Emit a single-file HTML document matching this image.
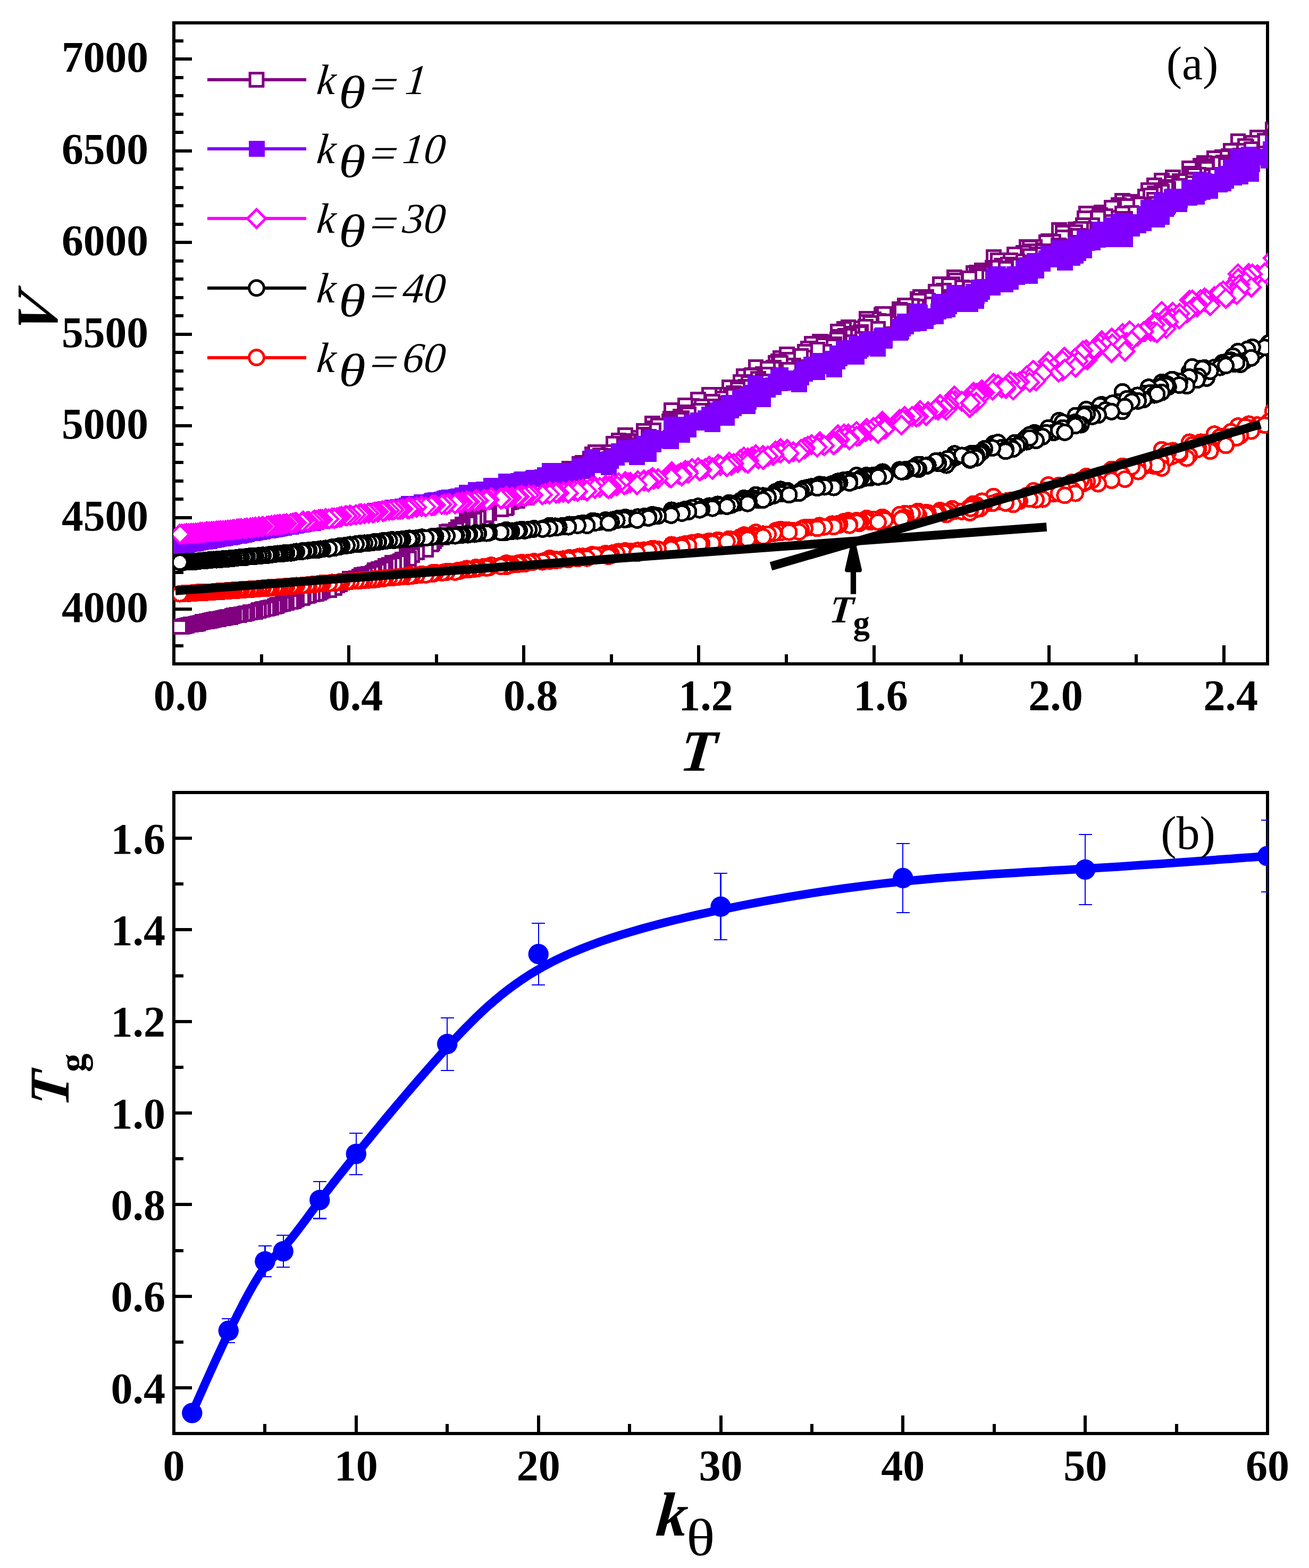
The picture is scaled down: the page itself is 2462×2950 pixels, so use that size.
<!DOCTYPE html>
<html lang="en">
<head>
<meta charset="utf-8">
<title>Volume vs temperature and glass transition temperature</title>
<style>
html,body{margin:0;padding:0;background:#fff;}
body{width:2462px;height:2950px;overflow:hidden;}
svg{display:block;}
text{white-space:pre;}
</style>
</head>
<body>
<svg width="2462" height="2950" viewBox="0 0 2462 2950" shape-rendering="crispEdges" font-family="'Liberation Serif',serif">
<rect width="2462" height="2950" fill="#fff"/>
<defs><clipPath id="ca"><rect x="326" y="42" width="2059" height="1208"/></clipPath><clipPath id="cb"><rect x="326" y="1490" width="2059" height="1208"/></clipPath></defs>
<g fill="#000">
<rect x="330" y="1212.0" width="15" height="6"/>
<rect x="330" y="1177.5" width="15" height="6"/>
<rect x="330" y="1143.0" width="31" height="6"/>
<rect x="330" y="1108.5" width="15" height="6"/>
<rect x="330" y="1074.0" width="15" height="6"/>
<rect x="330" y="1039.5" width="15" height="6"/>
<rect x="330" y="1005.0" width="15" height="6"/>
<rect x="330" y="970.5" width="31" height="6"/>
<rect x="330" y="936.0" width="15" height="6"/>
<rect x="330" y="901.5" width="15" height="6"/>
<rect x="330" y="867.0" width="15" height="6"/>
<rect x="330" y="832.5" width="15" height="6"/>
<rect x="330" y="798.0" width="31" height="6"/>
<rect x="330" y="763.5" width="15" height="6"/>
<rect x="330" y="729.0" width="15" height="6"/>
<rect x="330" y="694.5" width="15" height="6"/>
<rect x="330" y="660.0" width="15" height="6"/>
<rect x="330" y="625.5" width="31" height="6"/>
<rect x="330" y="591.0" width="15" height="6"/>
<rect x="330" y="556.5" width="15" height="6"/>
<rect x="330" y="522.0" width="15" height="6"/>
<rect x="330" y="487.5" width="15" height="6"/>
<rect x="330" y="453.0" width="31" height="6"/>
<rect x="330" y="418.5" width="15" height="6"/>
<rect x="330" y="384.0" width="15" height="6"/>
<rect x="330" y="349.5" width="15" height="6"/>
<rect x="330" y="315.0" width="15" height="6"/>
<rect x="330" y="280.5" width="31" height="6"/>
<rect x="330" y="246.0" width="15" height="6"/>
<rect x="330" y="211.5" width="15" height="6"/>
<rect x="330" y="177.0" width="15" height="6"/>
<rect x="330" y="142.5" width="15" height="6"/>
<rect x="330" y="108.0" width="31" height="6"/>
<rect x="330" y="73.5" width="15" height="6"/>
<rect x="488.6" y="1231" width="6" height="15"/>
<rect x="653.1" y="1214" width="6" height="32"/>
<rect x="817.7" y="1231" width="6" height="15"/>
<rect x="982.2" y="1214" width="6" height="32"/>
<rect x="1146.8" y="1231" width="6" height="15"/>
<rect x="1311.4" y="1214" width="6" height="32"/>
<rect x="1475.9" y="1231" width="6" height="15"/>
<rect x="1640.5" y="1214" width="6" height="32"/>
<rect x="1805.0" y="1231" width="6" height="15"/>
<rect x="1969.6" y="1214" width="6" height="32"/>
<rect x="2134.2" y="1231" width="6" height="15"/>
<rect x="2298.7" y="1214" width="6" height="32"/>
</g>
<rect x="327.0" y="43.0" width="2057.0" height="1206.0" fill="none" stroke="#000" stroke-width="6"/>
<g clip-path="url(#ca)">
<polyline points="2466.9,219.5 2486.5,231.8 2479.7,231.9 2444.2,229.2 2443.7,233.6 2435.3,230.1 2450.7,232.1 2435.2,234.8 2445.3,241.8 2394.3,243.5 2451.5,241.0 2417.2,249.3 2426.9,251.5 2407.9,250.8 2399.3,256.5 2410.1,252.7 2412.3,255.4 2389.5,259.9 2386.1,259.7 2396.9,265.3 2364.6,258.4 2348.7,271.9 2378.8,264.5 2355.3,269.1 2328.5,265.9 2344.1,276.4 2346.1,281.3 2328.7,282.4 2319.0,283.4 2342.2,275.2 2353.4,280.5 2328.8,283.9 2315.3,283.9 2331.3,294.8 2333.0,292.7 2310.4,293.9 2321.3,298.1 2326.0,294.0 2299.2,296.2 2283.9,298.3 2300.5,306.3 2294.4,307.7 2305.5,310.7 2258.3,314.9 2265.2,306.5 2257.7,312.0 2237.3,317.1 2266.5,312.7 2269.4,318.3 2242.3,327.0 2276.2,329.4 2261.8,331.4 2254.0,329.0 2245.6,329.9 2251.3,337.6 2205.8,333.4 2236.5,338.5 2232.0,344.8 2185.1,339.6 2218.8,340.6 2203.8,345.3 2218.0,350.0 2191.8,351.5 2195.1,352.2 2197.3,356.0 2171.0,348.8 2193.3,354.1 2176.3,360.5 2182.7,357.9 2160.2,358.2 2184.8,360.9 2171.9,364.2 2153.5,369.4 2163.8,367.9 2170.8,375.4 2176.0,383.7 2111.2,377.9 2151.1,386.1 2139.3,383.9 2124.9,379.9 2104.2,385.7 2140.6,384.7 2091.0,394.3 2119.6,388.1 2128.5,400.8 2072.0,399.7 2091.0,390.5 2068.6,404.7 2092.3,410.1 2110.8,402.0 2115.7,411.7 2043.0,401.8 2060.3,412.7 2079.0,406.6 2090.5,417.8 2065.4,410.1 2040.0,410.4 2054.5,423.6 2044.6,433.5 2036.9,423.5 2023.1,431.7 2039.0,430.6 2033.2,430.8 2021.7,436.9 2015.1,443.4 1991.7,433.0 2001.7,442.8 2027.9,443.9 1998.4,438.3 1971.7,453.4 2017.3,456.9 1998.5,446.5 2022.6,460.0 1981.5,454.8 1967.8,455.9 1945.7,465.1 1991.3,461.6 2002.8,464.1 1944.1,471.2 1942.9,472.2 1961.0,472.5 1931.0,464.7 1936.8,465.9 1931.1,479.5 1936.5,472.7 1948.5,479.3 1924.9,476.0 1936.7,481.8 1908.3,479.1 1917.5,493.6 1868.8,484.2 1876.9,490.0 1913.0,491.7 1883.8,499.6 1900.5,490.3 1895.5,498.2 1905.3,499.4 1891.8,504.5 1891.2,506.2 1866.6,504.1 1851.7,509.1 1846.8,508.4 1846.9,513.9 1831.0,513.4 1837.2,513.0 1841.1,517.6 1843.0,521.2 1828.1,531.0 1795.3,521.4 1824.3,526.7 1825.3,533.6 1836.5,520.3 1823.1,523.7 1796.8,528.0 1791.1,534.5 1836.0,546.4 1809.1,540.5 1824.1,545.9 1825.2,541.7 1767.9,535.1 1785.2,537.0 1782.2,552.7 1779.8,551.0 1775.1,546.6 1764.7,558.9 1759.9,549.3 1725.4,562.7 1745.2,566.0 1730.4,558.4 1741.8,558.8 1726.9,569.1 1742.1,562.7 1741.4,573.0 1727.9,566.0 1723.8,576.6 1715.5,575.4 1701.4,575.0 1702.2,574.9 1692.0,581.7 1703.6,574.5 1692.5,583.3 1698.4,584.7 1659.8,591.3 1695.4,584.9 1661.4,599.5 1657.6,592.7 1662.9,591.1 1652.0,603.9 1663.1,607.0 1643.2,600.9 1630.0,599.8 1629.8,605.7 1664.3,604.5 1637.2,608.1 1611.1,618.1 1627.9,615.0 1595.5,615.9 1651.4,618.7 1587.4,618.9 1619.2,624.7 1616.1,626.8 1575.9,623.4 1603.1,627.4 1611.3,638.3 1597.5,632.6 1589.5,632.0 1597.6,643.5 1579.1,636.7 1577.9,633.9 1565.3,643.5 1574.7,638.7 1542.0,642.5 1568.9,648.0 1541.3,648.0 1526.4,647.3 1548.4,650.2 1568.0,652.0 1550.5,661.6 1519.6,655.5 1537.1,658.1 1512.1,671.4 1513.7,662.2 1513.3,673.0 1467.8,674.3 1506.5,670.0 1480.2,666.6 1481.9,676.7 1463.6,679.7 1458.6,683.0 1464.6,681.3 1492.1,688.2 1503.0,691.1 1468.2,682.6 1484.0,695.4 1455.3,692.1 1421.4,691.0 1454.2,694.1 1455.2,705.7 1435.2,704.0 1444.0,694.2 1444.6,704.4 1414.4,705.5 1399.1,707.6 1417.4,708.3 1413.3,706.4 1406.4,718.6 1426.3,713.0 1435.2,717.7 1392.4,718.9 1408.2,720.6 1408.2,729.2 1399.8,729.9 1401.5,727.6 1371.4,728.7 1387.4,733.0 1406.2,741.5 1379.9,740.1 1350.1,742.9 1367.8,742.7 1375.2,745.3 1354.9,749.7 1333.9,743.1 1367.2,760.2 1313.1,752.2 1340.0,755.4 1326.5,765.9 1301.3,763.4 1339.8,764.9 1320.0,764.5 1289.0,762.6 1315.9,772.4 1293.4,779.0 1263.3,772.3 1280.3,784.3 1292.7,775.8 1294.9,779.7 1282.4,787.3 1276.0,787.4 1279.0,792.6 1262.9,788.6 1282.5,789.6 1260.5,788.3 1258.7,793.3 1258.6,796.1 1227.1,796.8 1228.7,806.2 1262.3,804.3 1237.8,801.2 1223.1,820.0 1229.3,810.2 1211.2,810.8 1219.6,822.3 1199.7,824.1 1210.9,817.8 1176.2,818.9 1219.6,822.7 1185.1,832.0 1163.5,829.3 1181.3,829.9 1174.6,834.4 1178.7,840.2 1153.7,834.8 1174.0,839.7 1198.2,839.2 1139.0,850.4 1160.1,851.4 1145.6,851.3 1149.2,850.9 1113.9,854.7 1119.9,851.2 1140.3,858.0 1128.4,857.1 1149.4,859.4 1109.8,862.6 1118.7,865.3 1144.5,868.7 1096.2,870.9 1089.9,872.4 1098.4,873.1 1093.9,877.0 1102.4,878.3 1087.8,881.6 1070.9,881.9 1080.4,883.1 1104.0,886.5 1086.5,890.2 1034.0,891.3 1058.2,893.0 1043.9,895.6 1060.0,897.5 1044.9,899.6 1068.9,901.3 1051.1,903.6 1046.1,905.8 1032.5,907.6 1025.3,909.6 1025.9,912.1 1033.8,914.4 1019.7,916.4 1004.2,918.5 1020.2,920.6 1002.4,923.3 994.7,924.8 981.7,927.1 980.2,929.5 975.1,931.1 952.3,933.2 986.2,935.6 976.5,937.8 963.1,939.5 973.3,941.6 962.0,943.6 956.9,945.4 923.8,948.2 941.5,949.9 945.6,951.5 952.9,954.1 950.9,955.8 942.0,958.1 910.4,960.5 895.4,962.4 919.9,965.2 910.0,966.6 915.1,969.3 899.8,971.5 899.0,974.0 877.8,976.1 892.5,978.1 879.6,980.3 882.9,982.5 879.6,985.1 869.9,986.9 869.6,989.6 862.3,991.7 864.8,994.2 858.2,996.5 844.7,999.6 840.1,1001.2 855.7,1004.0 835.7,1006.4 840.5,1009.0 831.2,1011.5 819.1,1014.0 813.4,1016.7 816.0,1018.5 812.8,1021.6 811.2,1023.9 792.7,1026.9 793.5,1029.1 792.9,1031.7 800.8,1034.4 769.4,1037.3 783.7,1039.5 772.7,1041.8 775.0,1044.5 764.5,1046.1 765.9,1048.0 769.3,1050.8 757.1,1052.9 753.3,1055.4 748.6,1057.6 737.5,1058.5 740.9,1061.4 732.2,1063.1 724.4,1064.6 724.6,1066.3 719.2,1068.5 720.3,1069.6 711.7,1071.1 704.8,1072.9 710.7,1074.1 703.9,1076.3 700.9,1077.7 693.3,1079.5 685.6,1081.1 679.8,1082.3 676.2,1084.7 677.4,1085.6 669.4,1087.9 658.3,1088.8 660.1,1091.1 650.2,1092.5 652.3,1094.4 642.7,1095.9 638.3,1097.2 639.2,1099.2 634.2,1101.2 624.3,1103.1 628.4,1104.2 628.8,1105.7 612.5,1107.7 618.8,1109.6 606.6,1111.1 602.9,1112.6 599.6,1114.6 591.7,1116.1 595.1,1117.4 588.5,1118.4 580.9,1120.1 577.9,1121.4 570.6,1122.4 569.2,1124.4 567.8,1125.5 557.6,1126.6 556.1,1128.5 553.1,1129.6 550.6,1131.0 546.8,1132.4 539.0,1133.6 534.3,1134.3 532.1,1135.8 526.4,1137.5 522.2,1138.3 520.0,1139.8 516.5,1141.2 510.2,1142.7 505.2,1143.9 501.9,1145.0 494.6,1145.8 492.6,1147.3 487.1,1148.3 486.3,1149.1 480.4,1150.6 475.5,1151.4 470.9,1152.0 464.9,1153.5 463.0,1154.0 459.4,1155.2 453.4,1155.4 450.0,1156.7 445.7,1157.3 440.1,1158.1 437.2,1158.7 433.0,1160.8 428.2,1160.9 423.8,1161.9 419.8,1163.0 414.6,1163.5 410.9,1164.6 406.9,1165.0 402.0,1166.3 398.2,1167.0 393.6,1168.2 389.0,1169.0 385.1,1169.5 380.7,1170.3 376.5,1171.4 372.1,1172.8 368.0,1173.6 363.5,1174.5 359.3,1174.7 355.0,1175.5 350.7,1176.8 346.4,1177.8 342.1,1178.6 338.3,1179.5" fill="none" stroke="#800080" stroke-width="5" stroke-linejoin="round"/>
<g fill="#fff" stroke="#800080" stroke-width="5">
<rect x="2454.5" y="207.1" width="24.8" height="24.8"/>
<rect x="2474.1" y="219.4" width="24.8" height="24.8"/>
<rect x="2467.3" y="219.5" width="24.8" height="24.8"/>
<rect x="2431.8" y="216.8" width="24.8" height="24.8"/>
<rect x="2431.3" y="221.2" width="24.8" height="24.8"/>
<rect x="2422.9" y="217.7" width="24.8" height="24.8"/>
<rect x="2438.3" y="219.7" width="24.8" height="24.8"/>
<rect x="2422.8" y="222.4" width="24.8" height="24.8"/>
<rect x="2432.9" y="229.4" width="24.8" height="24.8"/>
<rect x="2381.9" y="231.1" width="24.8" height="24.8"/>
<rect x="2439.1" y="228.6" width="24.8" height="24.8"/>
<rect x="2404.8" y="236.9" width="24.8" height="24.8"/>
<rect x="2414.5" y="239.1" width="24.8" height="24.8"/>
<rect x="2395.5" y="238.4" width="24.8" height="24.8"/>
<rect x="2386.9" y="244.1" width="24.8" height="24.8"/>
<rect x="2397.7" y="240.3" width="24.8" height="24.8"/>
<rect x="2399.9" y="243.0" width="24.8" height="24.8"/>
<rect x="2377.1" y="247.5" width="24.8" height="24.8"/>
<rect x="2373.7" y="247.3" width="24.8" height="24.8"/>
<rect x="2384.5" y="252.9" width="24.8" height="24.8"/>
<rect x="2352.2" y="246.0" width="24.8" height="24.8"/>
<rect x="2336.3" y="259.5" width="24.8" height="24.8"/>
<rect x="2366.4" y="252.1" width="24.8" height="24.8"/>
<rect x="2342.9" y="256.7" width="24.8" height="24.8"/>
<rect x="2316.1" y="253.5" width="24.8" height="24.8"/>
<rect x="2331.7" y="264.0" width="24.8" height="24.8"/>
<rect x="2333.7" y="268.9" width="24.8" height="24.8"/>
<rect x="2316.3" y="270.0" width="24.8" height="24.8"/>
<rect x="2306.6" y="271.0" width="24.8" height="24.8"/>
<rect x="2329.8" y="262.8" width="24.8" height="24.8"/>
<rect x="2341.0" y="268.1" width="24.8" height="24.8"/>
<rect x="2316.4" y="271.5" width="24.8" height="24.8"/>
<rect x="2302.9" y="271.5" width="24.8" height="24.8"/>
<rect x="2318.9" y="282.4" width="24.8" height="24.8"/>
<rect x="2320.6" y="280.3" width="24.8" height="24.8"/>
<rect x="2298.0" y="281.5" width="24.8" height="24.8"/>
<rect x="2308.9" y="285.7" width="24.8" height="24.8"/>
<rect x="2313.6" y="281.6" width="24.8" height="24.8"/>
<rect x="2286.8" y="283.8" width="24.8" height="24.8"/>
<rect x="2271.5" y="285.9" width="24.8" height="24.8"/>
<rect x="2288.1" y="293.9" width="24.8" height="24.8"/>
<rect x="2282.0" y="295.3" width="24.8" height="24.8"/>
<rect x="2293.1" y="298.3" width="24.8" height="24.8"/>
<rect x="2245.9" y="302.5" width="24.8" height="24.8"/>
<rect x="2252.8" y="294.1" width="24.8" height="24.8"/>
<rect x="2245.3" y="299.6" width="24.8" height="24.8"/>
<rect x="2224.9" y="304.7" width="24.8" height="24.8"/>
<rect x="2254.1" y="300.3" width="24.8" height="24.8"/>
<rect x="2257.0" y="305.9" width="24.8" height="24.8"/>
<rect x="2229.9" y="314.6" width="24.8" height="24.8"/>
<rect x="2263.8" y="317.0" width="24.8" height="24.8"/>
<rect x="2249.4" y="319.0" width="24.8" height="24.8"/>
<rect x="2241.6" y="316.6" width="24.8" height="24.8"/>
<rect x="2233.2" y="317.5" width="24.8" height="24.8"/>
<rect x="2238.9" y="325.2" width="24.8" height="24.8"/>
<rect x="2193.4" y="321.0" width="24.8" height="24.8"/>
<rect x="2224.1" y="326.1" width="24.8" height="24.8"/>
<rect x="2219.6" y="332.4" width="24.8" height="24.8"/>
<rect x="2172.7" y="327.2" width="24.8" height="24.8"/>
<rect x="2206.4" y="328.2" width="24.8" height="24.8"/>
<rect x="2191.4" y="332.9" width="24.8" height="24.8"/>
<rect x="2205.6" y="337.6" width="24.8" height="24.8"/>
<rect x="2179.4" y="339.1" width="24.8" height="24.8"/>
<rect x="2182.7" y="339.8" width="24.8" height="24.8"/>
<rect x="2184.9" y="343.6" width="24.8" height="24.8"/>
<rect x="2158.6" y="336.4" width="24.8" height="24.8"/>
<rect x="2180.9" y="341.7" width="24.8" height="24.8"/>
<rect x="2163.9" y="348.1" width="24.8" height="24.8"/>
<rect x="2170.3" y="345.5" width="24.8" height="24.8"/>
<rect x="2147.8" y="345.8" width="24.8" height="24.8"/>
<rect x="2172.4" y="348.5" width="24.8" height="24.8"/>
<rect x="2159.5" y="351.8" width="24.8" height="24.8"/>
<rect x="2141.1" y="357.0" width="24.8" height="24.8"/>
<rect x="2151.4" y="355.5" width="24.8" height="24.8"/>
<rect x="2158.4" y="363.0" width="24.8" height="24.8"/>
<rect x="2163.6" y="371.3" width="24.8" height="24.8"/>
<rect x="2098.8" y="365.5" width="24.8" height="24.8"/>
<rect x="2138.7" y="373.7" width="24.8" height="24.8"/>
<rect x="2126.9" y="371.5" width="24.8" height="24.8"/>
<rect x="2112.5" y="367.5" width="24.8" height="24.8"/>
<rect x="2091.8" y="373.3" width="24.8" height="24.8"/>
<rect x="2128.2" y="372.3" width="24.8" height="24.8"/>
<rect x="2078.6" y="381.9" width="24.8" height="24.8"/>
<rect x="2107.2" y="375.7" width="24.8" height="24.8"/>
<rect x="2116.1" y="388.4" width="24.8" height="24.8"/>
<rect x="2059.6" y="387.3" width="24.8" height="24.8"/>
<rect x="2078.6" y="378.1" width="24.8" height="24.8"/>
<rect x="2056.2" y="392.3" width="24.8" height="24.8"/>
<rect x="2079.9" y="397.7" width="24.8" height="24.8"/>
<rect x="2098.4" y="389.6" width="24.8" height="24.8"/>
<rect x="2103.3" y="399.3" width="24.8" height="24.8"/>
<rect x="2030.6" y="389.4" width="24.8" height="24.8"/>
<rect x="2047.9" y="400.3" width="24.8" height="24.8"/>
<rect x="2066.6" y="394.2" width="24.8" height="24.8"/>
<rect x="2078.1" y="405.4" width="24.8" height="24.8"/>
<rect x="2053.0" y="397.7" width="24.8" height="24.8"/>
<rect x="2027.6" y="398.0" width="24.8" height="24.8"/>
<rect x="2042.1" y="411.2" width="24.8" height="24.8"/>
<rect x="2032.2" y="421.1" width="24.8" height="24.8"/>
<rect x="2024.5" y="411.1" width="24.8" height="24.8"/>
<rect x="2010.7" y="419.3" width="24.8" height="24.8"/>
<rect x="2026.6" y="418.2" width="24.8" height="24.8"/>
<rect x="2020.8" y="418.4" width="24.8" height="24.8"/>
<rect x="2009.3" y="424.5" width="24.8" height="24.8"/>
<rect x="2002.7" y="431.0" width="24.8" height="24.8"/>
<rect x="1979.3" y="420.6" width="24.8" height="24.8"/>
<rect x="1989.3" y="430.4" width="24.8" height="24.8"/>
<rect x="2015.5" y="431.5" width="24.8" height="24.8"/>
<rect x="1986.0" y="425.9" width="24.8" height="24.8"/>
<rect x="1959.3" y="441.0" width="24.8" height="24.8"/>
<rect x="2004.9" y="444.5" width="24.8" height="24.8"/>
<rect x="1986.1" y="434.1" width="24.8" height="24.8"/>
<rect x="2010.2" y="447.6" width="24.8" height="24.8"/>
<rect x="1969.1" y="442.4" width="24.8" height="24.8"/>
<rect x="1955.4" y="443.5" width="24.8" height="24.8"/>
<rect x="1933.3" y="452.7" width="24.8" height="24.8"/>
<rect x="1978.9" y="449.2" width="24.8" height="24.8"/>
<rect x="1990.4" y="451.7" width="24.8" height="24.8"/>
<rect x="1931.7" y="458.8" width="24.8" height="24.8"/>
<rect x="1930.5" y="459.8" width="24.8" height="24.8"/>
<rect x="1948.6" y="460.1" width="24.8" height="24.8"/>
<rect x="1918.6" y="452.3" width="24.8" height="24.8"/>
<rect x="1924.4" y="453.5" width="24.8" height="24.8"/>
<rect x="1918.7" y="467.1" width="24.8" height="24.8"/>
<rect x="1924.1" y="460.3" width="24.8" height="24.8"/>
<rect x="1936.1" y="466.9" width="24.8" height="24.8"/>
<rect x="1912.5" y="463.6" width="24.8" height="24.8"/>
<rect x="1924.3" y="469.4" width="24.8" height="24.8"/>
<rect x="1895.9" y="466.7" width="24.8" height="24.8"/>
<rect x="1905.1" y="481.2" width="24.8" height="24.8"/>
<rect x="1856.4" y="471.8" width="24.8" height="24.8"/>
<rect x="1864.5" y="477.6" width="24.8" height="24.8"/>
<rect x="1900.6" y="479.3" width="24.8" height="24.8"/>
<rect x="1871.4" y="487.2" width="24.8" height="24.8"/>
<rect x="1888.1" y="477.9" width="24.8" height="24.8"/>
<rect x="1883.1" y="485.8" width="24.8" height="24.8"/>
<rect x="1892.9" y="487.0" width="24.8" height="24.8"/>
<rect x="1879.4" y="492.1" width="24.8" height="24.8"/>
<rect x="1878.8" y="493.8" width="24.8" height="24.8"/>
<rect x="1854.2" y="491.7" width="24.8" height="24.8"/>
<rect x="1839.3" y="496.7" width="24.8" height="24.8"/>
<rect x="1834.4" y="496.0" width="24.8" height="24.8"/>
<rect x="1834.5" y="501.5" width="24.8" height="24.8"/>
<rect x="1818.6" y="501.0" width="24.8" height="24.8"/>
<rect x="1824.8" y="500.6" width="24.8" height="24.8"/>
<rect x="1828.7" y="505.2" width="24.8" height="24.8"/>
<rect x="1830.6" y="508.8" width="24.8" height="24.8"/>
<rect x="1815.7" y="518.6" width="24.8" height="24.8"/>
<rect x="1782.9" y="509.0" width="24.8" height="24.8"/>
<rect x="1811.9" y="514.3" width="24.8" height="24.8"/>
<rect x="1812.9" y="521.2" width="24.8" height="24.8"/>
<rect x="1824.1" y="507.9" width="24.8" height="24.8"/>
<rect x="1810.7" y="511.3" width="24.8" height="24.8"/>
<rect x="1784.4" y="515.6" width="24.8" height="24.8"/>
<rect x="1778.7" y="522.1" width="24.8" height="24.8"/>
<rect x="1823.6" y="534.0" width="24.8" height="24.8"/>
<rect x="1796.7" y="528.1" width="24.8" height="24.8"/>
<rect x="1811.7" y="533.5" width="24.8" height="24.8"/>
<rect x="1812.8" y="529.3" width="24.8" height="24.8"/>
<rect x="1755.5" y="522.7" width="24.8" height="24.8"/>
<rect x="1772.8" y="524.6" width="24.8" height="24.8"/>
<rect x="1769.8" y="540.3" width="24.8" height="24.8"/>
<rect x="1767.4" y="538.6" width="24.8" height="24.8"/>
<rect x="1762.7" y="534.2" width="24.8" height="24.8"/>
<rect x="1752.3" y="546.5" width="24.8" height="24.8"/>
<rect x="1747.5" y="536.9" width="24.8" height="24.8"/>
<rect x="1713.0" y="550.3" width="24.8" height="24.8"/>
<rect x="1732.8" y="553.6" width="24.8" height="24.8"/>
<rect x="1718.0" y="546.0" width="24.8" height="24.8"/>
<rect x="1729.4" y="546.4" width="24.8" height="24.8"/>
<rect x="1714.5" y="556.7" width="24.8" height="24.8"/>
<rect x="1729.7" y="550.3" width="24.8" height="24.8"/>
<rect x="1729.0" y="560.6" width="24.8" height="24.8"/>
<rect x="1715.5" y="553.6" width="24.8" height="24.8"/>
<rect x="1711.4" y="564.2" width="24.8" height="24.8"/>
<rect x="1703.1" y="563.0" width="24.8" height="24.8"/>
<rect x="1689.0" y="562.6" width="24.8" height="24.8"/>
<rect x="1689.8" y="562.5" width="24.8" height="24.8"/>
<rect x="1679.6" y="569.3" width="24.8" height="24.8"/>
<rect x="1691.2" y="562.1" width="24.8" height="24.8"/>
<rect x="1680.1" y="570.9" width="24.8" height="24.8"/>
<rect x="1686.0" y="572.3" width="24.8" height="24.8"/>
<rect x="1647.4" y="578.9" width="24.8" height="24.8"/>
<rect x="1683.0" y="572.5" width="24.8" height="24.8"/>
<rect x="1649.0" y="587.1" width="24.8" height="24.8"/>
<rect x="1645.2" y="580.3" width="24.8" height="24.8"/>
<rect x="1650.5" y="578.7" width="24.8" height="24.8"/>
<rect x="1639.6" y="591.5" width="24.8" height="24.8"/>
<rect x="1650.7" y="594.6" width="24.8" height="24.8"/>
<rect x="1630.8" y="588.5" width="24.8" height="24.8"/>
<rect x="1617.6" y="587.4" width="24.8" height="24.8"/>
<rect x="1617.4" y="593.3" width="24.8" height="24.8"/>
<rect x="1651.9" y="592.1" width="24.8" height="24.8"/>
<rect x="1624.8" y="595.7" width="24.8" height="24.8"/>
<rect x="1598.7" y="605.7" width="24.8" height="24.8"/>
<rect x="1615.5" y="602.6" width="24.8" height="24.8"/>
<rect x="1583.1" y="603.5" width="24.8" height="24.8"/>
<rect x="1639.0" y="606.3" width="24.8" height="24.8"/>
<rect x="1575.0" y="606.5" width="24.8" height="24.8"/>
<rect x="1606.8" y="612.3" width="24.8" height="24.8"/>
<rect x="1603.7" y="614.4" width="24.8" height="24.8"/>
<rect x="1563.5" y="611.0" width="24.8" height="24.8"/>
<rect x="1590.7" y="615.0" width="24.8" height="24.8"/>
<rect x="1598.9" y="625.9" width="24.8" height="24.8"/>
<rect x="1585.1" y="620.2" width="24.8" height="24.8"/>
<rect x="1577.1" y="619.6" width="24.8" height="24.8"/>
<rect x="1585.2" y="631.1" width="24.8" height="24.8"/>
<rect x="1566.7" y="624.3" width="24.8" height="24.8"/>
<rect x="1565.5" y="621.5" width="24.8" height="24.8"/>
<rect x="1552.9" y="631.1" width="24.8" height="24.8"/>
<rect x="1562.3" y="626.3" width="24.8" height="24.8"/>
<rect x="1529.6" y="630.1" width="24.8" height="24.8"/>
<rect x="1556.5" y="635.6" width="24.8" height="24.8"/>
<rect x="1528.9" y="635.6" width="24.8" height="24.8"/>
<rect x="1514.0" y="634.9" width="24.8" height="24.8"/>
<rect x="1536.0" y="637.8" width="24.8" height="24.8"/>
<rect x="1555.6" y="639.6" width="24.8" height="24.8"/>
<rect x="1538.1" y="649.2" width="24.8" height="24.8"/>
<rect x="1507.2" y="643.1" width="24.8" height="24.8"/>
<rect x="1524.7" y="645.7" width="24.8" height="24.8"/>
<rect x="1499.7" y="659.0" width="24.8" height="24.8"/>
<rect x="1501.3" y="649.8" width="24.8" height="24.8"/>
<rect x="1500.9" y="660.6" width="24.8" height="24.8"/>
<rect x="1455.4" y="661.9" width="24.8" height="24.8"/>
<rect x="1494.1" y="657.6" width="24.8" height="24.8"/>
<rect x="1467.8" y="654.2" width="24.8" height="24.8"/>
<rect x="1469.5" y="664.3" width="24.8" height="24.8"/>
<rect x="1451.2" y="667.3" width="24.8" height="24.8"/>
<rect x="1446.2" y="670.6" width="24.8" height="24.8"/>
<rect x="1452.2" y="668.9" width="24.8" height="24.8"/>
<rect x="1479.7" y="675.8" width="24.8" height="24.8"/>
<rect x="1490.6" y="678.7" width="24.8" height="24.8"/>
<rect x="1455.8" y="670.2" width="24.8" height="24.8"/>
<rect x="1471.6" y="683.0" width="24.8" height="24.8"/>
<rect x="1442.9" y="679.7" width="24.8" height="24.8"/>
<rect x="1409.0" y="678.6" width="24.8" height="24.8"/>
<rect x="1441.8" y="681.7" width="24.8" height="24.8"/>
<rect x="1442.8" y="693.3" width="24.8" height="24.8"/>
<rect x="1422.8" y="691.6" width="24.8" height="24.8"/>
<rect x="1431.6" y="681.8" width="24.8" height="24.8"/>
<rect x="1432.2" y="692.0" width="24.8" height="24.8"/>
<rect x="1402.0" y="693.1" width="24.8" height="24.8"/>
<rect x="1386.7" y="695.2" width="24.8" height="24.8"/>
<rect x="1405.0" y="695.9" width="24.8" height="24.8"/>
<rect x="1400.9" y="694.0" width="24.8" height="24.8"/>
<rect x="1394.0" y="706.2" width="24.8" height="24.8"/>
<rect x="1413.9" y="700.6" width="24.8" height="24.8"/>
<rect x="1422.8" y="705.3" width="24.8" height="24.8"/>
<rect x="1380.0" y="706.5" width="24.8" height="24.8"/>
<rect x="1395.8" y="708.2" width="24.8" height="24.8"/>
<rect x="1395.8" y="716.8" width="24.8" height="24.8"/>
<rect x="1387.4" y="717.5" width="24.8" height="24.8"/>
<rect x="1389.1" y="715.2" width="24.8" height="24.8"/>
<rect x="1359.0" y="716.3" width="24.8" height="24.8"/>
<rect x="1375.0" y="720.6" width="24.8" height="24.8"/>
<rect x="1393.8" y="729.1" width="24.8" height="24.8"/>
<rect x="1367.5" y="727.7" width="24.8" height="24.8"/>
<rect x="1337.7" y="730.5" width="24.8" height="24.8"/>
<rect x="1355.4" y="730.3" width="24.8" height="24.8"/>
<rect x="1362.8" y="732.9" width="24.8" height="24.8"/>
<rect x="1342.5" y="737.3" width="24.8" height="24.8"/>
<rect x="1321.5" y="730.7" width="24.8" height="24.8"/>
<rect x="1354.8" y="747.8" width="24.8" height="24.8"/>
<rect x="1300.7" y="739.8" width="24.8" height="24.8"/>
<rect x="1327.6" y="743.0" width="24.8" height="24.8"/>
<rect x="1314.1" y="753.5" width="24.8" height="24.8"/>
<rect x="1288.9" y="751.0" width="24.8" height="24.8"/>
<rect x="1327.4" y="752.5" width="24.8" height="24.8"/>
<rect x="1307.6" y="752.1" width="24.8" height="24.8"/>
<rect x="1276.6" y="750.2" width="24.8" height="24.8"/>
<rect x="1303.5" y="760.0" width="24.8" height="24.8"/>
<rect x="1281.0" y="766.6" width="24.8" height="24.8"/>
<rect x="1250.9" y="759.9" width="24.8" height="24.8"/>
<rect x="1267.9" y="771.9" width="24.8" height="24.8"/>
<rect x="1280.3" y="763.4" width="24.8" height="24.8"/>
<rect x="1282.5" y="767.3" width="24.8" height="24.8"/>
<rect x="1270.0" y="774.9" width="24.8" height="24.8"/>
<rect x="1263.6" y="775.0" width="24.8" height="24.8"/>
<rect x="1266.6" y="780.2" width="24.8" height="24.8"/>
<rect x="1250.5" y="776.2" width="24.8" height="24.8"/>
<rect x="1270.1" y="777.2" width="24.8" height="24.8"/>
<rect x="1248.1" y="775.9" width="24.8" height="24.8"/>
<rect x="1246.3" y="780.9" width="24.8" height="24.8"/>
<rect x="1246.2" y="783.7" width="24.8" height="24.8"/>
<rect x="1214.7" y="784.4" width="24.8" height="24.8"/>
<rect x="1216.3" y="793.8" width="24.8" height="24.8"/>
<rect x="1249.9" y="791.9" width="24.8" height="24.8"/>
<rect x="1225.4" y="788.8" width="24.8" height="24.8"/>
<rect x="1210.7" y="807.6" width="24.8" height="24.8"/>
<rect x="1216.9" y="797.8" width="24.8" height="24.8"/>
<rect x="1198.8" y="798.4" width="24.8" height="24.8"/>
<rect x="1207.2" y="809.9" width="24.8" height="24.8"/>
<rect x="1187.3" y="811.7" width="24.8" height="24.8"/>
<rect x="1198.5" y="805.4" width="24.8" height="24.8"/>
<rect x="1163.8" y="806.5" width="24.8" height="24.8"/>
<rect x="1207.2" y="810.3" width="24.8" height="24.8"/>
<rect x="1172.7" y="819.6" width="24.8" height="24.8"/>
<rect x="1151.1" y="816.9" width="24.8" height="24.8"/>
<rect x="1168.9" y="817.5" width="24.8" height="24.8"/>
<rect x="1162.2" y="822.0" width="24.8" height="24.8"/>
<rect x="1166.3" y="827.8" width="24.8" height="24.8"/>
<rect x="1141.3" y="822.4" width="24.8" height="24.8"/>
<rect x="1161.6" y="827.3" width="24.8" height="24.8"/>
<rect x="1185.8" y="826.8" width="24.8" height="24.8"/>
<rect x="1126.6" y="838.0" width="24.8" height="24.8"/>
<rect x="1147.7" y="839.0" width="24.8" height="24.8"/>
<rect x="1133.2" y="838.9" width="24.8" height="24.8"/>
<rect x="1136.8" y="838.5" width="24.8" height="24.8"/>
<rect x="1101.5" y="842.3" width="24.8" height="24.8"/>
<rect x="1107.5" y="838.8" width="24.8" height="24.8"/>
<rect x="1127.9" y="845.6" width="24.8" height="24.8"/>
<rect x="1116.0" y="844.7" width="24.8" height="24.8"/>
<rect x="1137.0" y="847.0" width="24.8" height="24.8"/>
<rect x="1097.4" y="850.2" width="24.8" height="24.8"/>
<rect x="1106.3" y="852.9" width="24.8" height="24.8"/>
<rect x="1132.1" y="856.3" width="24.8" height="24.8"/>
<rect x="1083.8" y="858.5" width="24.8" height="24.8"/>
<rect x="1077.5" y="860.0" width="24.8" height="24.8"/>
<rect x="1086.0" y="860.7" width="24.8" height="24.8"/>
<rect x="1081.5" y="864.6" width="24.8" height="24.8"/>
<rect x="1090.0" y="865.9" width="24.8" height="24.8"/>
<rect x="1075.4" y="869.2" width="24.8" height="24.8"/>
<rect x="1058.5" y="869.5" width="24.8" height="24.8"/>
<rect x="1068.0" y="870.7" width="24.8" height="24.8"/>
<rect x="1091.6" y="874.1" width="24.8" height="24.8"/>
<rect x="1074.1" y="877.8" width="24.8" height="24.8"/>
<rect x="1021.6" y="878.9" width="24.8" height="24.8"/>
<rect x="1045.8" y="880.6" width="24.8" height="24.8"/>
<rect x="1031.5" y="883.2" width="24.8" height="24.8"/>
<rect x="1047.6" y="885.1" width="24.8" height="24.8"/>
<rect x="1032.5" y="887.2" width="24.8" height="24.8"/>
<rect x="1056.5" y="888.9" width="24.8" height="24.8"/>
<rect x="1038.7" y="891.2" width="24.8" height="24.8"/>
<rect x="1033.7" y="893.4" width="24.8" height="24.8"/>
<rect x="1020.1" y="895.2" width="24.8" height="24.8"/>
<rect x="1012.9" y="897.2" width="24.8" height="24.8"/>
<rect x="1013.5" y="899.7" width="24.8" height="24.8"/>
<rect x="1021.4" y="902.0" width="24.8" height="24.8"/>
<rect x="1007.3" y="904.0" width="24.8" height="24.8"/>
<rect x="991.8" y="906.1" width="24.8" height="24.8"/>
<rect x="1007.8" y="908.2" width="24.8" height="24.8"/>
<rect x="990.0" y="910.9" width="24.8" height="24.8"/>
<rect x="982.3" y="912.4" width="24.8" height="24.8"/>
<rect x="969.3" y="914.7" width="24.8" height="24.8"/>
<rect x="967.8" y="917.1" width="24.8" height="24.8"/>
<rect x="962.7" y="918.7" width="24.8" height="24.8"/>
<rect x="939.9" y="920.8" width="24.8" height="24.8"/>
<rect x="973.8" y="923.2" width="24.8" height="24.8"/>
<rect x="964.1" y="925.4" width="24.8" height="24.8"/>
<rect x="950.7" y="927.1" width="24.8" height="24.8"/>
<rect x="960.9" y="929.2" width="24.8" height="24.8"/>
<rect x="949.6" y="931.2" width="24.8" height="24.8"/>
<rect x="944.5" y="933.0" width="24.8" height="24.8"/>
<rect x="911.4" y="935.8" width="24.8" height="24.8"/>
<rect x="929.1" y="937.5" width="24.8" height="24.8"/>
<rect x="933.2" y="939.1" width="24.8" height="24.8"/>
<rect x="940.5" y="941.7" width="24.8" height="24.8"/>
<rect x="938.5" y="943.4" width="24.8" height="24.8"/>
<rect x="929.6" y="945.7" width="24.8" height="24.8"/>
<rect x="898.0" y="948.1" width="24.8" height="24.8"/>
<rect x="883.0" y="950.0" width="24.8" height="24.8"/>
<rect x="907.5" y="952.8" width="24.8" height="24.8"/>
<rect x="897.6" y="954.2" width="24.8" height="24.8"/>
<rect x="902.7" y="956.9" width="24.8" height="24.8"/>
<rect x="887.4" y="959.1" width="24.8" height="24.8"/>
<rect x="886.6" y="961.6" width="24.8" height="24.8"/>
<rect x="865.4" y="963.7" width="24.8" height="24.8"/>
<rect x="880.1" y="965.7" width="24.8" height="24.8"/>
<rect x="867.2" y="967.9" width="24.8" height="24.8"/>
<rect x="870.5" y="970.1" width="24.8" height="24.8"/>
<rect x="867.2" y="972.7" width="24.8" height="24.8"/>
<rect x="857.5" y="974.5" width="24.8" height="24.8"/>
<rect x="857.2" y="977.2" width="24.8" height="24.8"/>
<rect x="849.9" y="979.3" width="24.8" height="24.8"/>
<rect x="852.4" y="981.8" width="24.8" height="24.8"/>
<rect x="845.8" y="984.1" width="24.8" height="24.8"/>
<rect x="832.3" y="987.2" width="24.8" height="24.8"/>
<rect x="827.7" y="988.8" width="24.8" height="24.8"/>
<rect x="843.3" y="991.6" width="24.8" height="24.8"/>
<rect x="823.3" y="994.0" width="24.8" height="24.8"/>
<rect x="828.1" y="996.6" width="24.8" height="24.8"/>
<rect x="818.8" y="999.1" width="24.8" height="24.8"/>
<rect x="806.7" y="1001.6" width="24.8" height="24.8"/>
<rect x="801.0" y="1004.3" width="24.8" height="24.8"/>
<rect x="803.6" y="1006.1" width="24.8" height="24.8"/>
<rect x="800.4" y="1009.2" width="24.8" height="24.8"/>
<rect x="798.8" y="1011.5" width="24.8" height="24.8"/>
<rect x="780.3" y="1014.5" width="24.8" height="24.8"/>
<rect x="781.1" y="1016.7" width="24.8" height="24.8"/>
<rect x="780.5" y="1019.3" width="24.8" height="24.8"/>
<rect x="788.4" y="1022.0" width="24.8" height="24.8"/>
<rect x="757.0" y="1024.9" width="24.8" height="24.8"/>
<rect x="771.3" y="1027.1" width="24.8" height="24.8"/>
<rect x="760.3" y="1029.4" width="24.8" height="24.8"/>
<rect x="762.6" y="1032.1" width="24.8" height="24.8"/>
<rect x="752.1" y="1033.7" width="24.8" height="24.8"/>
<rect x="753.5" y="1035.6" width="24.8" height="24.8"/>
<rect x="756.9" y="1038.4" width="24.8" height="24.8"/>
<rect x="744.7" y="1040.5" width="24.8" height="24.8"/>
<rect x="740.9" y="1043.0" width="24.8" height="24.8"/>
<rect x="736.2" y="1045.2" width="24.8" height="24.8"/>
<rect x="725.1" y="1046.1" width="24.8" height="24.8"/>
<rect x="728.5" y="1049.0" width="24.8" height="24.8"/>
<rect x="719.8" y="1050.7" width="24.8" height="24.8"/>
<rect x="712.0" y="1052.2" width="24.8" height="24.8"/>
<rect x="712.2" y="1053.9" width="24.8" height="24.8"/>
<rect x="706.8" y="1056.1" width="24.8" height="24.8"/>
<rect x="707.9" y="1057.2" width="24.8" height="24.8"/>
<rect x="699.3" y="1058.7" width="24.8" height="24.8"/>
<rect x="692.4" y="1060.5" width="24.8" height="24.8"/>
<rect x="698.3" y="1061.7" width="24.8" height="24.8"/>
<rect x="691.5" y="1063.9" width="24.8" height="24.8"/>
<rect x="688.5" y="1065.3" width="24.8" height="24.8"/>
<rect x="680.9" y="1067.1" width="24.8" height="24.8"/>
<rect x="673.2" y="1068.7" width="24.8" height="24.8"/>
<rect x="667.4" y="1069.9" width="24.8" height="24.8"/>
<rect x="663.8" y="1072.3" width="24.8" height="24.8"/>
<rect x="665.0" y="1073.2" width="24.8" height="24.8"/>
<rect x="657.0" y="1075.5" width="24.8" height="24.8"/>
<rect x="645.9" y="1076.4" width="24.8" height="24.8"/>
<rect x="647.7" y="1078.7" width="24.8" height="24.8"/>
<rect x="637.8" y="1080.1" width="24.8" height="24.8"/>
<rect x="639.9" y="1082.0" width="24.8" height="24.8"/>
<rect x="630.3" y="1083.5" width="24.8" height="24.8"/>
<rect x="625.9" y="1084.8" width="24.8" height="24.8"/>
<rect x="626.8" y="1086.8" width="24.8" height="24.8"/>
<rect x="621.8" y="1088.8" width="24.8" height="24.8"/>
<rect x="611.9" y="1090.7" width="24.8" height="24.8"/>
<rect x="616.0" y="1091.8" width="24.8" height="24.8"/>
<rect x="616.4" y="1093.3" width="24.8" height="24.8"/>
<rect x="600.1" y="1095.3" width="24.8" height="24.8"/>
<rect x="606.4" y="1097.2" width="24.8" height="24.8"/>
<rect x="594.2" y="1098.7" width="24.8" height="24.8"/>
<rect x="590.5" y="1100.2" width="24.8" height="24.8"/>
<rect x="587.2" y="1102.2" width="24.8" height="24.8"/>
<rect x="579.3" y="1103.7" width="24.8" height="24.8"/>
<rect x="582.7" y="1105.0" width="24.8" height="24.8"/>
<rect x="576.1" y="1106.0" width="24.8" height="24.8"/>
<rect x="568.5" y="1107.7" width="24.8" height="24.8"/>
<rect x="565.5" y="1109.0" width="24.8" height="24.8"/>
<rect x="558.2" y="1110.0" width="24.8" height="24.8"/>
<rect x="556.8" y="1112.0" width="24.8" height="24.8"/>
<rect x="555.4" y="1113.1" width="24.8" height="24.8"/>
<rect x="545.2" y="1114.2" width="24.8" height="24.8"/>
<rect x="543.7" y="1116.1" width="24.8" height="24.8"/>
<rect x="540.7" y="1117.2" width="24.8" height="24.8"/>
<rect x="538.2" y="1118.6" width="24.8" height="24.8"/>
<rect x="534.4" y="1120.0" width="24.8" height="24.8"/>
<rect x="526.6" y="1121.2" width="24.8" height="24.8"/>
<rect x="521.9" y="1121.9" width="24.8" height="24.8"/>
<rect x="519.7" y="1123.4" width="24.8" height="24.8"/>
<rect x="514.0" y="1125.1" width="24.8" height="24.8"/>
<rect x="509.8" y="1125.9" width="24.8" height="24.8"/>
<rect x="507.6" y="1127.4" width="24.8" height="24.8"/>
<rect x="504.1" y="1128.8" width="24.8" height="24.8"/>
<rect x="497.8" y="1130.3" width="24.8" height="24.8"/>
<rect x="492.8" y="1131.5" width="24.8" height="24.8"/>
<rect x="489.5" y="1132.6" width="24.8" height="24.8"/>
<rect x="482.2" y="1133.4" width="24.8" height="24.8"/>
<rect x="480.2" y="1134.9" width="24.8" height="24.8"/>
<rect x="474.7" y="1135.9" width="24.8" height="24.8"/>
<rect x="473.9" y="1136.7" width="24.8" height="24.8"/>
<rect x="468.0" y="1138.2" width="24.8" height="24.8"/>
<rect x="463.1" y="1139.0" width="24.8" height="24.8"/>
<rect x="458.5" y="1139.6" width="24.8" height="24.8"/>
<rect x="452.5" y="1141.1" width="24.8" height="24.8"/>
<rect x="450.6" y="1141.6" width="24.8" height="24.8"/>
<rect x="447.0" y="1142.8" width="24.8" height="24.8"/>
<rect x="441.0" y="1143.0" width="24.8" height="24.8"/>
<rect x="437.6" y="1144.3" width="24.8" height="24.8"/>
<rect x="433.3" y="1144.9" width="24.8" height="24.8"/>
<rect x="427.7" y="1145.7" width="24.8" height="24.8"/>
<rect x="424.8" y="1146.3" width="24.8" height="24.8"/>
<rect x="420.6" y="1148.4" width="24.8" height="24.8"/>
<rect x="415.8" y="1148.5" width="24.8" height="24.8"/>
<rect x="411.4" y="1149.5" width="24.8" height="24.8"/>
<rect x="407.4" y="1150.6" width="24.8" height="24.8"/>
<rect x="402.2" y="1151.1" width="24.8" height="24.8"/>
<rect x="398.5" y="1152.2" width="24.8" height="24.8"/>
<rect x="394.5" y="1152.6" width="24.8" height="24.8"/>
<rect x="389.6" y="1153.9" width="24.8" height="24.8"/>
<rect x="385.8" y="1154.6" width="24.8" height="24.8"/>
<rect x="381.2" y="1155.8" width="24.8" height="24.8"/>
<rect x="376.6" y="1156.6" width="24.8" height="24.8"/>
<rect x="372.7" y="1157.1" width="24.8" height="24.8"/>
<rect x="368.3" y="1157.9" width="24.8" height="24.8"/>
<rect x="364.1" y="1159.0" width="24.8" height="24.8"/>
<rect x="359.7" y="1160.4" width="24.8" height="24.8"/>
<rect x="355.6" y="1161.2" width="24.8" height="24.8"/>
<rect x="351.1" y="1162.1" width="24.8" height="24.8"/>
<rect x="346.9" y="1162.3" width="24.8" height="24.8"/>
<rect x="342.6" y="1163.1" width="24.8" height="24.8"/>
<rect x="338.3" y="1164.4" width="24.8" height="24.8"/>
<rect x="334.0" y="1165.4" width="24.8" height="24.8"/>
<rect x="329.7" y="1166.2" width="24.8" height="24.8"/>
<rect x="325.9" y="1167.1" width="24.8" height="24.8"/>
</g>
<polyline points="2466.9,255.2 2486.5,252.9 2479.7,256.2 2444.2,262.7 2443.7,264.4 2435.3,265.8 2450.7,277.6 2435.2,269.1 2445.3,272.7 2394.3,270.0 2451.5,274.7 2417.2,280.6 2426.9,282.8 2407.9,281.7 2399.3,286.1 2410.1,286.7 2412.3,280.4 2389.5,281.1 2386.1,302.0 2396.9,298.2 2364.6,296.4 2348.7,291.2 2378.8,295.2 2355.3,308.6 2328.5,295.4 2344.1,305.5 2346.1,312.7 2328.7,311.6 2319.0,316.3 2342.2,314.5 2353.4,326.6 2328.8,314.8 2315.3,315.4 2331.3,324.5 2333.0,331.6 2310.4,327.3 2321.3,334.1 2326.0,329.4 2299.2,328.6 2283.9,341.8 2300.5,344.6 2294.4,346.5 2305.5,340.2 2258.3,339.1 2265.2,341.2 2257.7,347.3 2237.3,352.9 2266.5,354.6 2269.4,348.4 2242.3,357.5 2276.2,358.8 2261.8,361.2 2254.0,362.8 2245.6,364.1 2251.3,369.6 2205.8,369.7 2236.5,372.2 2232.0,370.3 2185.1,377.1 2218.8,376.9 2203.8,370.5 2218.0,383.7 2191.8,382.6 2195.1,389.8 2197.3,387.2 2171.0,389.5 2193.3,392.9 2176.3,394.1 2182.7,394.3 2160.2,390.5 2184.8,408.3 2171.9,395.6 2153.5,403.0 2163.8,409.3 2170.8,410.2 2176.0,413.1 2111.2,416.0 2151.1,420.2 2139.3,418.1 2124.9,428.4 2104.2,416.6 2140.6,424.0 2091.0,423.5 2119.6,424.8 2128.5,430.4 2072.0,437.5 2091.0,430.2 2068.6,432.2 2092.3,440.4 2110.8,441.7 2115.7,449.8 2043.0,447.8 2060.3,446.4 2079.0,446.0 2090.5,450.3 2065.4,450.7 2040.0,447.5 2054.5,455.5 2044.6,456.7 2036.9,458.4 2023.1,459.5 2039.0,470.6 2033.2,468.3 2021.7,471.4 2015.1,466.7 1991.7,466.9 2001.7,472.0 2027.9,476.2 1998.4,475.7 1971.7,478.3 2017.3,485.2 1998.5,484.3 2022.6,480.7 1981.5,485.0 1967.8,485.9 1945.7,491.4 1991.3,487.6 2002.8,493.7 1944.1,499.4 1942.9,498.4 1961.0,496.2 1931.0,499.4 1936.8,504.4 1931.1,507.8 1936.5,511.1 1948.5,508.6 1924.9,505.4 1936.7,518.9 1908.3,515.9 1917.5,518.1 1868.8,519.5 1876.9,515.5 1913.0,520.5 1883.8,524.8 1900.5,530.1 1895.5,527.8 1905.3,520.0 1891.8,530.3 1891.2,534.8 1866.6,540.8 1851.7,540.2 1846.8,548.6 1846.9,547.2 1831.0,548.9 1837.2,549.1 1841.1,541.1 1843.0,552.7 1828.1,553.7 1795.3,550.8 1824.3,557.6 1825.3,558.9 1836.5,557.2 1823.1,560.7 1796.8,562.1 1791.1,566.3 1836.0,565.5 1809.1,571.8 1824.1,563.2 1825.2,572.3 1767.9,568.4 1785.2,575.6 1782.2,582.0 1779.8,582.0 1775.1,583.5 1764.7,586.4 1759.9,594.9 1725.4,585.5 1745.2,596.2 1730.4,588.0 1741.8,594.6 1726.9,599.4 1742.1,597.1 1741.4,603.8 1727.9,608.1 1723.8,602.0 1715.5,608.9 1701.4,609.7 1702.2,605.1 1692.0,614.7 1703.6,614.2 1692.5,625.5 1698.4,618.1 1659.8,631.3 1695.4,623.8 1661.4,636.5 1657.6,632.6 1662.9,634.3 1652.0,637.9 1663.1,640.5 1643.2,644.7 1630.0,648.2 1629.8,641.3 1664.3,639.5 1637.2,637.5 1611.1,647.4 1627.9,654.4 1595.5,654.8 1651.4,655.7 1587.4,655.8 1619.2,656.6 1616.1,660.2 1575.9,665.1 1603.1,657.9 1611.3,670.6 1597.5,663.2 1589.5,670.8 1597.6,670.8 1579.1,673.9 1577.9,673.0 1565.3,674.5 1574.7,680.4 1542.0,678.7 1568.9,694.8 1541.3,685.5 1526.4,686.4 1548.4,688.8 1568.0,688.5 1550.5,685.5 1519.6,695.8 1537.1,700.1 1512.1,694.2 1513.7,702.5 1513.3,699.2 1467.8,706.1 1506.5,709.6 1480.2,711.9 1481.9,713.5 1463.6,710.3 1458.6,718.9 1464.6,714.9 1492.1,720.0 1503.0,723.2 1468.2,720.5 1484.0,717.9 1455.3,727.7 1421.4,721.9 1454.2,724.6 1455.2,725.3 1435.2,735.3 1444.0,732.6 1444.6,725.6 1414.4,739.9 1399.1,747.3 1417.4,747.9 1413.3,739.4 1406.4,744.0 1426.3,747.7 1435.2,751.2 1392.4,749.4 1408.2,746.5 1408.2,756.4 1399.8,757.8 1401.5,751.5 1371.4,757.8 1387.4,762.7 1406.2,763.7 1379.9,768.2 1350.1,771.6 1367.8,772.8 1375.2,772.2 1354.9,769.2 1333.9,780.0 1367.2,785.7 1313.1,790.5 1340.0,784.2 1326.5,786.6 1301.3,795.3 1339.8,797.6 1320.0,795.2 1289.0,799.1 1315.9,795.1 1293.4,803.2 1263.3,799.4 1280.3,804.6 1292.7,806.9 1294.9,807.6 1282.4,802.7 1276.0,810.4 1279.0,817.4 1262.9,817.8 1282.5,818.4 1260.5,823.9 1258.7,826.9 1258.6,829.4 1227.1,824.1 1228.7,829.5 1262.3,829.7 1237.8,829.2 1223.1,828.3 1229.3,836.0 1211.2,834.5 1219.6,849.1 1199.7,841.3 1210.9,842.5 1176.2,843.4 1219.6,854.4 1185.1,844.6 1163.5,849.4 1181.3,848.7 1174.6,852.9 1178.7,854.8 1153.7,860.6 1174.0,852.9 1198.2,859.5 1139.0,866.7 1160.1,860.9 1145.6,863.5 1149.2,862.7 1113.9,860.2 1119.9,868.1 1140.3,873.1 1128.4,869.8 1149.4,867.4 1109.8,874.4 1118.7,875.1 1144.5,878.6 1096.2,879.4 1089.9,878.0 1098.4,880.5 1093.9,877.3 1102.4,883.9 1087.8,883.2 1070.9,885.6 1080.4,886.5 1104.0,885.3 1086.5,886.4 1034.0,886.4 1058.2,886.0 1043.9,889.1 1060.0,890.3 1044.9,889.9 1068.9,892.4 1051.1,892.7 1046.1,893.8 1032.5,893.8 1025.3,894.2 1025.9,896.5 1033.8,897.3 1019.7,897.8 1004.2,898.6 1020.2,899.7 1002.4,900.7 994.7,901.6 981.7,902.2 980.2,904.1 975.1,904.5 952.3,906.0 986.2,907.1 976.5,908.4 963.1,908.9 973.3,910.9 962.0,911.9 956.9,913.1 923.8,914.4 941.5,914.9 945.6,915.6 952.9,917.5 950.9,918.9 942.0,919.9 910.4,920.5 895.4,921.7 919.9,922.8 910.0,923.2 915.1,924.5 899.8,925.4 899.0,927.0 877.8,927.2 892.5,928.8 879.6,929.2 882.9,929.6 879.6,931.6 869.9,931.6 869.6,932.9 862.3,934.1 864.8,934.2 858.2,934.8 844.7,936.4 840.1,936.9 855.7,937.3 835.7,938.1 840.5,939.1 831.2,940.3 819.1,940.8 813.4,941.8 816.0,942.9 812.8,943.6 811.2,944.4 792.7,945.1 793.5,945.0 792.9,946.6 800.8,947.1 769.4,947.7 783.7,948.2 772.7,948.8 775.0,949.6 764.5,950.7 765.9,951.1 769.3,952.0 757.1,952.8 753.3,953.9 748.6,954.4 737.5,955.2 740.9,956.4 732.2,956.6 724.4,957.7 724.6,957.9 719.2,959.1 720.3,959.8 711.7,960.6 704.8,961.1 710.7,961.7 703.9,962.7 700.9,963.5 693.3,964.7 685.6,965.5 679.8,965.6 676.2,966.9 677.4,967.4 669.4,968.4 658.3,968.9 660.1,969.4 650.2,970.9 652.3,971.6 642.7,971.8 638.3,972.4 639.2,973.6 634.2,974.2 624.3,975.2 628.4,976.3 628.8,977.3 612.5,977.5 618.8,978.8 606.6,979.5 602.9,979.8 599.6,980.2 591.7,981.7 595.1,982.4 588.5,983.7 580.9,984.2 577.9,984.8 570.6,985.8 569.2,985.8 567.8,986.9 557.6,987.6 556.1,988.9 553.1,989.3 550.6,989.3 546.8,991.1 539.0,991.2 534.3,992.5 532.1,992.9 526.4,993.8 522.2,994.7 520.0,995.3 516.5,995.8 510.2,997.2 505.2,997.7 501.9,998.3 494.6,999.3 492.6,999.7 487.1,1001.2 486.3,1001.4 480.4,1002.2 475.5,1003.0 470.9,1003.4 464.9,1004.0 463.0,1005.2 459.4,1006.0 453.4,1007.1 450.0,1007.5 445.7,1007.8 440.1,1009.1 437.2,1009.9 433.0,1010.7 428.2,1011.3 423.8,1011.6 419.8,1013.0 414.6,1013.2 410.9,1014.3 406.9,1014.5 402.0,1015.9 398.2,1016.2 393.6,1017.5 389.0,1018.4 385.1,1019.0 380.7,1019.1 376.5,1019.9 372.1,1020.6 368.0,1021.8 363.5,1022.5 359.3,1023.2 355.0,1024.0 350.7,1024.8 346.4,1025.6 342.1,1026.6 338.3,1026.8" fill="none" stroke="#8000ff" stroke-width="5" stroke-linejoin="round"/>
<g fill="#8000ff" stroke="none">
<rect x="2451.9" y="240.2" width="30" height="30"/>
<rect x="2471.5" y="237.9" width="30" height="30"/>
<rect x="2464.7" y="241.2" width="30" height="30"/>
<rect x="2429.2" y="247.7" width="30" height="30"/>
<rect x="2428.7" y="249.4" width="30" height="30"/>
<rect x="2420.3" y="250.8" width="30" height="30"/>
<rect x="2435.7" y="262.6" width="30" height="30"/>
<rect x="2420.2" y="254.1" width="30" height="30"/>
<rect x="2430.3" y="257.7" width="30" height="30"/>
<rect x="2379.3" y="255.0" width="30" height="30"/>
<rect x="2436.5" y="259.7" width="30" height="30"/>
<rect x="2402.2" y="265.6" width="30" height="30"/>
<rect x="2411.9" y="267.8" width="30" height="30"/>
<rect x="2392.9" y="266.7" width="30" height="30"/>
<rect x="2384.3" y="271.1" width="30" height="30"/>
<rect x="2395.1" y="271.7" width="30" height="30"/>
<rect x="2397.3" y="265.4" width="30" height="30"/>
<rect x="2374.5" y="266.1" width="30" height="30"/>
<rect x="2371.1" y="287.0" width="30" height="30"/>
<rect x="2381.9" y="283.2" width="30" height="30"/>
<rect x="2349.6" y="281.4" width="30" height="30"/>
<rect x="2333.7" y="276.2" width="30" height="30"/>
<rect x="2363.8" y="280.2" width="30" height="30"/>
<rect x="2340.3" y="293.6" width="30" height="30"/>
<rect x="2313.5" y="280.4" width="30" height="30"/>
<rect x="2329.1" y="290.5" width="30" height="30"/>
<rect x="2331.1" y="297.7" width="30" height="30"/>
<rect x="2313.7" y="296.6" width="30" height="30"/>
<rect x="2304.0" y="301.3" width="30" height="30"/>
<rect x="2327.2" y="299.5" width="30" height="30"/>
<rect x="2338.4" y="311.6" width="30" height="30"/>
<rect x="2313.8" y="299.8" width="30" height="30"/>
<rect x="2300.3" y="300.4" width="30" height="30"/>
<rect x="2316.3" y="309.5" width="30" height="30"/>
<rect x="2318.0" y="316.6" width="30" height="30"/>
<rect x="2295.4" y="312.3" width="30" height="30"/>
<rect x="2306.3" y="319.1" width="30" height="30"/>
<rect x="2311.0" y="314.4" width="30" height="30"/>
<rect x="2284.2" y="313.6" width="30" height="30"/>
<rect x="2268.9" y="326.8" width="30" height="30"/>
<rect x="2285.5" y="329.6" width="30" height="30"/>
<rect x="2279.4" y="331.5" width="30" height="30"/>
<rect x="2290.5" y="325.2" width="30" height="30"/>
<rect x="2243.3" y="324.1" width="30" height="30"/>
<rect x="2250.2" y="326.2" width="30" height="30"/>
<rect x="2242.7" y="332.3" width="30" height="30"/>
<rect x="2222.3" y="337.9" width="30" height="30"/>
<rect x="2251.5" y="339.6" width="30" height="30"/>
<rect x="2254.4" y="333.4" width="30" height="30"/>
<rect x="2227.3" y="342.5" width="30" height="30"/>
<rect x="2261.2" y="343.8" width="30" height="30"/>
<rect x="2246.8" y="346.2" width="30" height="30"/>
<rect x="2239.0" y="347.8" width="30" height="30"/>
<rect x="2230.6" y="349.1" width="30" height="30"/>
<rect x="2236.3" y="354.6" width="30" height="30"/>
<rect x="2190.8" y="354.7" width="30" height="30"/>
<rect x="2221.5" y="357.2" width="30" height="30"/>
<rect x="2217.0" y="355.3" width="30" height="30"/>
<rect x="2170.1" y="362.1" width="30" height="30"/>
<rect x="2203.8" y="361.9" width="30" height="30"/>
<rect x="2188.8" y="355.5" width="30" height="30"/>
<rect x="2203.0" y="368.7" width="30" height="30"/>
<rect x="2176.8" y="367.6" width="30" height="30"/>
<rect x="2180.1" y="374.8" width="30" height="30"/>
<rect x="2182.3" y="372.2" width="30" height="30"/>
<rect x="2156.0" y="374.5" width="30" height="30"/>
<rect x="2178.3" y="377.9" width="30" height="30"/>
<rect x="2161.3" y="379.1" width="30" height="30"/>
<rect x="2167.7" y="379.3" width="30" height="30"/>
<rect x="2145.2" y="375.5" width="30" height="30"/>
<rect x="2169.8" y="393.3" width="30" height="30"/>
<rect x="2156.9" y="380.6" width="30" height="30"/>
<rect x="2138.5" y="388.0" width="30" height="30"/>
<rect x="2148.8" y="394.3" width="30" height="30"/>
<rect x="2155.8" y="395.2" width="30" height="30"/>
<rect x="2161.0" y="398.1" width="30" height="30"/>
<rect x="2096.2" y="401.0" width="30" height="30"/>
<rect x="2136.1" y="405.2" width="30" height="30"/>
<rect x="2124.3" y="403.1" width="30" height="30"/>
<rect x="2109.9" y="413.4" width="30" height="30"/>
<rect x="2089.2" y="401.6" width="30" height="30"/>
<rect x="2125.6" y="409.0" width="30" height="30"/>
<rect x="2076.0" y="408.5" width="30" height="30"/>
<rect x="2104.6" y="409.8" width="30" height="30"/>
<rect x="2113.5" y="415.4" width="30" height="30"/>
<rect x="2057.0" y="422.5" width="30" height="30"/>
<rect x="2076.0" y="415.2" width="30" height="30"/>
<rect x="2053.6" y="417.2" width="30" height="30"/>
<rect x="2077.3" y="425.4" width="30" height="30"/>
<rect x="2095.8" y="426.7" width="30" height="30"/>
<rect x="2100.7" y="434.8" width="30" height="30"/>
<rect x="2028.0" y="432.8" width="30" height="30"/>
<rect x="2045.3" y="431.4" width="30" height="30"/>
<rect x="2064.0" y="431.0" width="30" height="30"/>
<rect x="2075.5" y="435.3" width="30" height="30"/>
<rect x="2050.4" y="435.7" width="30" height="30"/>
<rect x="2025.0" y="432.5" width="30" height="30"/>
<rect x="2039.5" y="440.5" width="30" height="30"/>
<rect x="2029.6" y="441.7" width="30" height="30"/>
<rect x="2021.9" y="443.4" width="30" height="30"/>
<rect x="2008.1" y="444.5" width="30" height="30"/>
<rect x="2024.0" y="455.6" width="30" height="30"/>
<rect x="2018.2" y="453.3" width="30" height="30"/>
<rect x="2006.7" y="456.4" width="30" height="30"/>
<rect x="2000.1" y="451.7" width="30" height="30"/>
<rect x="1976.7" y="451.9" width="30" height="30"/>
<rect x="1986.7" y="457.0" width="30" height="30"/>
<rect x="2012.9" y="461.2" width="30" height="30"/>
<rect x="1983.4" y="460.7" width="30" height="30"/>
<rect x="1956.7" y="463.3" width="30" height="30"/>
<rect x="2002.3" y="470.2" width="30" height="30"/>
<rect x="1983.5" y="469.3" width="30" height="30"/>
<rect x="2007.6" y="465.7" width="30" height="30"/>
<rect x="1966.5" y="470.0" width="30" height="30"/>
<rect x="1952.8" y="470.9" width="30" height="30"/>
<rect x="1930.7" y="476.4" width="30" height="30"/>
<rect x="1976.3" y="472.6" width="30" height="30"/>
<rect x="1987.8" y="478.7" width="30" height="30"/>
<rect x="1929.1" y="484.4" width="30" height="30"/>
<rect x="1927.9" y="483.4" width="30" height="30"/>
<rect x="1946.0" y="481.2" width="30" height="30"/>
<rect x="1916.0" y="484.4" width="30" height="30"/>
<rect x="1921.8" y="489.4" width="30" height="30"/>
<rect x="1916.1" y="492.8" width="30" height="30"/>
<rect x="1921.5" y="496.1" width="30" height="30"/>
<rect x="1933.5" y="493.6" width="30" height="30"/>
<rect x="1909.9" y="490.4" width="30" height="30"/>
<rect x="1921.7" y="503.9" width="30" height="30"/>
<rect x="1893.3" y="500.9" width="30" height="30"/>
<rect x="1902.5" y="503.1" width="30" height="30"/>
<rect x="1853.8" y="504.5" width="30" height="30"/>
<rect x="1861.9" y="500.5" width="30" height="30"/>
<rect x="1898.0" y="505.5" width="30" height="30"/>
<rect x="1868.8" y="509.8" width="30" height="30"/>
<rect x="1885.5" y="515.1" width="30" height="30"/>
<rect x="1880.5" y="512.8" width="30" height="30"/>
<rect x="1890.3" y="505.0" width="30" height="30"/>
<rect x="1876.8" y="515.3" width="30" height="30"/>
<rect x="1876.2" y="519.8" width="30" height="30"/>
<rect x="1851.6" y="525.8" width="30" height="30"/>
<rect x="1836.7" y="525.2" width="30" height="30"/>
<rect x="1831.8" y="533.6" width="30" height="30"/>
<rect x="1831.9" y="532.2" width="30" height="30"/>
<rect x="1816.0" y="533.9" width="30" height="30"/>
<rect x="1822.2" y="534.1" width="30" height="30"/>
<rect x="1826.1" y="526.1" width="30" height="30"/>
<rect x="1828.0" y="537.7" width="30" height="30"/>
<rect x="1813.1" y="538.7" width="30" height="30"/>
<rect x="1780.3" y="535.8" width="30" height="30"/>
<rect x="1809.3" y="542.6" width="30" height="30"/>
<rect x="1810.3" y="543.9" width="30" height="30"/>
<rect x="1821.5" y="542.2" width="30" height="30"/>
<rect x="1808.1" y="545.7" width="30" height="30"/>
<rect x="1781.8" y="547.1" width="30" height="30"/>
<rect x="1776.1" y="551.3" width="30" height="30"/>
<rect x="1821.0" y="550.5" width="30" height="30"/>
<rect x="1794.1" y="556.8" width="30" height="30"/>
<rect x="1809.1" y="548.2" width="30" height="30"/>
<rect x="1810.2" y="557.3" width="30" height="30"/>
<rect x="1752.9" y="553.4" width="30" height="30"/>
<rect x="1770.2" y="560.6" width="30" height="30"/>
<rect x="1767.2" y="567.0" width="30" height="30"/>
<rect x="1764.8" y="567.0" width="30" height="30"/>
<rect x="1760.1" y="568.5" width="30" height="30"/>
<rect x="1749.7" y="571.4" width="30" height="30"/>
<rect x="1744.9" y="579.9" width="30" height="30"/>
<rect x="1710.4" y="570.5" width="30" height="30"/>
<rect x="1730.2" y="581.2" width="30" height="30"/>
<rect x="1715.4" y="573.0" width="30" height="30"/>
<rect x="1726.8" y="579.6" width="30" height="30"/>
<rect x="1711.9" y="584.4" width="30" height="30"/>
<rect x="1727.1" y="582.1" width="30" height="30"/>
<rect x="1726.4" y="588.8" width="30" height="30"/>
<rect x="1712.9" y="593.1" width="30" height="30"/>
<rect x="1708.8" y="587.0" width="30" height="30"/>
<rect x="1700.5" y="593.9" width="30" height="30"/>
<rect x="1686.4" y="594.7" width="30" height="30"/>
<rect x="1687.2" y="590.1" width="30" height="30"/>
<rect x="1677.0" y="599.7" width="30" height="30"/>
<rect x="1688.6" y="599.2" width="30" height="30"/>
<rect x="1677.5" y="610.5" width="30" height="30"/>
<rect x="1683.4" y="603.1" width="30" height="30"/>
<rect x="1644.8" y="616.3" width="30" height="30"/>
<rect x="1680.4" y="608.8" width="30" height="30"/>
<rect x="1646.4" y="621.5" width="30" height="30"/>
<rect x="1642.6" y="617.6" width="30" height="30"/>
<rect x="1647.9" y="619.3" width="30" height="30"/>
<rect x="1637.0" y="622.9" width="30" height="30"/>
<rect x="1648.1" y="625.5" width="30" height="30"/>
<rect x="1628.2" y="629.7" width="30" height="30"/>
<rect x="1615.0" y="633.2" width="30" height="30"/>
<rect x="1614.8" y="626.3" width="30" height="30"/>
<rect x="1649.3" y="624.5" width="30" height="30"/>
<rect x="1622.2" y="622.5" width="30" height="30"/>
<rect x="1596.1" y="632.4" width="30" height="30"/>
<rect x="1612.9" y="639.4" width="30" height="30"/>
<rect x="1580.5" y="639.8" width="30" height="30"/>
<rect x="1636.4" y="640.7" width="30" height="30"/>
<rect x="1572.4" y="640.8" width="30" height="30"/>
<rect x="1604.2" y="641.6" width="30" height="30"/>
<rect x="1601.1" y="645.2" width="30" height="30"/>
<rect x="1560.9" y="650.1" width="30" height="30"/>
<rect x="1588.1" y="642.9" width="30" height="30"/>
<rect x="1596.3" y="655.6" width="30" height="30"/>
<rect x="1582.5" y="648.2" width="30" height="30"/>
<rect x="1574.5" y="655.8" width="30" height="30"/>
<rect x="1582.6" y="655.8" width="30" height="30"/>
<rect x="1564.1" y="658.9" width="30" height="30"/>
<rect x="1562.9" y="658.0" width="30" height="30"/>
<rect x="1550.3" y="659.5" width="30" height="30"/>
<rect x="1559.7" y="665.4" width="30" height="30"/>
<rect x="1527.0" y="663.7" width="30" height="30"/>
<rect x="1553.9" y="679.8" width="30" height="30"/>
<rect x="1526.3" y="670.5" width="30" height="30"/>
<rect x="1511.4" y="671.4" width="30" height="30"/>
<rect x="1533.4" y="673.8" width="30" height="30"/>
<rect x="1553.0" y="673.5" width="30" height="30"/>
<rect x="1535.5" y="670.5" width="30" height="30"/>
<rect x="1504.6" y="680.8" width="30" height="30"/>
<rect x="1522.1" y="685.1" width="30" height="30"/>
<rect x="1497.1" y="679.2" width="30" height="30"/>
<rect x="1498.7" y="687.5" width="30" height="30"/>
<rect x="1498.3" y="684.2" width="30" height="30"/>
<rect x="1452.8" y="691.1" width="30" height="30"/>
<rect x="1491.5" y="694.6" width="30" height="30"/>
<rect x="1465.2" y="696.9" width="30" height="30"/>
<rect x="1466.9" y="698.5" width="30" height="30"/>
<rect x="1448.6" y="695.3" width="30" height="30"/>
<rect x="1443.6" y="703.9" width="30" height="30"/>
<rect x="1449.6" y="699.9" width="30" height="30"/>
<rect x="1477.1" y="705.0" width="30" height="30"/>
<rect x="1488.0" y="708.2" width="30" height="30"/>
<rect x="1453.2" y="705.5" width="30" height="30"/>
<rect x="1469.0" y="702.9" width="30" height="30"/>
<rect x="1440.3" y="712.7" width="30" height="30"/>
<rect x="1406.4" y="706.9" width="30" height="30"/>
<rect x="1439.2" y="709.6" width="30" height="30"/>
<rect x="1440.2" y="710.3" width="30" height="30"/>
<rect x="1420.2" y="720.3" width="30" height="30"/>
<rect x="1429.0" y="717.6" width="30" height="30"/>
<rect x="1429.6" y="710.6" width="30" height="30"/>
<rect x="1399.4" y="724.9" width="30" height="30"/>
<rect x="1384.1" y="732.3" width="30" height="30"/>
<rect x="1402.4" y="732.9" width="30" height="30"/>
<rect x="1398.3" y="724.4" width="30" height="30"/>
<rect x="1391.4" y="729.0" width="30" height="30"/>
<rect x="1411.3" y="732.7" width="30" height="30"/>
<rect x="1420.2" y="736.2" width="30" height="30"/>
<rect x="1377.4" y="734.4" width="30" height="30"/>
<rect x="1393.2" y="731.5" width="30" height="30"/>
<rect x="1393.2" y="741.4" width="30" height="30"/>
<rect x="1384.8" y="742.8" width="30" height="30"/>
<rect x="1386.5" y="736.5" width="30" height="30"/>
<rect x="1356.4" y="742.8" width="30" height="30"/>
<rect x="1372.4" y="747.7" width="30" height="30"/>
<rect x="1391.2" y="748.7" width="30" height="30"/>
<rect x="1364.9" y="753.2" width="30" height="30"/>
<rect x="1335.1" y="756.6" width="30" height="30"/>
<rect x="1352.8" y="757.8" width="30" height="30"/>
<rect x="1360.2" y="757.2" width="30" height="30"/>
<rect x="1339.9" y="754.2" width="30" height="30"/>
<rect x="1318.9" y="765.0" width="30" height="30"/>
<rect x="1352.2" y="770.7" width="30" height="30"/>
<rect x="1298.1" y="775.5" width="30" height="30"/>
<rect x="1325.0" y="769.2" width="30" height="30"/>
<rect x="1311.5" y="771.6" width="30" height="30"/>
<rect x="1286.3" y="780.3" width="30" height="30"/>
<rect x="1324.8" y="782.6" width="30" height="30"/>
<rect x="1305.0" y="780.2" width="30" height="30"/>
<rect x="1274.0" y="784.1" width="30" height="30"/>
<rect x="1300.9" y="780.1" width="30" height="30"/>
<rect x="1278.4" y="788.2" width="30" height="30"/>
<rect x="1248.3" y="784.4" width="30" height="30"/>
<rect x="1265.3" y="789.6" width="30" height="30"/>
<rect x="1277.7" y="791.9" width="30" height="30"/>
<rect x="1279.9" y="792.6" width="30" height="30"/>
<rect x="1267.4" y="787.7" width="30" height="30"/>
<rect x="1261.0" y="795.4" width="30" height="30"/>
<rect x="1264.0" y="802.4" width="30" height="30"/>
<rect x="1247.9" y="802.8" width="30" height="30"/>
<rect x="1267.5" y="803.4" width="30" height="30"/>
<rect x="1245.5" y="808.9" width="30" height="30"/>
<rect x="1243.7" y="811.9" width="30" height="30"/>
<rect x="1243.6" y="814.4" width="30" height="30"/>
<rect x="1212.1" y="809.1" width="30" height="30"/>
<rect x="1213.7" y="814.5" width="30" height="30"/>
<rect x="1247.3" y="814.7" width="30" height="30"/>
<rect x="1222.8" y="814.2" width="30" height="30"/>
<rect x="1208.1" y="813.3" width="30" height="30"/>
<rect x="1214.3" y="821.0" width="30" height="30"/>
<rect x="1196.2" y="819.5" width="30" height="30"/>
<rect x="1204.6" y="834.1" width="30" height="30"/>
<rect x="1184.7" y="826.3" width="30" height="30"/>
<rect x="1195.9" y="827.5" width="30" height="30"/>
<rect x="1161.2" y="828.4" width="30" height="30"/>
<rect x="1204.6" y="839.4" width="30" height="30"/>
<rect x="1170.1" y="829.6" width="30" height="30"/>
<rect x="1148.5" y="834.4" width="30" height="30"/>
<rect x="1166.3" y="833.7" width="30" height="30"/>
<rect x="1159.6" y="837.9" width="30" height="30"/>
<rect x="1163.7" y="839.8" width="30" height="30"/>
<rect x="1138.7" y="845.6" width="30" height="30"/>
<rect x="1159.0" y="837.9" width="30" height="30"/>
<rect x="1183.2" y="844.5" width="30" height="30"/>
<rect x="1124.0" y="851.7" width="30" height="30"/>
<rect x="1145.1" y="845.9" width="30" height="30"/>
<rect x="1130.6" y="848.5" width="30" height="30"/>
<rect x="1134.2" y="847.7" width="30" height="30"/>
<rect x="1098.9" y="845.2" width="30" height="30"/>
<rect x="1104.9" y="853.1" width="30" height="30"/>
<rect x="1125.3" y="858.1" width="30" height="30"/>
<rect x="1113.4" y="854.8" width="30" height="30"/>
<rect x="1134.4" y="852.4" width="30" height="30"/>
<rect x="1094.8" y="859.4" width="30" height="30"/>
<rect x="1103.7" y="860.1" width="30" height="30"/>
<rect x="1129.5" y="863.6" width="30" height="30"/>
<rect x="1081.2" y="864.4" width="30" height="30"/>
<rect x="1074.9" y="863.0" width="30" height="30"/>
<rect x="1083.4" y="865.5" width="30" height="30"/>
<rect x="1078.9" y="862.3" width="30" height="30"/>
<rect x="1087.4" y="868.9" width="30" height="30"/>
<rect x="1072.8" y="868.2" width="30" height="30"/>
<rect x="1055.9" y="870.6" width="30" height="30"/>
<rect x="1065.4" y="871.5" width="30" height="30"/>
<rect x="1089.0" y="870.3" width="30" height="30"/>
<rect x="1071.5" y="871.4" width="30" height="30"/>
<rect x="1019.0" y="871.4" width="30" height="30"/>
<rect x="1043.2" y="871.0" width="30" height="30"/>
<rect x="1028.9" y="874.1" width="30" height="30"/>
<rect x="1045.0" y="875.3" width="30" height="30"/>
<rect x="1029.9" y="874.9" width="30" height="30"/>
<rect x="1053.9" y="877.4" width="30" height="30"/>
<rect x="1036.1" y="877.7" width="30" height="30"/>
<rect x="1031.1" y="878.8" width="30" height="30"/>
<rect x="1017.5" y="878.8" width="30" height="30"/>
<rect x="1010.3" y="879.2" width="30" height="30"/>
<rect x="1010.9" y="881.5" width="30" height="30"/>
<rect x="1018.8" y="882.3" width="30" height="30"/>
<rect x="1004.7" y="882.8" width="30" height="30"/>
<rect x="989.2" y="883.6" width="30" height="30"/>
<rect x="1005.2" y="884.7" width="30" height="30"/>
<rect x="987.4" y="885.7" width="30" height="30"/>
<rect x="979.7" y="886.6" width="30" height="30"/>
<rect x="966.7" y="887.2" width="30" height="30"/>
<rect x="965.2" y="889.1" width="30" height="30"/>
<rect x="960.1" y="889.5" width="30" height="30"/>
<rect x="937.3" y="891.0" width="30" height="30"/>
<rect x="971.2" y="892.1" width="30" height="30"/>
<rect x="961.5" y="893.4" width="30" height="30"/>
<rect x="948.1" y="893.9" width="30" height="30"/>
<rect x="958.3" y="895.9" width="30" height="30"/>
<rect x="947.0" y="896.9" width="30" height="30"/>
<rect x="941.9" y="898.1" width="30" height="30"/>
<rect x="908.8" y="899.4" width="30" height="30"/>
<rect x="926.5" y="899.9" width="30" height="30"/>
<rect x="930.6" y="900.6" width="30" height="30"/>
<rect x="937.9" y="902.5" width="30" height="30"/>
<rect x="935.9" y="903.9" width="30" height="30"/>
<rect x="927.0" y="904.9" width="30" height="30"/>
<rect x="895.4" y="905.5" width="30" height="30"/>
<rect x="880.4" y="906.7" width="30" height="30"/>
<rect x="904.9" y="907.8" width="30" height="30"/>
<rect x="895.0" y="908.2" width="30" height="30"/>
<rect x="900.1" y="909.5" width="30" height="30"/>
<rect x="884.8" y="910.4" width="30" height="30"/>
<rect x="884.0" y="912.0" width="30" height="30"/>
<rect x="862.8" y="912.2" width="30" height="30"/>
<rect x="877.5" y="913.8" width="30" height="30"/>
<rect x="864.6" y="914.2" width="30" height="30"/>
<rect x="867.9" y="914.6" width="30" height="30"/>
<rect x="864.6" y="916.6" width="30" height="30"/>
<rect x="854.9" y="916.6" width="30" height="30"/>
<rect x="854.6" y="917.9" width="30" height="30"/>
<rect x="847.3" y="919.1" width="30" height="30"/>
<rect x="849.8" y="919.2" width="30" height="30"/>
<rect x="843.2" y="919.8" width="30" height="30"/>
<rect x="829.7" y="921.4" width="30" height="30"/>
<rect x="825.1" y="921.9" width="30" height="30"/>
<rect x="840.7" y="922.3" width="30" height="30"/>
<rect x="820.7" y="923.1" width="30" height="30"/>
<rect x="825.5" y="924.1" width="30" height="30"/>
<rect x="816.2" y="925.3" width="30" height="30"/>
<rect x="804.1" y="925.8" width="30" height="30"/>
<rect x="798.4" y="926.8" width="30" height="30"/>
<rect x="801.0" y="927.9" width="30" height="30"/>
<rect x="797.8" y="928.6" width="30" height="30"/>
<rect x="796.2" y="929.4" width="30" height="30"/>
<rect x="777.7" y="930.1" width="30" height="30"/>
<rect x="778.5" y="930.0" width="30" height="30"/>
<rect x="777.9" y="931.6" width="30" height="30"/>
<rect x="785.8" y="932.1" width="30" height="30"/>
<rect x="754.4" y="932.7" width="30" height="30"/>
<rect x="768.7" y="933.2" width="30" height="30"/>
<rect x="757.7" y="933.8" width="30" height="30"/>
<rect x="760.0" y="934.6" width="30" height="30"/>
<rect x="749.5" y="935.7" width="30" height="30"/>
<rect x="750.9" y="936.1" width="30" height="30"/>
<rect x="754.3" y="937.0" width="30" height="30"/>
<rect x="742.1" y="937.8" width="30" height="30"/>
<rect x="738.3" y="938.9" width="30" height="30"/>
<rect x="733.6" y="939.4" width="30" height="30"/>
<rect x="722.5" y="940.2" width="30" height="30"/>
<rect x="725.9" y="941.4" width="30" height="30"/>
<rect x="717.2" y="941.6" width="30" height="30"/>
<rect x="709.4" y="942.7" width="30" height="30"/>
<rect x="709.6" y="942.9" width="30" height="30"/>
<rect x="704.2" y="944.1" width="30" height="30"/>
<rect x="705.3" y="944.8" width="30" height="30"/>
<rect x="696.7" y="945.6" width="30" height="30"/>
<rect x="689.8" y="946.1" width="30" height="30"/>
<rect x="695.7" y="946.7" width="30" height="30"/>
<rect x="688.9" y="947.7" width="30" height="30"/>
<rect x="685.9" y="948.5" width="30" height="30"/>
<rect x="678.3" y="949.7" width="30" height="30"/>
<rect x="670.6" y="950.5" width="30" height="30"/>
<rect x="664.8" y="950.6" width="30" height="30"/>
<rect x="661.2" y="951.9" width="30" height="30"/>
<rect x="662.4" y="952.4" width="30" height="30"/>
<rect x="654.4" y="953.4" width="30" height="30"/>
<rect x="643.3" y="953.9" width="30" height="30"/>
<rect x="645.1" y="954.4" width="30" height="30"/>
<rect x="635.2" y="955.9" width="30" height="30"/>
<rect x="637.3" y="956.6" width="30" height="30"/>
<rect x="627.7" y="956.8" width="30" height="30"/>
<rect x="623.3" y="957.4" width="30" height="30"/>
<rect x="624.2" y="958.6" width="30" height="30"/>
<rect x="619.2" y="959.2" width="30" height="30"/>
<rect x="609.3" y="960.2" width="30" height="30"/>
<rect x="613.4" y="961.3" width="30" height="30"/>
<rect x="613.8" y="962.3" width="30" height="30"/>
<rect x="597.5" y="962.5" width="30" height="30"/>
<rect x="603.8" y="963.8" width="30" height="30"/>
<rect x="591.6" y="964.5" width="30" height="30"/>
<rect x="587.9" y="964.8" width="30" height="30"/>
<rect x="584.6" y="965.2" width="30" height="30"/>
<rect x="576.7" y="966.7" width="30" height="30"/>
<rect x="580.1" y="967.4" width="30" height="30"/>
<rect x="573.5" y="968.7" width="30" height="30"/>
<rect x="565.9" y="969.2" width="30" height="30"/>
<rect x="562.9" y="969.8" width="30" height="30"/>
<rect x="555.6" y="970.8" width="30" height="30"/>
<rect x="554.2" y="970.8" width="30" height="30"/>
<rect x="552.8" y="971.9" width="30" height="30"/>
<rect x="542.6" y="972.6" width="30" height="30"/>
<rect x="541.1" y="973.9" width="30" height="30"/>
<rect x="538.1" y="974.3" width="30" height="30"/>
<rect x="535.6" y="974.3" width="30" height="30"/>
<rect x="531.8" y="976.1" width="30" height="30"/>
<rect x="524.0" y="976.2" width="30" height="30"/>
<rect x="519.3" y="977.5" width="30" height="30"/>
<rect x="517.1" y="977.9" width="30" height="30"/>
<rect x="511.4" y="978.8" width="30" height="30"/>
<rect x="507.2" y="979.7" width="30" height="30"/>
<rect x="505.0" y="980.3" width="30" height="30"/>
<rect x="501.5" y="980.8" width="30" height="30"/>
<rect x="495.2" y="982.2" width="30" height="30"/>
<rect x="490.2" y="982.7" width="30" height="30"/>
<rect x="486.9" y="983.3" width="30" height="30"/>
<rect x="479.6" y="984.3" width="30" height="30"/>
<rect x="477.6" y="984.7" width="30" height="30"/>
<rect x="472.1" y="986.2" width="30" height="30"/>
<rect x="471.3" y="986.4" width="30" height="30"/>
<rect x="465.4" y="987.2" width="30" height="30"/>
<rect x="460.5" y="988.0" width="30" height="30"/>
<rect x="455.9" y="988.4" width="30" height="30"/>
<rect x="449.9" y="989.0" width="30" height="30"/>
<rect x="448.0" y="990.2" width="30" height="30"/>
<rect x="444.4" y="991.0" width="30" height="30"/>
<rect x="438.4" y="992.1" width="30" height="30"/>
<rect x="435.0" y="992.5" width="30" height="30"/>
<rect x="430.7" y="992.8" width="30" height="30"/>
<rect x="425.1" y="994.1" width="30" height="30"/>
<rect x="422.2" y="994.9" width="30" height="30"/>
<rect x="418.0" y="995.7" width="30" height="30"/>
<rect x="413.2" y="996.3" width="30" height="30"/>
<rect x="408.8" y="996.6" width="30" height="30"/>
<rect x="404.8" y="998.0" width="30" height="30"/>
<rect x="399.6" y="998.2" width="30" height="30"/>
<rect x="395.9" y="999.3" width="30" height="30"/>
<rect x="391.9" y="999.5" width="30" height="30"/>
<rect x="387.0" y="1000.9" width="30" height="30"/>
<rect x="383.2" y="1001.2" width="30" height="30"/>
<rect x="378.6" y="1002.5" width="30" height="30"/>
<rect x="374.0" y="1003.4" width="30" height="30"/>
<rect x="370.1" y="1004.0" width="30" height="30"/>
<rect x="365.7" y="1004.1" width="30" height="30"/>
<rect x="361.5" y="1004.9" width="30" height="30"/>
<rect x="357.1" y="1005.6" width="30" height="30"/>
<rect x="353.0" y="1006.8" width="30" height="30"/>
<rect x="348.5" y="1007.5" width="30" height="30"/>
<rect x="344.3" y="1008.2" width="30" height="30"/>
<rect x="340.0" y="1009.0" width="30" height="30"/>
<rect x="335.7" y="1009.8" width="30" height="30"/>
<rect x="331.4" y="1010.6" width="30" height="30"/>
<rect x="327.1" y="1011.6" width="30" height="30"/>
<rect x="323.3" y="1011.8" width="30" height="30"/>
</g>
<polyline points="2466.9,471.2 2486.5,460.3 2479.7,465.8 2444.2,471.9 2443.7,470.9 2435.3,481.9 2450.7,489.2 2435.2,482.0 2445.3,483.8 2394.3,485.7 2451.5,491.9 2417.2,489.7 2426.9,497.9 2407.9,499.2 2399.3,501.6 2410.1,506.3 2412.3,503.8 2389.5,506.6 2386.1,518.9 2396.9,509.6 2364.6,517.0 2348.7,514.4 2378.8,513.3 2355.3,515.4 2328.5,515.2 2344.1,522.6 2346.1,520.8 2328.7,524.1 2319.0,536.5 2342.2,530.1 2353.4,540.3 2328.8,536.9 2315.3,542.8 2331.3,535.6 2333.0,542.5 2310.4,557.6 2321.3,551.1 2326.0,554.3 2299.2,551.6 2283.9,557.6 2300.5,547.1 2294.4,551.1 2305.5,561.3 2258.3,565.9 2265.2,560.3 2257.7,563.8 2237.3,564.8 2266.5,568.0 2269.4,563.8 2242.3,564.4 2276.2,575.0 2261.8,566.7 2254.0,573.6 2245.6,577.6 2251.3,577.3 2205.8,587.4 2236.5,585.2 2232.0,589.5 2185.1,585.8 2218.8,589.5 2203.8,599.2 2218.0,600.3 2191.8,597.3 2195.1,604.4 2197.3,605.3 2171.0,607.1 2193.3,617.8 2176.3,607.6 2182.7,614.6 2160.2,616.5 2184.8,614.5 2171.9,610.9 2153.5,623.9 2163.8,623.2 2170.8,623.8 2176.0,625.6 2111.2,627.4 2151.1,623.9 2139.3,632.7 2124.9,622.4 2104.2,634.5 2140.6,627.9 2091.0,636.3 2119.6,644.2 2128.5,640.5 2072.0,641.0 2091.0,648.5 2068.6,645.8 2092.3,646.9 2110.8,648.8 2115.7,661.1 2043.0,658.1 2060.3,658.9 2079.0,651.6 2090.5,663.1 2065.4,654.6 2040.0,665.9 2054.5,659.1 2044.6,677.1 2036.9,659.6 2023.1,676.6 2039.0,676.1 2033.2,664.5 2021.7,674.1 2015.1,684.4 1991.7,684.5 2001.7,672.1 2027.9,679.5 1998.4,678.0 1971.7,680.4 2017.3,684.0 1998.5,697.8 2022.6,691.1 1981.5,691.0 1967.8,692.1 1945.7,698.5 1991.3,700.2 2002.8,694.3 1944.1,707.0 1942.9,696.8 1961.0,702.1 1931.0,707.0 1936.8,714.2 1931.1,706.6 1936.5,711.0 1948.5,717.0 1924.9,715.5 1936.7,719.2 1908.3,720.4 1917.5,718.6 1868.8,721.6 1876.9,724.3 1913.0,721.9 1883.8,730.1 1900.5,717.0 1895.5,722.9 1905.3,733.8 1891.8,731.3 1891.2,728.6 1866.6,734.1 1851.7,738.3 1846.8,733.5 1846.9,740.0 1831.0,738.2 1837.2,739.7 1841.1,741.4 1843.0,747.1 1828.1,740.7 1795.3,744.9 1824.3,749.9 1825.3,745.0 1836.5,745.3 1823.1,754.0 1796.8,753.6 1791.1,754.6 1836.0,757.1 1809.1,755.0 1824.1,766.7 1825.2,758.0 1767.9,761.2 1785.2,759.7 1782.2,764.2 1779.8,771.4 1775.1,768.4 1764.7,771.5 1759.9,769.9 1725.4,777.8 1745.2,774.6 1730.4,772.2 1741.8,779.1 1726.9,777.5 1742.1,781.5 1741.4,781.7 1727.9,783.4 1723.8,784.5 1715.5,783.3 1701.4,783.3 1702.2,790.7 1692.0,789.4 1703.6,791.8 1692.5,791.4 1698.4,789.4 1659.8,792.4 1695.4,799.6 1661.4,796.3 1657.6,798.5 1662.9,797.6 1652.0,800.9 1663.1,802.5 1643.2,804.2 1630.0,805.8 1629.8,806.0 1664.3,807.5 1637.2,809.8 1611.1,811.6 1627.9,812.1 1595.5,816.6 1651.4,815.2 1587.4,816.4 1619.2,816.3 1616.1,820.2 1575.9,818.2 1603.1,818.6 1611.3,820.8 1597.5,824.3 1589.5,823.0 1597.6,827.6 1579.1,826.9 1577.9,826.1 1565.3,829.0 1574.7,832.6 1542.0,830.5 1568.9,831.1 1541.3,834.3 1526.4,836.3 1548.4,837.1 1568.0,836.7 1550.5,838.3 1519.6,839.5 1537.1,841.3 1512.1,843.3 1513.7,842.1 1513.3,844.4 1467.8,843.9 1506.5,845.7 1480.2,845.4 1481.9,846.5 1463.6,848.4 1458.6,848.2 1464.6,850.5 1492.1,850.2 1503.0,851.5 1468.2,852.3 1484.0,852.9 1455.3,854.0 1421.4,855.4 1454.2,856.9 1455.2,855.6 1435.2,857.2 1444.0,857.7 1444.6,858.1 1414.4,859.6 1399.1,859.7 1417.4,861.0 1413.3,862.4 1406.4,861.7 1426.3,863.6 1435.2,864.5 1392.4,864.7 1408.2,866.2 1408.2,867.1 1399.8,867.7 1401.5,869.2 1371.4,869.2 1387.4,870.8 1406.2,871.4 1379.9,872.1 1350.1,873.4 1367.8,874.3 1375.2,875.6 1354.9,875.8 1333.9,877.2 1367.2,878.1 1313.1,879.7 1340.0,879.9 1326.5,881.5 1301.3,881.6 1339.8,883.2 1320.0,884.0 1289.0,885.1 1315.9,885.8 1293.4,886.3 1263.3,887.4 1280.3,889.2 1292.7,889.8 1294.9,890.4 1282.4,891.8 1276.0,892.2 1279.0,893.1 1262.9,893.8 1282.5,895.3 1260.5,896.4 1258.7,896.3 1258.6,897.5 1227.1,898.5 1228.7,899.6 1262.3,899.1 1237.8,900.6 1223.1,901.5 1229.3,901.6 1211.2,902.9 1219.6,903.6 1199.7,904.5 1210.9,904.9 1176.2,905.9 1219.6,906.4 1185.1,907.5 1163.5,908.0 1181.3,908.6 1174.6,909.0 1178.7,910.6 1153.7,911.2 1174.0,911.8 1198.2,912.0 1139.0,912.8 1160.1,914.0 1145.6,914.4 1149.2,914.6 1113.9,915.5 1119.9,916.1 1140.3,916.6 1128.4,917.0 1149.4,918.3 1109.8,918.7 1118.7,919.0 1144.5,919.1 1096.2,920.0 1089.9,920.7 1098.4,921.5 1093.9,921.6 1102.4,922.6 1087.8,922.8 1070.9,923.0 1080.4,923.0 1104.0,923.7 1086.5,924.1 1034.0,924.9 1058.2,925.5 1043.9,926.2 1060.0,926.2 1044.9,926.3 1068.9,927.7 1051.1,927.5 1046.1,927.8 1032.5,928.2 1025.3,928.2 1025.9,929.3 1033.8,929.6 1019.7,930.4 1004.2,930.7 1020.2,931.0 1002.4,931.6 994.7,931.6 981.7,932.0 980.2,932.6 975.1,932.6 952.3,933.4 986.2,933.8 976.5,934.6 963.1,934.8 973.3,934.7 962.0,935.7 956.9,936.6 923.8,936.0 941.5,936.8 945.6,937.5 952.9,937.5 950.9,938.2 942.0,938.8 910.4,938.9 895.4,939.8 919.9,940.3 910.0,940.2 915.1,941.1 899.8,941.8 899.0,941.9 877.8,942.5 892.5,943.1 879.6,943.2 882.9,944.1 879.6,944.3 869.9,944.4 869.6,945.3 862.3,945.8 864.8,946.3 858.2,946.3 844.7,947.1 840.1,947.8 855.7,948.0 835.7,948.7 840.5,949.2 831.2,949.3 819.1,949.9 813.4,950.1 816.0,951.0 812.8,951.1 811.2,951.5 792.7,952.1 793.5,952.6 792.9,953.2 800.8,953.7 769.4,953.7 783.7,954.3 772.7,955.1 775.0,955.7 764.5,956.0 765.9,957.2 769.3,957.3 757.1,957.5 753.3,958.2 748.6,958.9 737.5,959.1 740.9,959.0 732.2,960.1 724.4,960.6 724.6,961.7 719.2,961.1 720.3,962.6 711.7,962.6 704.8,963.5 710.7,963.7 703.9,964.3 700.9,965.2 693.3,965.4 685.6,966.3 679.8,966.5 676.2,967.1 677.4,967.7 669.4,968.3 658.3,969.0 660.1,970.1 650.2,970.0 652.3,970.4 642.7,971.6 638.3,972.7 639.2,973.2 634.2,973.9 624.3,974.5 628.4,974.5 628.8,975.4 612.5,975.2 618.8,976.3 606.6,977.2 602.9,977.1 599.6,977.5 591.7,978.3 595.1,979.2 588.5,980.1 580.9,980.9 577.9,981.2 570.6,980.8 569.2,981.1 567.8,982.3 557.6,983.1 556.1,982.8 553.1,983.6 550.6,984.1 546.8,984.8 539.0,985.2 534.3,985.9 532.1,986.6 526.4,986.8 522.2,987.5 520.0,988.3 516.5,987.9 510.2,988.4 505.2,989.3 501.9,990.2 494.6,990.1 492.6,990.9 487.1,990.9 486.3,991.8 480.4,991.8 475.5,992.6 470.9,993.0 464.9,993.4 463.0,994.2 459.4,994.5 453.4,994.5 450.0,995.4 445.7,995.0 440.1,996.3 437.2,997.0 433.0,997.0 428.2,997.4 423.8,997.7 419.8,998.3 414.6,998.3 410.9,999.1 406.9,999.2 402.0,999.6 398.2,1000.1 393.6,1000.5 389.0,1000.3 385.1,1001.9 380.7,1001.7 376.5,1001.5 372.1,1002.7 368.0,1002.7 363.5,1003.2 359.3,1003.7 355.0,1003.5 350.7,1003.4 346.4,1004.5 342.1,1004.9 338.3,1005.1" fill="none" stroke="#ff00ff" stroke-width="5" stroke-linejoin="round"/>
<g fill="#fff" stroke="#ff00ff" stroke-width="4.6">
<path d="M2466.9 454.0l17.2 17.2l-17.2 17.2l-17.2 -17.2z"/>
<path d="M2486.5 443.1l17.2 17.2l-17.2 17.2l-17.2 -17.2z"/>
<path d="M2479.7 448.6l17.2 17.2l-17.2 17.2l-17.2 -17.2z"/>
<path d="M2444.2 454.7l17.2 17.2l-17.2 17.2l-17.2 -17.2z"/>
<path d="M2443.7 453.7l17.2 17.2l-17.2 17.2l-17.2 -17.2z"/>
<path d="M2435.3 464.7l17.2 17.2l-17.2 17.2l-17.2 -17.2z"/>
<path d="M2450.7 472.0l17.2 17.2l-17.2 17.2l-17.2 -17.2z"/>
<path d="M2435.2 464.8l17.2 17.2l-17.2 17.2l-17.2 -17.2z"/>
<path d="M2445.3 466.6l17.2 17.2l-17.2 17.2l-17.2 -17.2z"/>
<path d="M2394.3 468.5l17.2 17.2l-17.2 17.2l-17.2 -17.2z"/>
<path d="M2451.5 474.7l17.2 17.2l-17.2 17.2l-17.2 -17.2z"/>
<path d="M2417.2 472.5l17.2 17.2l-17.2 17.2l-17.2 -17.2z"/>
<path d="M2426.9 480.7l17.2 17.2l-17.2 17.2l-17.2 -17.2z"/>
<path d="M2407.9 482.0l17.2 17.2l-17.2 17.2l-17.2 -17.2z"/>
<path d="M2399.3 484.4l17.2 17.2l-17.2 17.2l-17.2 -17.2z"/>
<path d="M2410.1 489.1l17.2 17.2l-17.2 17.2l-17.2 -17.2z"/>
<path d="M2412.3 486.6l17.2 17.2l-17.2 17.2l-17.2 -17.2z"/>
<path d="M2389.5 489.4l17.2 17.2l-17.2 17.2l-17.2 -17.2z"/>
<path d="M2386.1 501.7l17.2 17.2l-17.2 17.2l-17.2 -17.2z"/>
<path d="M2396.9 492.4l17.2 17.2l-17.2 17.2l-17.2 -17.2z"/>
<path d="M2364.6 499.8l17.2 17.2l-17.2 17.2l-17.2 -17.2z"/>
<path d="M2348.7 497.2l17.2 17.2l-17.2 17.2l-17.2 -17.2z"/>
<path d="M2378.8 496.1l17.2 17.2l-17.2 17.2l-17.2 -17.2z"/>
<path d="M2355.3 498.2l17.2 17.2l-17.2 17.2l-17.2 -17.2z"/>
<path d="M2328.5 498.0l17.2 17.2l-17.2 17.2l-17.2 -17.2z"/>
<path d="M2344.1 505.4l17.2 17.2l-17.2 17.2l-17.2 -17.2z"/>
<path d="M2346.1 503.6l17.2 17.2l-17.2 17.2l-17.2 -17.2z"/>
<path d="M2328.7 506.9l17.2 17.2l-17.2 17.2l-17.2 -17.2z"/>
<path d="M2319.0 519.3l17.2 17.2l-17.2 17.2l-17.2 -17.2z"/>
<path d="M2342.2 512.9l17.2 17.2l-17.2 17.2l-17.2 -17.2z"/>
<path d="M2353.4 523.1l17.2 17.2l-17.2 17.2l-17.2 -17.2z"/>
<path d="M2328.8 519.7l17.2 17.2l-17.2 17.2l-17.2 -17.2z"/>
<path d="M2315.3 525.6l17.2 17.2l-17.2 17.2l-17.2 -17.2z"/>
<path d="M2331.3 518.4l17.2 17.2l-17.2 17.2l-17.2 -17.2z"/>
<path d="M2333.0 525.3l17.2 17.2l-17.2 17.2l-17.2 -17.2z"/>
<path d="M2310.4 540.4l17.2 17.2l-17.2 17.2l-17.2 -17.2z"/>
<path d="M2321.3 533.9l17.2 17.2l-17.2 17.2l-17.2 -17.2z"/>
<path d="M2326.0 537.1l17.2 17.2l-17.2 17.2l-17.2 -17.2z"/>
<path d="M2299.2 534.4l17.2 17.2l-17.2 17.2l-17.2 -17.2z"/>
<path d="M2283.9 540.4l17.2 17.2l-17.2 17.2l-17.2 -17.2z"/>
<path d="M2300.5 529.9l17.2 17.2l-17.2 17.2l-17.2 -17.2z"/>
<path d="M2294.4 533.9l17.2 17.2l-17.2 17.2l-17.2 -17.2z"/>
<path d="M2305.5 544.1l17.2 17.2l-17.2 17.2l-17.2 -17.2z"/>
<path d="M2258.3 548.7l17.2 17.2l-17.2 17.2l-17.2 -17.2z"/>
<path d="M2265.2 543.1l17.2 17.2l-17.2 17.2l-17.2 -17.2z"/>
<path d="M2257.7 546.6l17.2 17.2l-17.2 17.2l-17.2 -17.2z"/>
<path d="M2237.3 547.6l17.2 17.2l-17.2 17.2l-17.2 -17.2z"/>
<path d="M2266.5 550.8l17.2 17.2l-17.2 17.2l-17.2 -17.2z"/>
<path d="M2269.4 546.6l17.2 17.2l-17.2 17.2l-17.2 -17.2z"/>
<path d="M2242.3 547.2l17.2 17.2l-17.2 17.2l-17.2 -17.2z"/>
<path d="M2276.2 557.8l17.2 17.2l-17.2 17.2l-17.2 -17.2z"/>
<path d="M2261.8 549.5l17.2 17.2l-17.2 17.2l-17.2 -17.2z"/>
<path d="M2254.0 556.4l17.2 17.2l-17.2 17.2l-17.2 -17.2z"/>
<path d="M2245.6 560.4l17.2 17.2l-17.2 17.2l-17.2 -17.2z"/>
<path d="M2251.3 560.1l17.2 17.2l-17.2 17.2l-17.2 -17.2z"/>
<path d="M2205.8 570.2l17.2 17.2l-17.2 17.2l-17.2 -17.2z"/>
<path d="M2236.5 568.0l17.2 17.2l-17.2 17.2l-17.2 -17.2z"/>
<path d="M2232.0 572.3l17.2 17.2l-17.2 17.2l-17.2 -17.2z"/>
<path d="M2185.1 568.6l17.2 17.2l-17.2 17.2l-17.2 -17.2z"/>
<path d="M2218.8 572.3l17.2 17.2l-17.2 17.2l-17.2 -17.2z"/>
<path d="M2203.8 582.0l17.2 17.2l-17.2 17.2l-17.2 -17.2z"/>
<path d="M2218.0 583.1l17.2 17.2l-17.2 17.2l-17.2 -17.2z"/>
<path d="M2191.8 580.1l17.2 17.2l-17.2 17.2l-17.2 -17.2z"/>
<path d="M2195.1 587.2l17.2 17.2l-17.2 17.2l-17.2 -17.2z"/>
<path d="M2197.3 588.1l17.2 17.2l-17.2 17.2l-17.2 -17.2z"/>
<path d="M2171.0 589.9l17.2 17.2l-17.2 17.2l-17.2 -17.2z"/>
<path d="M2193.3 600.6l17.2 17.2l-17.2 17.2l-17.2 -17.2z"/>
<path d="M2176.3 590.4l17.2 17.2l-17.2 17.2l-17.2 -17.2z"/>
<path d="M2182.7 597.4l17.2 17.2l-17.2 17.2l-17.2 -17.2z"/>
<path d="M2160.2 599.3l17.2 17.2l-17.2 17.2l-17.2 -17.2z"/>
<path d="M2184.8 597.3l17.2 17.2l-17.2 17.2l-17.2 -17.2z"/>
<path d="M2171.9 593.7l17.2 17.2l-17.2 17.2l-17.2 -17.2z"/>
<path d="M2153.5 606.7l17.2 17.2l-17.2 17.2l-17.2 -17.2z"/>
<path d="M2163.8 606.0l17.2 17.2l-17.2 17.2l-17.2 -17.2z"/>
<path d="M2170.8 606.6l17.2 17.2l-17.2 17.2l-17.2 -17.2z"/>
<path d="M2176.0 608.4l17.2 17.2l-17.2 17.2l-17.2 -17.2z"/>
<path d="M2111.2 610.2l17.2 17.2l-17.2 17.2l-17.2 -17.2z"/>
<path d="M2151.1 606.7l17.2 17.2l-17.2 17.2l-17.2 -17.2z"/>
<path d="M2139.3 615.5l17.2 17.2l-17.2 17.2l-17.2 -17.2z"/>
<path d="M2124.9 605.2l17.2 17.2l-17.2 17.2l-17.2 -17.2z"/>
<path d="M2104.2 617.3l17.2 17.2l-17.2 17.2l-17.2 -17.2z"/>
<path d="M2140.6 610.7l17.2 17.2l-17.2 17.2l-17.2 -17.2z"/>
<path d="M2091.0 619.1l17.2 17.2l-17.2 17.2l-17.2 -17.2z"/>
<path d="M2119.6 627.0l17.2 17.2l-17.2 17.2l-17.2 -17.2z"/>
<path d="M2128.5 623.3l17.2 17.2l-17.2 17.2l-17.2 -17.2z"/>
<path d="M2072.0 623.8l17.2 17.2l-17.2 17.2l-17.2 -17.2z"/>
<path d="M2091.0 631.3l17.2 17.2l-17.2 17.2l-17.2 -17.2z"/>
<path d="M2068.6 628.6l17.2 17.2l-17.2 17.2l-17.2 -17.2z"/>
<path d="M2092.3 629.7l17.2 17.2l-17.2 17.2l-17.2 -17.2z"/>
<path d="M2110.8 631.6l17.2 17.2l-17.2 17.2l-17.2 -17.2z"/>
<path d="M2115.7 643.9l17.2 17.2l-17.2 17.2l-17.2 -17.2z"/>
<path d="M2043.0 640.9l17.2 17.2l-17.2 17.2l-17.2 -17.2z"/>
<path d="M2060.3 641.7l17.2 17.2l-17.2 17.2l-17.2 -17.2z"/>
<path d="M2079.0 634.4l17.2 17.2l-17.2 17.2l-17.2 -17.2z"/>
<path d="M2090.5 645.9l17.2 17.2l-17.2 17.2l-17.2 -17.2z"/>
<path d="M2065.4 637.4l17.2 17.2l-17.2 17.2l-17.2 -17.2z"/>
<path d="M2040.0 648.7l17.2 17.2l-17.2 17.2l-17.2 -17.2z"/>
<path d="M2054.5 641.9l17.2 17.2l-17.2 17.2l-17.2 -17.2z"/>
<path d="M2044.6 659.9l17.2 17.2l-17.2 17.2l-17.2 -17.2z"/>
<path d="M2036.9 642.4l17.2 17.2l-17.2 17.2l-17.2 -17.2z"/>
<path d="M2023.1 659.4l17.2 17.2l-17.2 17.2l-17.2 -17.2z"/>
<path d="M2039.0 658.9l17.2 17.2l-17.2 17.2l-17.2 -17.2z"/>
<path d="M2033.2 647.3l17.2 17.2l-17.2 17.2l-17.2 -17.2z"/>
<path d="M2021.7 656.9l17.2 17.2l-17.2 17.2l-17.2 -17.2z"/>
<path d="M2015.1 667.2l17.2 17.2l-17.2 17.2l-17.2 -17.2z"/>
<path d="M1991.7 667.3l17.2 17.2l-17.2 17.2l-17.2 -17.2z"/>
<path d="M2001.7 654.9l17.2 17.2l-17.2 17.2l-17.2 -17.2z"/>
<path d="M2027.9 662.3l17.2 17.2l-17.2 17.2l-17.2 -17.2z"/>
<path d="M1998.4 660.8l17.2 17.2l-17.2 17.2l-17.2 -17.2z"/>
<path d="M1971.7 663.2l17.2 17.2l-17.2 17.2l-17.2 -17.2z"/>
<path d="M2017.3 666.8l17.2 17.2l-17.2 17.2l-17.2 -17.2z"/>
<path d="M1998.5 680.6l17.2 17.2l-17.2 17.2l-17.2 -17.2z"/>
<path d="M2022.6 673.9l17.2 17.2l-17.2 17.2l-17.2 -17.2z"/>
<path d="M1981.5 673.8l17.2 17.2l-17.2 17.2l-17.2 -17.2z"/>
<path d="M1967.8 674.9l17.2 17.2l-17.2 17.2l-17.2 -17.2z"/>
<path d="M1945.7 681.3l17.2 17.2l-17.2 17.2l-17.2 -17.2z"/>
<path d="M1991.3 683.0l17.2 17.2l-17.2 17.2l-17.2 -17.2z"/>
<path d="M2002.8 677.1l17.2 17.2l-17.2 17.2l-17.2 -17.2z"/>
<path d="M1944.1 689.8l17.2 17.2l-17.2 17.2l-17.2 -17.2z"/>
<path d="M1942.9 679.6l17.2 17.2l-17.2 17.2l-17.2 -17.2z"/>
<path d="M1961.0 684.9l17.2 17.2l-17.2 17.2l-17.2 -17.2z"/>
<path d="M1931.0 689.8l17.2 17.2l-17.2 17.2l-17.2 -17.2z"/>
<path d="M1936.8 697.0l17.2 17.2l-17.2 17.2l-17.2 -17.2z"/>
<path d="M1931.1 689.4l17.2 17.2l-17.2 17.2l-17.2 -17.2z"/>
<path d="M1936.5 693.8l17.2 17.2l-17.2 17.2l-17.2 -17.2z"/>
<path d="M1948.5 699.8l17.2 17.2l-17.2 17.2l-17.2 -17.2z"/>
<path d="M1924.9 698.3l17.2 17.2l-17.2 17.2l-17.2 -17.2z"/>
<path d="M1936.7 702.0l17.2 17.2l-17.2 17.2l-17.2 -17.2z"/>
<path d="M1908.3 703.2l17.2 17.2l-17.2 17.2l-17.2 -17.2z"/>
<path d="M1917.5 701.4l17.2 17.2l-17.2 17.2l-17.2 -17.2z"/>
<path d="M1868.8 704.4l17.2 17.2l-17.2 17.2l-17.2 -17.2z"/>
<path d="M1876.9 707.1l17.2 17.2l-17.2 17.2l-17.2 -17.2z"/>
<path d="M1913.0 704.7l17.2 17.2l-17.2 17.2l-17.2 -17.2z"/>
<path d="M1883.8 712.9l17.2 17.2l-17.2 17.2l-17.2 -17.2z"/>
<path d="M1900.5 699.8l17.2 17.2l-17.2 17.2l-17.2 -17.2z"/>
<path d="M1895.5 705.7l17.2 17.2l-17.2 17.2l-17.2 -17.2z"/>
<path d="M1905.3 716.6l17.2 17.2l-17.2 17.2l-17.2 -17.2z"/>
<path d="M1891.8 714.1l17.2 17.2l-17.2 17.2l-17.2 -17.2z"/>
<path d="M1891.2 711.4l17.2 17.2l-17.2 17.2l-17.2 -17.2z"/>
<path d="M1866.6 716.9l17.2 17.2l-17.2 17.2l-17.2 -17.2z"/>
<path d="M1851.7 721.1l17.2 17.2l-17.2 17.2l-17.2 -17.2z"/>
<path d="M1846.8 716.3l17.2 17.2l-17.2 17.2l-17.2 -17.2z"/>
<path d="M1846.9 722.8l17.2 17.2l-17.2 17.2l-17.2 -17.2z"/>
<path d="M1831.0 721.0l17.2 17.2l-17.2 17.2l-17.2 -17.2z"/>
<path d="M1837.2 722.5l17.2 17.2l-17.2 17.2l-17.2 -17.2z"/>
<path d="M1841.1 724.2l17.2 17.2l-17.2 17.2l-17.2 -17.2z"/>
<path d="M1843.0 729.9l17.2 17.2l-17.2 17.2l-17.2 -17.2z"/>
<path d="M1828.1 723.5l17.2 17.2l-17.2 17.2l-17.2 -17.2z"/>
<path d="M1795.3 727.7l17.2 17.2l-17.2 17.2l-17.2 -17.2z"/>
<path d="M1824.3 732.7l17.2 17.2l-17.2 17.2l-17.2 -17.2z"/>
<path d="M1825.3 727.8l17.2 17.2l-17.2 17.2l-17.2 -17.2z"/>
<path d="M1836.5 728.1l17.2 17.2l-17.2 17.2l-17.2 -17.2z"/>
<path d="M1823.1 736.8l17.2 17.2l-17.2 17.2l-17.2 -17.2z"/>
<path d="M1796.8 736.4l17.2 17.2l-17.2 17.2l-17.2 -17.2z"/>
<path d="M1791.1 737.4l17.2 17.2l-17.2 17.2l-17.2 -17.2z"/>
<path d="M1836.0 739.9l17.2 17.2l-17.2 17.2l-17.2 -17.2z"/>
<path d="M1809.1 737.8l17.2 17.2l-17.2 17.2l-17.2 -17.2z"/>
<path d="M1824.1 749.5l17.2 17.2l-17.2 17.2l-17.2 -17.2z"/>
<path d="M1825.2 740.8l17.2 17.2l-17.2 17.2l-17.2 -17.2z"/>
<path d="M1767.9 744.0l17.2 17.2l-17.2 17.2l-17.2 -17.2z"/>
<path d="M1785.2 742.5l17.2 17.2l-17.2 17.2l-17.2 -17.2z"/>
<path d="M1782.2 747.0l17.2 17.2l-17.2 17.2l-17.2 -17.2z"/>
<path d="M1779.8 754.2l17.2 17.2l-17.2 17.2l-17.2 -17.2z"/>
<path d="M1775.1 751.2l17.2 17.2l-17.2 17.2l-17.2 -17.2z"/>
<path d="M1764.7 754.3l17.2 17.2l-17.2 17.2l-17.2 -17.2z"/>
<path d="M1759.9 752.7l17.2 17.2l-17.2 17.2l-17.2 -17.2z"/>
<path d="M1725.4 760.6l17.2 17.2l-17.2 17.2l-17.2 -17.2z"/>
<path d="M1745.2 757.4l17.2 17.2l-17.2 17.2l-17.2 -17.2z"/>
<path d="M1730.4 755.0l17.2 17.2l-17.2 17.2l-17.2 -17.2z"/>
<path d="M1741.8 761.9l17.2 17.2l-17.2 17.2l-17.2 -17.2z"/>
<path d="M1726.9 760.3l17.2 17.2l-17.2 17.2l-17.2 -17.2z"/>
<path d="M1742.1 764.3l17.2 17.2l-17.2 17.2l-17.2 -17.2z"/>
<path d="M1741.4 764.5l17.2 17.2l-17.2 17.2l-17.2 -17.2z"/>
<path d="M1727.9 766.2l17.2 17.2l-17.2 17.2l-17.2 -17.2z"/>
<path d="M1723.8 767.3l17.2 17.2l-17.2 17.2l-17.2 -17.2z"/>
<path d="M1715.5 766.1l17.2 17.2l-17.2 17.2l-17.2 -17.2z"/>
<path d="M1701.4 766.1l17.2 17.2l-17.2 17.2l-17.2 -17.2z"/>
<path d="M1702.2 773.5l17.2 17.2l-17.2 17.2l-17.2 -17.2z"/>
<path d="M1692.0 772.2l17.2 17.2l-17.2 17.2l-17.2 -17.2z"/>
<path d="M1703.6 774.6l17.2 17.2l-17.2 17.2l-17.2 -17.2z"/>
<path d="M1692.5 774.2l17.2 17.2l-17.2 17.2l-17.2 -17.2z"/>
<path d="M1698.4 772.2l17.2 17.2l-17.2 17.2l-17.2 -17.2z"/>
<path d="M1659.8 775.2l17.2 17.2l-17.2 17.2l-17.2 -17.2z"/>
<path d="M1695.4 782.4l17.2 17.2l-17.2 17.2l-17.2 -17.2z"/>
<path d="M1661.4 779.1l17.2 17.2l-17.2 17.2l-17.2 -17.2z"/>
<path d="M1657.6 781.3l17.2 17.2l-17.2 17.2l-17.2 -17.2z"/>
<path d="M1662.9 780.4l17.2 17.2l-17.2 17.2l-17.2 -17.2z"/>
<path d="M1652.0 783.7l17.2 17.2l-17.2 17.2l-17.2 -17.2z"/>
<path d="M1663.1 785.3l17.2 17.2l-17.2 17.2l-17.2 -17.2z"/>
<path d="M1643.2 787.0l17.2 17.2l-17.2 17.2l-17.2 -17.2z"/>
<path d="M1630.0 788.6l17.2 17.2l-17.2 17.2l-17.2 -17.2z"/>
<path d="M1629.8 788.8l17.2 17.2l-17.2 17.2l-17.2 -17.2z"/>
<path d="M1664.3 790.3l17.2 17.2l-17.2 17.2l-17.2 -17.2z"/>
<path d="M1637.2 792.6l17.2 17.2l-17.2 17.2l-17.2 -17.2z"/>
<path d="M1611.1 794.4l17.2 17.2l-17.2 17.2l-17.2 -17.2z"/>
<path d="M1627.9 794.9l17.2 17.2l-17.2 17.2l-17.2 -17.2z"/>
<path d="M1595.5 799.4l17.2 17.2l-17.2 17.2l-17.2 -17.2z"/>
<path d="M1651.4 798.0l17.2 17.2l-17.2 17.2l-17.2 -17.2z"/>
<path d="M1587.4 799.2l17.2 17.2l-17.2 17.2l-17.2 -17.2z"/>
<path d="M1619.2 799.1l17.2 17.2l-17.2 17.2l-17.2 -17.2z"/>
<path d="M1616.1 803.0l17.2 17.2l-17.2 17.2l-17.2 -17.2z"/>
<path d="M1575.9 801.0l17.2 17.2l-17.2 17.2l-17.2 -17.2z"/>
<path d="M1603.1 801.4l17.2 17.2l-17.2 17.2l-17.2 -17.2z"/>
<path d="M1611.3 803.6l17.2 17.2l-17.2 17.2l-17.2 -17.2z"/>
<path d="M1597.5 807.1l17.2 17.2l-17.2 17.2l-17.2 -17.2z"/>
<path d="M1589.5 805.8l17.2 17.2l-17.2 17.2l-17.2 -17.2z"/>
<path d="M1597.6 810.4l17.2 17.2l-17.2 17.2l-17.2 -17.2z"/>
<path d="M1579.1 809.7l17.2 17.2l-17.2 17.2l-17.2 -17.2z"/>
<path d="M1577.9 808.9l17.2 17.2l-17.2 17.2l-17.2 -17.2z"/>
<path d="M1565.3 811.8l17.2 17.2l-17.2 17.2l-17.2 -17.2z"/>
<path d="M1574.7 815.4l17.2 17.2l-17.2 17.2l-17.2 -17.2z"/>
<path d="M1542.0 813.3l17.2 17.2l-17.2 17.2l-17.2 -17.2z"/>
<path d="M1568.9 813.9l17.2 17.2l-17.2 17.2l-17.2 -17.2z"/>
<path d="M1541.3 817.1l17.2 17.2l-17.2 17.2l-17.2 -17.2z"/>
<path d="M1526.4 819.1l17.2 17.2l-17.2 17.2l-17.2 -17.2z"/>
<path d="M1548.4 819.9l17.2 17.2l-17.2 17.2l-17.2 -17.2z"/>
<path d="M1568.0 819.5l17.2 17.2l-17.2 17.2l-17.2 -17.2z"/>
<path d="M1550.5 821.1l17.2 17.2l-17.2 17.2l-17.2 -17.2z"/>
<path d="M1519.6 822.3l17.2 17.2l-17.2 17.2l-17.2 -17.2z"/>
<path d="M1537.1 824.1l17.2 17.2l-17.2 17.2l-17.2 -17.2z"/>
<path d="M1512.1 826.1l17.2 17.2l-17.2 17.2l-17.2 -17.2z"/>
<path d="M1513.7 824.9l17.2 17.2l-17.2 17.2l-17.2 -17.2z"/>
<path d="M1513.3 827.2l17.2 17.2l-17.2 17.2l-17.2 -17.2z"/>
<path d="M1467.8 826.7l17.2 17.2l-17.2 17.2l-17.2 -17.2z"/>
<path d="M1506.5 828.5l17.2 17.2l-17.2 17.2l-17.2 -17.2z"/>
<path d="M1480.2 828.2l17.2 17.2l-17.2 17.2l-17.2 -17.2z"/>
<path d="M1481.9 829.3l17.2 17.2l-17.2 17.2l-17.2 -17.2z"/>
<path d="M1463.6 831.2l17.2 17.2l-17.2 17.2l-17.2 -17.2z"/>
<path d="M1458.6 831.0l17.2 17.2l-17.2 17.2l-17.2 -17.2z"/>
<path d="M1464.6 833.3l17.2 17.2l-17.2 17.2l-17.2 -17.2z"/>
<path d="M1492.1 833.0l17.2 17.2l-17.2 17.2l-17.2 -17.2z"/>
<path d="M1503.0 834.3l17.2 17.2l-17.2 17.2l-17.2 -17.2z"/>
<path d="M1468.2 835.1l17.2 17.2l-17.2 17.2l-17.2 -17.2z"/>
<path d="M1484.0 835.7l17.2 17.2l-17.2 17.2l-17.2 -17.2z"/>
<path d="M1455.3 836.8l17.2 17.2l-17.2 17.2l-17.2 -17.2z"/>
<path d="M1421.4 838.2l17.2 17.2l-17.2 17.2l-17.2 -17.2z"/>
<path d="M1454.2 839.7l17.2 17.2l-17.2 17.2l-17.2 -17.2z"/>
<path d="M1455.2 838.4l17.2 17.2l-17.2 17.2l-17.2 -17.2z"/>
<path d="M1435.2 840.0l17.2 17.2l-17.2 17.2l-17.2 -17.2z"/>
<path d="M1444.0 840.5l17.2 17.2l-17.2 17.2l-17.2 -17.2z"/>
<path d="M1444.6 840.9l17.2 17.2l-17.2 17.2l-17.2 -17.2z"/>
<path d="M1414.4 842.4l17.2 17.2l-17.2 17.2l-17.2 -17.2z"/>
<path d="M1399.1 842.5l17.2 17.2l-17.2 17.2l-17.2 -17.2z"/>
<path d="M1417.4 843.8l17.2 17.2l-17.2 17.2l-17.2 -17.2z"/>
<path d="M1413.3 845.2l17.2 17.2l-17.2 17.2l-17.2 -17.2z"/>
<path d="M1406.4 844.5l17.2 17.2l-17.2 17.2l-17.2 -17.2z"/>
<path d="M1426.3 846.4l17.2 17.2l-17.2 17.2l-17.2 -17.2z"/>
<path d="M1435.2 847.3l17.2 17.2l-17.2 17.2l-17.2 -17.2z"/>
<path d="M1392.4 847.5l17.2 17.2l-17.2 17.2l-17.2 -17.2z"/>
<path d="M1408.2 849.0l17.2 17.2l-17.2 17.2l-17.2 -17.2z"/>
<path d="M1408.2 849.9l17.2 17.2l-17.2 17.2l-17.2 -17.2z"/>
<path d="M1399.8 850.5l17.2 17.2l-17.2 17.2l-17.2 -17.2z"/>
<path d="M1401.5 852.0l17.2 17.2l-17.2 17.2l-17.2 -17.2z"/>
<path d="M1371.4 852.0l17.2 17.2l-17.2 17.2l-17.2 -17.2z"/>
<path d="M1387.4 853.6l17.2 17.2l-17.2 17.2l-17.2 -17.2z"/>
<path d="M1406.2 854.2l17.2 17.2l-17.2 17.2l-17.2 -17.2z"/>
<path d="M1379.9 854.9l17.2 17.2l-17.2 17.2l-17.2 -17.2z"/>
<path d="M1350.1 856.2l17.2 17.2l-17.2 17.2l-17.2 -17.2z"/>
<path d="M1367.8 857.1l17.2 17.2l-17.2 17.2l-17.2 -17.2z"/>
<path d="M1375.2 858.4l17.2 17.2l-17.2 17.2l-17.2 -17.2z"/>
<path d="M1354.9 858.6l17.2 17.2l-17.2 17.2l-17.2 -17.2z"/>
<path d="M1333.9 860.0l17.2 17.2l-17.2 17.2l-17.2 -17.2z"/>
<path d="M1367.2 860.9l17.2 17.2l-17.2 17.2l-17.2 -17.2z"/>
<path d="M1313.1 862.5l17.2 17.2l-17.2 17.2l-17.2 -17.2z"/>
<path d="M1340.0 862.7l17.2 17.2l-17.2 17.2l-17.2 -17.2z"/>
<path d="M1326.5 864.3l17.2 17.2l-17.2 17.2l-17.2 -17.2z"/>
<path d="M1301.3 864.4l17.2 17.2l-17.2 17.2l-17.2 -17.2z"/>
<path d="M1339.8 866.0l17.2 17.2l-17.2 17.2l-17.2 -17.2z"/>
<path d="M1320.0 866.8l17.2 17.2l-17.2 17.2l-17.2 -17.2z"/>
<path d="M1289.0 867.9l17.2 17.2l-17.2 17.2l-17.2 -17.2z"/>
<path d="M1315.9 868.6l17.2 17.2l-17.2 17.2l-17.2 -17.2z"/>
<path d="M1293.4 869.1l17.2 17.2l-17.2 17.2l-17.2 -17.2z"/>
<path d="M1263.3 870.2l17.2 17.2l-17.2 17.2l-17.2 -17.2z"/>
<path d="M1280.3 872.0l17.2 17.2l-17.2 17.2l-17.2 -17.2z"/>
<path d="M1292.7 872.6l17.2 17.2l-17.2 17.2l-17.2 -17.2z"/>
<path d="M1294.9 873.2l17.2 17.2l-17.2 17.2l-17.2 -17.2z"/>
<path d="M1282.4 874.6l17.2 17.2l-17.2 17.2l-17.2 -17.2z"/>
<path d="M1276.0 875.0l17.2 17.2l-17.2 17.2l-17.2 -17.2z"/>
<path d="M1279.0 875.9l17.2 17.2l-17.2 17.2l-17.2 -17.2z"/>
<path d="M1262.9 876.6l17.2 17.2l-17.2 17.2l-17.2 -17.2z"/>
<path d="M1282.5 878.1l17.2 17.2l-17.2 17.2l-17.2 -17.2z"/>
<path d="M1260.5 879.2l17.2 17.2l-17.2 17.2l-17.2 -17.2z"/>
<path d="M1258.7 879.1l17.2 17.2l-17.2 17.2l-17.2 -17.2z"/>
<path d="M1258.6 880.3l17.2 17.2l-17.2 17.2l-17.2 -17.2z"/>
<path d="M1227.1 881.3l17.2 17.2l-17.2 17.2l-17.2 -17.2z"/>
<path d="M1228.7 882.4l17.2 17.2l-17.2 17.2l-17.2 -17.2z"/>
<path d="M1262.3 881.9l17.2 17.2l-17.2 17.2l-17.2 -17.2z"/>
<path d="M1237.8 883.4l17.2 17.2l-17.2 17.2l-17.2 -17.2z"/>
<path d="M1223.1 884.3l17.2 17.2l-17.2 17.2l-17.2 -17.2z"/>
<path d="M1229.3 884.4l17.2 17.2l-17.2 17.2l-17.2 -17.2z"/>
<path d="M1211.2 885.7l17.2 17.2l-17.2 17.2l-17.2 -17.2z"/>
<path d="M1219.6 886.4l17.2 17.2l-17.2 17.2l-17.2 -17.2z"/>
<path d="M1199.7 887.3l17.2 17.2l-17.2 17.2l-17.2 -17.2z"/>
<path d="M1210.9 887.7l17.2 17.2l-17.2 17.2l-17.2 -17.2z"/>
<path d="M1176.2 888.7l17.2 17.2l-17.2 17.2l-17.2 -17.2z"/>
<path d="M1219.6 889.2l17.2 17.2l-17.2 17.2l-17.2 -17.2z"/>
<path d="M1185.1 890.3l17.2 17.2l-17.2 17.2l-17.2 -17.2z"/>
<path d="M1163.5 890.8l17.2 17.2l-17.2 17.2l-17.2 -17.2z"/>
<path d="M1181.3 891.4l17.2 17.2l-17.2 17.2l-17.2 -17.2z"/>
<path d="M1174.6 891.8l17.2 17.2l-17.2 17.2l-17.2 -17.2z"/>
<path d="M1178.7 893.4l17.2 17.2l-17.2 17.2l-17.2 -17.2z"/>
<path d="M1153.7 894.0l17.2 17.2l-17.2 17.2l-17.2 -17.2z"/>
<path d="M1174.0 894.6l17.2 17.2l-17.2 17.2l-17.2 -17.2z"/>
<path d="M1198.2 894.8l17.2 17.2l-17.2 17.2l-17.2 -17.2z"/>
<path d="M1139.0 895.6l17.2 17.2l-17.2 17.2l-17.2 -17.2z"/>
<path d="M1160.1 896.8l17.2 17.2l-17.2 17.2l-17.2 -17.2z"/>
<path d="M1145.6 897.2l17.2 17.2l-17.2 17.2l-17.2 -17.2z"/>
<path d="M1149.2 897.4l17.2 17.2l-17.2 17.2l-17.2 -17.2z"/>
<path d="M1113.9 898.3l17.2 17.2l-17.2 17.2l-17.2 -17.2z"/>
<path d="M1119.9 898.9l17.2 17.2l-17.2 17.2l-17.2 -17.2z"/>
<path d="M1140.3 899.4l17.2 17.2l-17.2 17.2l-17.2 -17.2z"/>
<path d="M1128.4 899.8l17.2 17.2l-17.2 17.2l-17.2 -17.2z"/>
<path d="M1149.4 901.1l17.2 17.2l-17.2 17.2l-17.2 -17.2z"/>
<path d="M1109.8 901.5l17.2 17.2l-17.2 17.2l-17.2 -17.2z"/>
<path d="M1118.7 901.8l17.2 17.2l-17.2 17.2l-17.2 -17.2z"/>
<path d="M1144.5 901.9l17.2 17.2l-17.2 17.2l-17.2 -17.2z"/>
<path d="M1096.2 902.8l17.2 17.2l-17.2 17.2l-17.2 -17.2z"/>
<path d="M1089.9 903.5l17.2 17.2l-17.2 17.2l-17.2 -17.2z"/>
<path d="M1098.4 904.3l17.2 17.2l-17.2 17.2l-17.2 -17.2z"/>
<path d="M1093.9 904.4l17.2 17.2l-17.2 17.2l-17.2 -17.2z"/>
<path d="M1102.4 905.4l17.2 17.2l-17.2 17.2l-17.2 -17.2z"/>
<path d="M1087.8 905.6l17.2 17.2l-17.2 17.2l-17.2 -17.2z"/>
<path d="M1070.9 905.8l17.2 17.2l-17.2 17.2l-17.2 -17.2z"/>
<path d="M1080.4 905.8l17.2 17.2l-17.2 17.2l-17.2 -17.2z"/>
<path d="M1104.0 906.5l17.2 17.2l-17.2 17.2l-17.2 -17.2z"/>
<path d="M1086.5 906.9l17.2 17.2l-17.2 17.2l-17.2 -17.2z"/>
<path d="M1034.0 907.7l17.2 17.2l-17.2 17.2l-17.2 -17.2z"/>
<path d="M1058.2 908.3l17.2 17.2l-17.2 17.2l-17.2 -17.2z"/>
<path d="M1043.9 909.0l17.2 17.2l-17.2 17.2l-17.2 -17.2z"/>
<path d="M1060.0 909.0l17.2 17.2l-17.2 17.2l-17.2 -17.2z"/>
<path d="M1044.9 909.1l17.2 17.2l-17.2 17.2l-17.2 -17.2z"/>
<path d="M1068.9 910.5l17.2 17.2l-17.2 17.2l-17.2 -17.2z"/>
<path d="M1051.1 910.3l17.2 17.2l-17.2 17.2l-17.2 -17.2z"/>
<path d="M1046.1 910.6l17.2 17.2l-17.2 17.2l-17.2 -17.2z"/>
<path d="M1032.5 911.0l17.2 17.2l-17.2 17.2l-17.2 -17.2z"/>
<path d="M1025.3 911.0l17.2 17.2l-17.2 17.2l-17.2 -17.2z"/>
<path d="M1025.9 912.1l17.2 17.2l-17.2 17.2l-17.2 -17.2z"/>
<path d="M1033.8 912.4l17.2 17.2l-17.2 17.2l-17.2 -17.2z"/>
<path d="M1019.7 913.2l17.2 17.2l-17.2 17.2l-17.2 -17.2z"/>
<path d="M1004.2 913.5l17.2 17.2l-17.2 17.2l-17.2 -17.2z"/>
<path d="M1020.2 913.8l17.2 17.2l-17.2 17.2l-17.2 -17.2z"/>
<path d="M1002.4 914.4l17.2 17.2l-17.2 17.2l-17.2 -17.2z"/>
<path d="M994.7 914.4l17.2 17.2l-17.2 17.2l-17.2 -17.2z"/>
<path d="M981.7 914.8l17.2 17.2l-17.2 17.2l-17.2 -17.2z"/>
<path d="M980.2 915.4l17.2 17.2l-17.2 17.2l-17.2 -17.2z"/>
<path d="M975.1 915.4l17.2 17.2l-17.2 17.2l-17.2 -17.2z"/>
<path d="M952.3 916.2l17.2 17.2l-17.2 17.2l-17.2 -17.2z"/>
<path d="M986.2 916.6l17.2 17.2l-17.2 17.2l-17.2 -17.2z"/>
<path d="M976.5 917.4l17.2 17.2l-17.2 17.2l-17.2 -17.2z"/>
<path d="M963.1 917.6l17.2 17.2l-17.2 17.2l-17.2 -17.2z"/>
<path d="M973.3 917.5l17.2 17.2l-17.2 17.2l-17.2 -17.2z"/>
<path d="M962.0 918.5l17.2 17.2l-17.2 17.2l-17.2 -17.2z"/>
<path d="M956.9 919.4l17.2 17.2l-17.2 17.2l-17.2 -17.2z"/>
<path d="M923.8 918.8l17.2 17.2l-17.2 17.2l-17.2 -17.2z"/>
<path d="M941.5 919.6l17.2 17.2l-17.2 17.2l-17.2 -17.2z"/>
<path d="M945.6 920.3l17.2 17.2l-17.2 17.2l-17.2 -17.2z"/>
<path d="M952.9 920.3l17.2 17.2l-17.2 17.2l-17.2 -17.2z"/>
<path d="M950.9 921.0l17.2 17.2l-17.2 17.2l-17.2 -17.2z"/>
<path d="M942.0 921.6l17.2 17.2l-17.2 17.2l-17.2 -17.2z"/>
<path d="M910.4 921.7l17.2 17.2l-17.2 17.2l-17.2 -17.2z"/>
<path d="M895.4 922.6l17.2 17.2l-17.2 17.2l-17.2 -17.2z"/>
<path d="M919.9 923.1l17.2 17.2l-17.2 17.2l-17.2 -17.2z"/>
<path d="M910.0 923.0l17.2 17.2l-17.2 17.2l-17.2 -17.2z"/>
<path d="M915.1 923.9l17.2 17.2l-17.2 17.2l-17.2 -17.2z"/>
<path d="M899.8 924.6l17.2 17.2l-17.2 17.2l-17.2 -17.2z"/>
<path d="M899.0 924.7l17.2 17.2l-17.2 17.2l-17.2 -17.2z"/>
<path d="M877.8 925.3l17.2 17.2l-17.2 17.2l-17.2 -17.2z"/>
<path d="M892.5 925.9l17.2 17.2l-17.2 17.2l-17.2 -17.2z"/>
<path d="M879.6 926.0l17.2 17.2l-17.2 17.2l-17.2 -17.2z"/>
<path d="M882.9 926.9l17.2 17.2l-17.2 17.2l-17.2 -17.2z"/>
<path d="M879.6 927.1l17.2 17.2l-17.2 17.2l-17.2 -17.2z"/>
<path d="M869.9 927.2l17.2 17.2l-17.2 17.2l-17.2 -17.2z"/>
<path d="M869.6 928.1l17.2 17.2l-17.2 17.2l-17.2 -17.2z"/>
<path d="M862.3 928.6l17.2 17.2l-17.2 17.2l-17.2 -17.2z"/>
<path d="M864.8 929.1l17.2 17.2l-17.2 17.2l-17.2 -17.2z"/>
<path d="M858.2 929.1l17.2 17.2l-17.2 17.2l-17.2 -17.2z"/>
<path d="M844.7 929.9l17.2 17.2l-17.2 17.2l-17.2 -17.2z"/>
<path d="M840.1 930.6l17.2 17.2l-17.2 17.2l-17.2 -17.2z"/>
<path d="M855.7 930.8l17.2 17.2l-17.2 17.2l-17.2 -17.2z"/>
<path d="M835.7 931.5l17.2 17.2l-17.2 17.2l-17.2 -17.2z"/>
<path d="M840.5 932.0l17.2 17.2l-17.2 17.2l-17.2 -17.2z"/>
<path d="M831.2 932.1l17.2 17.2l-17.2 17.2l-17.2 -17.2z"/>
<path d="M819.1 932.7l17.2 17.2l-17.2 17.2l-17.2 -17.2z"/>
<path d="M813.4 932.9l17.2 17.2l-17.2 17.2l-17.2 -17.2z"/>
<path d="M816.0 933.8l17.2 17.2l-17.2 17.2l-17.2 -17.2z"/>
<path d="M812.8 933.9l17.2 17.2l-17.2 17.2l-17.2 -17.2z"/>
<path d="M811.2 934.3l17.2 17.2l-17.2 17.2l-17.2 -17.2z"/>
<path d="M792.7 934.9l17.2 17.2l-17.2 17.2l-17.2 -17.2z"/>
<path d="M793.5 935.4l17.2 17.2l-17.2 17.2l-17.2 -17.2z"/>
<path d="M792.9 936.0l17.2 17.2l-17.2 17.2l-17.2 -17.2z"/>
<path d="M800.8 936.5l17.2 17.2l-17.2 17.2l-17.2 -17.2z"/>
<path d="M769.4 936.5l17.2 17.2l-17.2 17.2l-17.2 -17.2z"/>
<path d="M783.7 937.1l17.2 17.2l-17.2 17.2l-17.2 -17.2z"/>
<path d="M772.7 937.9l17.2 17.2l-17.2 17.2l-17.2 -17.2z"/>
<path d="M775.0 938.5l17.2 17.2l-17.2 17.2l-17.2 -17.2z"/>
<path d="M764.5 938.8l17.2 17.2l-17.2 17.2l-17.2 -17.2z"/>
<path d="M765.9 940.0l17.2 17.2l-17.2 17.2l-17.2 -17.2z"/>
<path d="M769.3 940.1l17.2 17.2l-17.2 17.2l-17.2 -17.2z"/>
<path d="M757.1 940.3l17.2 17.2l-17.2 17.2l-17.2 -17.2z"/>
<path d="M753.3 941.0l17.2 17.2l-17.2 17.2l-17.2 -17.2z"/>
<path d="M748.6 941.7l17.2 17.2l-17.2 17.2l-17.2 -17.2z"/>
<path d="M737.5 941.9l17.2 17.2l-17.2 17.2l-17.2 -17.2z"/>
<path d="M740.9 941.8l17.2 17.2l-17.2 17.2l-17.2 -17.2z"/>
<path d="M732.2 942.9l17.2 17.2l-17.2 17.2l-17.2 -17.2z"/>
<path d="M724.4 943.4l17.2 17.2l-17.2 17.2l-17.2 -17.2z"/>
<path d="M724.6 944.5l17.2 17.2l-17.2 17.2l-17.2 -17.2z"/>
<path d="M719.2 943.9l17.2 17.2l-17.2 17.2l-17.2 -17.2z"/>
<path d="M720.3 945.4l17.2 17.2l-17.2 17.2l-17.2 -17.2z"/>
<path d="M711.7 945.4l17.2 17.2l-17.2 17.2l-17.2 -17.2z"/>
<path d="M704.8 946.3l17.2 17.2l-17.2 17.2l-17.2 -17.2z"/>
<path d="M710.7 946.5l17.2 17.2l-17.2 17.2l-17.2 -17.2z"/>
<path d="M703.9 947.1l17.2 17.2l-17.2 17.2l-17.2 -17.2z"/>
<path d="M700.9 948.0l17.2 17.2l-17.2 17.2l-17.2 -17.2z"/>
<path d="M693.3 948.2l17.2 17.2l-17.2 17.2l-17.2 -17.2z"/>
<path d="M685.6 949.1l17.2 17.2l-17.2 17.2l-17.2 -17.2z"/>
<path d="M679.8 949.3l17.2 17.2l-17.2 17.2l-17.2 -17.2z"/>
<path d="M676.2 949.9l17.2 17.2l-17.2 17.2l-17.2 -17.2z"/>
<path d="M677.4 950.5l17.2 17.2l-17.2 17.2l-17.2 -17.2z"/>
<path d="M669.4 951.1l17.2 17.2l-17.2 17.2l-17.2 -17.2z"/>
<path d="M658.3 951.8l17.2 17.2l-17.2 17.2l-17.2 -17.2z"/>
<path d="M660.1 952.9l17.2 17.2l-17.2 17.2l-17.2 -17.2z"/>
<path d="M650.2 952.8l17.2 17.2l-17.2 17.2l-17.2 -17.2z"/>
<path d="M652.3 953.2l17.2 17.2l-17.2 17.2l-17.2 -17.2z"/>
<path d="M642.7 954.4l17.2 17.2l-17.2 17.2l-17.2 -17.2z"/>
<path d="M638.3 955.5l17.2 17.2l-17.2 17.2l-17.2 -17.2z"/>
<path d="M639.2 956.0l17.2 17.2l-17.2 17.2l-17.2 -17.2z"/>
<path d="M634.2 956.7l17.2 17.2l-17.2 17.2l-17.2 -17.2z"/>
<path d="M624.3 957.3l17.2 17.2l-17.2 17.2l-17.2 -17.2z"/>
<path d="M628.4 957.3l17.2 17.2l-17.2 17.2l-17.2 -17.2z"/>
<path d="M628.8 958.2l17.2 17.2l-17.2 17.2l-17.2 -17.2z"/>
<path d="M612.5 958.0l17.2 17.2l-17.2 17.2l-17.2 -17.2z"/>
<path d="M618.8 959.1l17.2 17.2l-17.2 17.2l-17.2 -17.2z"/>
<path d="M606.6 960.0l17.2 17.2l-17.2 17.2l-17.2 -17.2z"/>
<path d="M602.9 959.9l17.2 17.2l-17.2 17.2l-17.2 -17.2z"/>
<path d="M599.6 960.3l17.2 17.2l-17.2 17.2l-17.2 -17.2z"/>
<path d="M591.7 961.1l17.2 17.2l-17.2 17.2l-17.2 -17.2z"/>
<path d="M595.1 962.0l17.2 17.2l-17.2 17.2l-17.2 -17.2z"/>
<path d="M588.5 962.9l17.2 17.2l-17.2 17.2l-17.2 -17.2z"/>
<path d="M580.9 963.7l17.2 17.2l-17.2 17.2l-17.2 -17.2z"/>
<path d="M577.9 964.0l17.2 17.2l-17.2 17.2l-17.2 -17.2z"/>
<path d="M570.6 963.6l17.2 17.2l-17.2 17.2l-17.2 -17.2z"/>
<path d="M569.2 963.9l17.2 17.2l-17.2 17.2l-17.2 -17.2z"/>
<path d="M567.8 965.1l17.2 17.2l-17.2 17.2l-17.2 -17.2z"/>
<path d="M557.6 965.9l17.2 17.2l-17.2 17.2l-17.2 -17.2z"/>
<path d="M556.1 965.6l17.2 17.2l-17.2 17.2l-17.2 -17.2z"/>
<path d="M553.1 966.4l17.2 17.2l-17.2 17.2l-17.2 -17.2z"/>
<path d="M550.6 966.9l17.2 17.2l-17.2 17.2l-17.2 -17.2z"/>
<path d="M546.8 967.6l17.2 17.2l-17.2 17.2l-17.2 -17.2z"/>
<path d="M539.0 968.0l17.2 17.2l-17.2 17.2l-17.2 -17.2z"/>
<path d="M534.3 968.7l17.2 17.2l-17.2 17.2l-17.2 -17.2z"/>
<path d="M532.1 969.4l17.2 17.2l-17.2 17.2l-17.2 -17.2z"/>
<path d="M526.4 969.6l17.2 17.2l-17.2 17.2l-17.2 -17.2z"/>
<path d="M522.2 970.3l17.2 17.2l-17.2 17.2l-17.2 -17.2z"/>
<path d="M520.0 971.1l17.2 17.2l-17.2 17.2l-17.2 -17.2z"/>
<path d="M516.5 970.7l17.2 17.2l-17.2 17.2l-17.2 -17.2z"/>
<path d="M510.2 971.2l17.2 17.2l-17.2 17.2l-17.2 -17.2z"/>
<path d="M505.2 972.1l17.2 17.2l-17.2 17.2l-17.2 -17.2z"/>
<path d="M501.9 973.0l17.2 17.2l-17.2 17.2l-17.2 -17.2z"/>
<path d="M494.6 972.9l17.2 17.2l-17.2 17.2l-17.2 -17.2z"/>
<path d="M492.6 973.7l17.2 17.2l-17.2 17.2l-17.2 -17.2z"/>
<path d="M487.1 973.7l17.2 17.2l-17.2 17.2l-17.2 -17.2z"/>
<path d="M486.3 974.6l17.2 17.2l-17.2 17.2l-17.2 -17.2z"/>
<path d="M480.4 974.6l17.2 17.2l-17.2 17.2l-17.2 -17.2z"/>
<path d="M475.5 975.4l17.2 17.2l-17.2 17.2l-17.2 -17.2z"/>
<path d="M470.9 975.8l17.2 17.2l-17.2 17.2l-17.2 -17.2z"/>
<path d="M464.9 976.2l17.2 17.2l-17.2 17.2l-17.2 -17.2z"/>
<path d="M463.0 977.0l17.2 17.2l-17.2 17.2l-17.2 -17.2z"/>
<path d="M459.4 977.3l17.2 17.2l-17.2 17.2l-17.2 -17.2z"/>
<path d="M453.4 977.3l17.2 17.2l-17.2 17.2l-17.2 -17.2z"/>
<path d="M450.0 978.2l17.2 17.2l-17.2 17.2l-17.2 -17.2z"/>
<path d="M445.7 977.8l17.2 17.2l-17.2 17.2l-17.2 -17.2z"/>
<path d="M440.1 979.1l17.2 17.2l-17.2 17.2l-17.2 -17.2z"/>
<path d="M437.2 979.8l17.2 17.2l-17.2 17.2l-17.2 -17.2z"/>
<path d="M433.0 979.8l17.2 17.2l-17.2 17.2l-17.2 -17.2z"/>
<path d="M428.2 980.2l17.2 17.2l-17.2 17.2l-17.2 -17.2z"/>
<path d="M423.8 980.5l17.2 17.2l-17.2 17.2l-17.2 -17.2z"/>
<path d="M419.8 981.1l17.2 17.2l-17.2 17.2l-17.2 -17.2z"/>
<path d="M414.6 981.1l17.2 17.2l-17.2 17.2l-17.2 -17.2z"/>
<path d="M410.9 981.9l17.2 17.2l-17.2 17.2l-17.2 -17.2z"/>
<path d="M406.9 982.0l17.2 17.2l-17.2 17.2l-17.2 -17.2z"/>
<path d="M402.0 982.4l17.2 17.2l-17.2 17.2l-17.2 -17.2z"/>
<path d="M398.2 982.9l17.2 17.2l-17.2 17.2l-17.2 -17.2z"/>
<path d="M393.6 983.3l17.2 17.2l-17.2 17.2l-17.2 -17.2z"/>
<path d="M389.0 983.1l17.2 17.2l-17.2 17.2l-17.2 -17.2z"/>
<path d="M385.1 984.7l17.2 17.2l-17.2 17.2l-17.2 -17.2z"/>
<path d="M380.7 984.5l17.2 17.2l-17.2 17.2l-17.2 -17.2z"/>
<path d="M376.5 984.3l17.2 17.2l-17.2 17.2l-17.2 -17.2z"/>
<path d="M372.1 985.5l17.2 17.2l-17.2 17.2l-17.2 -17.2z"/>
<path d="M368.0 985.5l17.2 17.2l-17.2 17.2l-17.2 -17.2z"/>
<path d="M363.5 986.0l17.2 17.2l-17.2 17.2l-17.2 -17.2z"/>
<path d="M359.3 986.5l17.2 17.2l-17.2 17.2l-17.2 -17.2z"/>
<path d="M355.0 986.3l17.2 17.2l-17.2 17.2l-17.2 -17.2z"/>
<path d="M350.7 986.2l17.2 17.2l-17.2 17.2l-17.2 -17.2z"/>
<path d="M346.4 987.3l17.2 17.2l-17.2 17.2l-17.2 -17.2z"/>
<path d="M342.1 987.7l17.2 17.2l-17.2 17.2l-17.2 -17.2z"/>
<path d="M338.3 987.9l17.2 17.2l-17.2 17.2l-17.2 -17.2z"/>
</g>
<polyline points="2466.9,619.7 2486.5,624.2 2479.7,629.7 2444.2,627.2 2443.7,629.3 2435.3,633.9 2450.7,628.3 2435.2,644.9 2445.3,632.1 2394.3,639.3 2451.5,638.8 2417.2,638.3 2426.9,647.2 2407.9,651.6 2399.3,655.8 2410.1,652.4 2412.3,648.0 2389.5,657.3 2386.1,645.5 2396.9,655.8 2364.6,660.2 2348.7,662.1 2378.8,653.7 2355.3,653.3 2328.5,673.3 2344.1,662.3 2346.1,657.3 2328.7,661.3 2319.0,670.1 2342.2,678.5 2353.4,673.3 2328.8,681.8 2315.3,677.8 2331.3,680.8 2333.0,685.4 2310.4,679.1 2321.3,684.5 2326.0,682.2 2299.2,682.3 2283.9,691.4 2300.5,684.4 2294.4,691.2 2305.5,687.8 2258.3,693.4 2265.2,692.4 2257.7,703.4 2237.3,699.1 2266.5,700.7 2269.4,711.3 2242.3,690.3 2276.2,698.5 2261.8,693.5 2254.0,708.0 2245.6,712.2 2251.3,714.9 2205.8,714.3 2236.5,709.4 2232.0,725.9 2185.1,719.2 2218.8,717.6 2203.8,714.3 2218.0,724.6 2191.8,721.1 2195.1,722.9 2197.3,728.1 2171.0,729.8 2193.3,725.6 2176.3,738.7 2182.7,727.8 2160.2,728.7 2184.8,738.2 2171.9,738.8 2153.5,740.1 2163.8,739.0 2170.8,743.1 2176.0,741.4 2111.2,737.2 2151.1,751.7 2139.3,743.9 2124.9,749.7 2104.2,756.5 2140.6,754.4 2091.0,767.5 2119.6,750.3 2128.5,755.4 2072.0,761.5 2091.0,769.8 2068.6,763.2 2092.3,758.8 2110.8,773.8 2115.7,765.0 2043.0,770.4 2060.3,777.6 2079.0,771.6 2090.5,774.4 2065.4,780.9 2040.0,779.2 2054.5,783.4 2044.6,779.1 2036.9,784.9 2023.1,782.0 2039.0,781.5 2033.2,799.1 2021.7,794.6 2015.1,798.5 1991.7,791.4 2001.7,797.5 2027.9,798.4 1998.4,794.5 1971.7,805.2 2017.3,801.1 1998.5,805.1 2022.6,800.9 1981.5,813.8 1967.8,814.3 1945.7,814.3 1991.3,810.2 2002.8,813.4 1944.1,822.5 1942.9,817.7 1961.0,821.5 1931.0,822.5 1936.8,818.7 1931.1,831.1 1936.5,818.2 1948.5,828.6 1924.9,828.7 1936.7,824.0 1908.3,833.1 1917.5,835.1 1868.8,834.6 1876.9,832.5 1913.0,838.6 1883.8,842.3 1900.5,840.1 1895.5,846.8 1905.3,844.8 1891.8,845.6 1891.2,848.9 1866.6,842.7 1851.7,844.4 1846.8,849.2 1846.9,850.3 1831.0,854.7 1837.2,854.6 1841.1,852.4 1843.0,853.6 1828.1,853.0 1795.3,853.8 1824.3,854.6 1825.3,860.0 1836.5,856.7 1823.1,858.1 1796.8,860.7 1791.1,859.7 1836.0,861.6 1809.1,856.9 1824.1,865.4 1825.2,864.4 1767.9,866.8 1785.2,868.3 1782.2,863.1 1779.8,875.1 1775.1,870.6 1764.7,871.7 1759.9,867.5 1725.4,874.7 1745.2,875.1 1730.4,874.1 1741.8,876.6 1726.9,880.1 1742.1,877.0 1741.4,876.6 1727.9,882.8 1723.8,881.2 1715.5,881.1 1701.4,887.0 1702.2,883.6 1692.0,883.8 1703.6,885.6 1692.5,885.1 1698.4,887.2 1659.8,887.9 1695.4,887.2 1661.4,888.8 1657.6,890.8 1662.9,891.8 1652.0,893.0 1663.1,894.2 1643.2,894.0 1630.0,895.3 1629.8,894.6 1664.3,895.7 1637.2,898.7 1611.1,894.5 1627.9,899.2 1595.5,902.7 1651.4,897.4 1587.4,903.3 1619.2,899.3 1616.1,903.2 1575.9,905.8 1603.1,906.4 1611.3,903.9 1597.5,904.2 1589.5,904.9 1597.6,908.5 1579.1,907.9 1577.9,909.3 1565.3,910.4 1574.7,911.4 1542.0,912.3 1568.9,912.7 1541.3,911.6 1526.4,915.8 1548.4,912.7 1568.0,917.1 1550.5,916.1 1519.6,917.3 1537.1,917.9 1512.1,918.9 1513.7,920.0 1513.3,920.6 1467.8,920.8 1506.5,923.3 1480.2,923.0 1481.9,925.3 1463.6,925.0 1458.6,925.4 1464.6,927.1 1492.1,928.2 1503.0,927.8 1468.2,929.0 1484.0,930.9 1455.3,930.2 1421.4,931.1 1454.2,932.5 1455.2,932.5 1435.2,932.8 1444.0,933.9 1444.6,935.8 1414.4,936.7 1399.1,937.5 1417.4,938.1 1413.3,938.1 1406.4,939.8 1426.3,940.8 1435.2,940.7 1392.4,942.2 1408.2,942.4 1408.2,943.4 1399.8,944.2 1401.5,944.3 1371.4,946.2 1387.4,946.1 1406.2,947.2 1379.9,947.8 1350.1,948.9 1367.8,949.7 1375.2,950.3 1354.9,951.5 1333.9,951.9 1367.2,952.5 1313.1,952.7 1340.0,954.1 1326.5,954.8 1301.3,955.4 1339.8,956.2 1320.0,957.3 1289.0,958.2 1315.9,959.2 1293.4,959.7 1263.3,959.9 1280.3,960.9 1292.7,961.1 1294.9,962.5 1282.4,963.1 1276.0,963.5 1279.0,964.3 1262.9,964.9 1282.5,965.5 1260.5,966.7 1258.7,967.6 1258.6,967.9 1227.1,968.6 1228.7,968.9 1262.3,969.4 1237.8,970.7 1223.1,970.5 1229.3,971.3 1211.2,971.7 1219.6,972.5 1199.7,972.8 1210.9,973.6 1176.2,973.5 1219.6,974.4 1185.1,975.4 1163.5,975.2 1181.3,975.8 1174.6,976.9 1178.7,977.1 1153.7,977.8 1174.0,977.3 1198.2,978.4 1139.0,978.5 1160.1,978.9 1145.6,979.9 1149.2,980.6 1113.9,980.3 1119.9,980.9 1140.3,981.5 1128.4,982.1 1149.4,982.2 1109.8,983.7 1118.7,983.7 1144.5,983.9 1096.2,984.3 1089.9,985.6 1098.4,986.1 1093.9,985.7 1102.4,986.5 1087.8,987.2 1070.9,986.9 1080.4,987.6 1104.0,988.6 1086.5,988.5 1034.0,989.0 1058.2,989.2 1043.9,989.9 1060.0,990.8 1044.9,990.8 1068.9,991.1 1051.1,991.7 1046.1,992.9 1032.5,992.9 1025.3,993.1 1025.9,993.7 1033.8,994.2 1019.7,994.6 1004.2,994.4 1020.2,995.4 1002.4,995.7 994.7,996.4 981.7,996.1 980.2,997.2 975.1,997.1 952.3,997.2 986.2,998.4 976.5,998.2 963.1,998.9 973.3,999.1 962.0,999.8 956.9,1000.1 923.8,1000.5 941.5,1000.7 945.6,1000.3 952.9,1000.7 950.9,1001.6 942.0,1001.5 910.4,1002.3 895.4,1002.5 919.9,1002.4 910.0,1002.8 915.1,1003.1 899.8,1003.5 899.0,1004.0 877.8,1004.6 892.5,1005.1 879.6,1004.7 882.9,1005.1 879.6,1006.1 869.9,1006.2 869.6,1006.3 862.3,1005.9 864.8,1006.5 858.2,1007.2 844.7,1007.3 840.1,1008.3 855.7,1008.1 835.7,1008.5 840.5,1008.3 831.2,1008.7 819.1,1009.1 813.4,1009.4 816.0,1009.9 812.8,1010.4 811.2,1010.7 792.7,1011.2 793.5,1010.8 792.9,1011.7 800.8,1012.0 769.4,1012.8 783.7,1012.5 772.7,1013.1 775.0,1013.1 764.5,1013.8 765.9,1014.2 769.3,1014.2 757.1,1014.6 753.3,1015.1 748.6,1015.7 737.5,1015.6 740.9,1016.6 732.2,1016.6 724.4,1017.7 724.6,1018.0 719.2,1017.8 720.3,1018.2 711.7,1019.5 704.8,1019.4 710.7,1019.9 703.9,1020.0 700.9,1020.6 693.3,1021.4 685.6,1021.9 679.8,1022.0 676.2,1023.2 677.4,1023.5 669.4,1023.7 658.3,1024.9 660.1,1025.2 650.2,1026.1 652.3,1026.3 642.7,1027.3 638.3,1027.3 639.2,1028.6 634.2,1028.6 624.3,1029.8 628.4,1029.7 628.8,1030.9 612.5,1031.8 618.8,1032.3 606.6,1033.0 602.9,1032.9 599.6,1034.2 591.7,1034.7 595.1,1034.3 588.5,1034.9 580.9,1035.4 577.9,1036.1 570.6,1036.6 569.2,1036.4 567.8,1037.7 557.6,1037.9 556.1,1038.1 553.1,1039.2 550.6,1039.3 546.8,1040.2 539.0,1040.4 534.3,1040.6 532.1,1041.5 526.4,1041.9 522.2,1041.9 520.0,1042.0 516.5,1042.8 510.2,1043.6 505.2,1043.8 501.9,1044.8 494.6,1044.8 492.6,1045.2 487.1,1045.7 486.3,1045.7 480.4,1046.4 475.5,1046.6 470.9,1046.6 464.9,1047.1 463.0,1048.3 459.4,1048.3 453.4,1048.8 450.0,1048.8 445.7,1049.4 440.1,1050.2 437.2,1050.4 433.0,1050.6 428.2,1051.6 423.8,1051.5 419.8,1051.7 414.6,1052.5 410.9,1052.0 406.9,1053.1 402.0,1052.9 398.2,1053.3 393.6,1053.7 389.0,1054.3 385.1,1054.6 380.7,1055.0 376.5,1055.2 372.1,1055.9 368.0,1056.3 363.5,1056.3 359.3,1056.6 355.0,1056.5 350.7,1056.6 346.4,1057.4 342.1,1057.5 338.3,1057.7" fill="none" stroke="#000000" stroke-width="5" stroke-linejoin="round"/>
<g fill="#fff" stroke="#000000" stroke-width="5">
<circle cx="2466.9" cy="619.7" r="14"/>
<circle cx="2486.5" cy="624.2" r="14"/>
<circle cx="2479.7" cy="629.7" r="14"/>
<circle cx="2444.2" cy="627.2" r="14"/>
<circle cx="2443.7" cy="629.3" r="14"/>
<circle cx="2435.3" cy="633.9" r="14"/>
<circle cx="2450.7" cy="628.3" r="14"/>
<circle cx="2435.2" cy="644.9" r="14"/>
<circle cx="2445.3" cy="632.1" r="14"/>
<circle cx="2394.3" cy="639.3" r="14"/>
<circle cx="2451.5" cy="638.8" r="14"/>
<circle cx="2417.2" cy="638.3" r="14"/>
<circle cx="2426.9" cy="647.2" r="14"/>
<circle cx="2407.9" cy="651.6" r="14"/>
<circle cx="2399.3" cy="655.8" r="14"/>
<circle cx="2410.1" cy="652.4" r="14"/>
<circle cx="2412.3" cy="648.0" r="14"/>
<circle cx="2389.5" cy="657.3" r="14"/>
<circle cx="2386.1" cy="645.5" r="14"/>
<circle cx="2396.9" cy="655.8" r="14"/>
<circle cx="2364.6" cy="660.2" r="14"/>
<circle cx="2348.7" cy="662.1" r="14"/>
<circle cx="2378.8" cy="653.7" r="14"/>
<circle cx="2355.3" cy="653.3" r="14"/>
<circle cx="2328.5" cy="673.3" r="14"/>
<circle cx="2344.1" cy="662.3" r="14"/>
<circle cx="2346.1" cy="657.3" r="14"/>
<circle cx="2328.7" cy="661.3" r="14"/>
<circle cx="2319.0" cy="670.1" r="14"/>
<circle cx="2342.2" cy="678.5" r="14"/>
<circle cx="2353.4" cy="673.3" r="14"/>
<circle cx="2328.8" cy="681.8" r="14"/>
<circle cx="2315.3" cy="677.8" r="14"/>
<circle cx="2331.3" cy="680.8" r="14"/>
<circle cx="2333.0" cy="685.4" r="14"/>
<circle cx="2310.4" cy="679.1" r="14"/>
<circle cx="2321.3" cy="684.5" r="14"/>
<circle cx="2326.0" cy="682.2" r="14"/>
<circle cx="2299.2" cy="682.3" r="14"/>
<circle cx="2283.9" cy="691.4" r="14"/>
<circle cx="2300.5" cy="684.4" r="14"/>
<circle cx="2294.4" cy="691.2" r="14"/>
<circle cx="2305.5" cy="687.8" r="14"/>
<circle cx="2258.3" cy="693.4" r="14"/>
<circle cx="2265.2" cy="692.4" r="14"/>
<circle cx="2257.7" cy="703.4" r="14"/>
<circle cx="2237.3" cy="699.1" r="14"/>
<circle cx="2266.5" cy="700.7" r="14"/>
<circle cx="2269.4" cy="711.3" r="14"/>
<circle cx="2242.3" cy="690.3" r="14"/>
<circle cx="2276.2" cy="698.5" r="14"/>
<circle cx="2261.8" cy="693.5" r="14"/>
<circle cx="2254.0" cy="708.0" r="14"/>
<circle cx="2245.6" cy="712.2" r="14"/>
<circle cx="2251.3" cy="714.9" r="14"/>
<circle cx="2205.8" cy="714.3" r="14"/>
<circle cx="2236.5" cy="709.4" r="14"/>
<circle cx="2232.0" cy="725.9" r="14"/>
<circle cx="2185.1" cy="719.2" r="14"/>
<circle cx="2218.8" cy="717.6" r="14"/>
<circle cx="2203.8" cy="714.3" r="14"/>
<circle cx="2218.0" cy="724.6" r="14"/>
<circle cx="2191.8" cy="721.1" r="14"/>
<circle cx="2195.1" cy="722.9" r="14"/>
<circle cx="2197.3" cy="728.1" r="14"/>
<circle cx="2171.0" cy="729.8" r="14"/>
<circle cx="2193.3" cy="725.6" r="14"/>
<circle cx="2176.3" cy="738.7" r="14"/>
<circle cx="2182.7" cy="727.8" r="14"/>
<circle cx="2160.2" cy="728.7" r="14"/>
<circle cx="2184.8" cy="738.2" r="14"/>
<circle cx="2171.9" cy="738.8" r="14"/>
<circle cx="2153.5" cy="740.1" r="14"/>
<circle cx="2163.8" cy="739.0" r="14"/>
<circle cx="2170.8" cy="743.1" r="14"/>
<circle cx="2176.0" cy="741.4" r="14"/>
<circle cx="2111.2" cy="737.2" r="14"/>
<circle cx="2151.1" cy="751.7" r="14"/>
<circle cx="2139.3" cy="743.9" r="14"/>
<circle cx="2124.9" cy="749.7" r="14"/>
<circle cx="2104.2" cy="756.5" r="14"/>
<circle cx="2140.6" cy="754.4" r="14"/>
<circle cx="2091.0" cy="767.5" r="14"/>
<circle cx="2119.6" cy="750.3" r="14"/>
<circle cx="2128.5" cy="755.4" r="14"/>
<circle cx="2072.0" cy="761.5" r="14"/>
<circle cx="2091.0" cy="769.8" r="14"/>
<circle cx="2068.6" cy="763.2" r="14"/>
<circle cx="2092.3" cy="758.8" r="14"/>
<circle cx="2110.8" cy="773.8" r="14"/>
<circle cx="2115.7" cy="765.0" r="14"/>
<circle cx="2043.0" cy="770.4" r="14"/>
<circle cx="2060.3" cy="777.6" r="14"/>
<circle cx="2079.0" cy="771.6" r="14"/>
<circle cx="2090.5" cy="774.4" r="14"/>
<circle cx="2065.4" cy="780.9" r="14"/>
<circle cx="2040.0" cy="779.2" r="14"/>
<circle cx="2054.5" cy="783.4" r="14"/>
<circle cx="2044.6" cy="779.1" r="14"/>
<circle cx="2036.9" cy="784.9" r="14"/>
<circle cx="2023.1" cy="782.0" r="14"/>
<circle cx="2039.0" cy="781.5" r="14"/>
<circle cx="2033.2" cy="799.1" r="14"/>
<circle cx="2021.7" cy="794.6" r="14"/>
<circle cx="2015.1" cy="798.5" r="14"/>
<circle cx="1991.7" cy="791.4" r="14"/>
<circle cx="2001.7" cy="797.5" r="14"/>
<circle cx="2027.9" cy="798.4" r="14"/>
<circle cx="1998.4" cy="794.5" r="14"/>
<circle cx="1971.7" cy="805.2" r="14"/>
<circle cx="2017.3" cy="801.1" r="14"/>
<circle cx="1998.5" cy="805.1" r="14"/>
<circle cx="2022.6" cy="800.9" r="14"/>
<circle cx="1981.5" cy="813.8" r="14"/>
<circle cx="1967.8" cy="814.3" r="14"/>
<circle cx="1945.7" cy="814.3" r="14"/>
<circle cx="1991.3" cy="810.2" r="14"/>
<circle cx="2002.8" cy="813.4" r="14"/>
<circle cx="1944.1" cy="822.5" r="14"/>
<circle cx="1942.9" cy="817.7" r="14"/>
<circle cx="1961.0" cy="821.5" r="14"/>
<circle cx="1931.0" cy="822.5" r="14"/>
<circle cx="1936.8" cy="818.7" r="14"/>
<circle cx="1931.1" cy="831.1" r="14"/>
<circle cx="1936.5" cy="818.2" r="14"/>
<circle cx="1948.5" cy="828.6" r="14"/>
<circle cx="1924.9" cy="828.7" r="14"/>
<circle cx="1936.7" cy="824.0" r="14"/>
<circle cx="1908.3" cy="833.1" r="14"/>
<circle cx="1917.5" cy="835.1" r="14"/>
<circle cx="1868.8" cy="834.6" r="14"/>
<circle cx="1876.9" cy="832.5" r="14"/>
<circle cx="1913.0" cy="838.6" r="14"/>
<circle cx="1883.8" cy="842.3" r="14"/>
<circle cx="1900.5" cy="840.1" r="14"/>
<circle cx="1895.5" cy="846.8" r="14"/>
<circle cx="1905.3" cy="844.8" r="14"/>
<circle cx="1891.8" cy="845.6" r="14"/>
<circle cx="1891.2" cy="848.9" r="14"/>
<circle cx="1866.6" cy="842.7" r="14"/>
<circle cx="1851.7" cy="844.4" r="14"/>
<circle cx="1846.8" cy="849.2" r="14"/>
<circle cx="1846.9" cy="850.3" r="14"/>
<circle cx="1831.0" cy="854.7" r="14"/>
<circle cx="1837.2" cy="854.6" r="14"/>
<circle cx="1841.1" cy="852.4" r="14"/>
<circle cx="1843.0" cy="853.6" r="14"/>
<circle cx="1828.1" cy="853.0" r="14"/>
<circle cx="1795.3" cy="853.8" r="14"/>
<circle cx="1824.3" cy="854.6" r="14"/>
<circle cx="1825.3" cy="860.0" r="14"/>
<circle cx="1836.5" cy="856.7" r="14"/>
<circle cx="1823.1" cy="858.1" r="14"/>
<circle cx="1796.8" cy="860.7" r="14"/>
<circle cx="1791.1" cy="859.7" r="14"/>
<circle cx="1836.0" cy="861.6" r="14"/>
<circle cx="1809.1" cy="856.9" r="14"/>
<circle cx="1824.1" cy="865.4" r="14"/>
<circle cx="1825.2" cy="864.4" r="14"/>
<circle cx="1767.9" cy="866.8" r="14"/>
<circle cx="1785.2" cy="868.3" r="14"/>
<circle cx="1782.2" cy="863.1" r="14"/>
<circle cx="1779.8" cy="875.1" r="14"/>
<circle cx="1775.1" cy="870.6" r="14"/>
<circle cx="1764.7" cy="871.7" r="14"/>
<circle cx="1759.9" cy="867.5" r="14"/>
<circle cx="1725.4" cy="874.7" r="14"/>
<circle cx="1745.2" cy="875.1" r="14"/>
<circle cx="1730.4" cy="874.1" r="14"/>
<circle cx="1741.8" cy="876.6" r="14"/>
<circle cx="1726.9" cy="880.1" r="14"/>
<circle cx="1742.1" cy="877.0" r="14"/>
<circle cx="1741.4" cy="876.6" r="14"/>
<circle cx="1727.9" cy="882.8" r="14"/>
<circle cx="1723.8" cy="881.2" r="14"/>
<circle cx="1715.5" cy="881.1" r="14"/>
<circle cx="1701.4" cy="887.0" r="14"/>
<circle cx="1702.2" cy="883.6" r="14"/>
<circle cx="1692.0" cy="883.8" r="14"/>
<circle cx="1703.6" cy="885.6" r="14"/>
<circle cx="1692.5" cy="885.1" r="14"/>
<circle cx="1698.4" cy="887.2" r="14"/>
<circle cx="1659.8" cy="887.9" r="14"/>
<circle cx="1695.4" cy="887.2" r="14"/>
<circle cx="1661.4" cy="888.8" r="14"/>
<circle cx="1657.6" cy="890.8" r="14"/>
<circle cx="1662.9" cy="891.8" r="14"/>
<circle cx="1652.0" cy="893.0" r="14"/>
<circle cx="1663.1" cy="894.2" r="14"/>
<circle cx="1643.2" cy="894.0" r="14"/>
<circle cx="1630.0" cy="895.3" r="14"/>
<circle cx="1629.8" cy="894.6" r="14"/>
<circle cx="1664.3" cy="895.7" r="14"/>
<circle cx="1637.2" cy="898.7" r="14"/>
<circle cx="1611.1" cy="894.5" r="14"/>
<circle cx="1627.9" cy="899.2" r="14"/>
<circle cx="1595.5" cy="902.7" r="14"/>
<circle cx="1651.4" cy="897.4" r="14"/>
<circle cx="1587.4" cy="903.3" r="14"/>
<circle cx="1619.2" cy="899.3" r="14"/>
<circle cx="1616.1" cy="903.2" r="14"/>
<circle cx="1575.9" cy="905.8" r="14"/>
<circle cx="1603.1" cy="906.4" r="14"/>
<circle cx="1611.3" cy="903.9" r="14"/>
<circle cx="1597.5" cy="904.2" r="14"/>
<circle cx="1589.5" cy="904.9" r="14"/>
<circle cx="1597.6" cy="908.5" r="14"/>
<circle cx="1579.1" cy="907.9" r="14"/>
<circle cx="1577.9" cy="909.3" r="14"/>
<circle cx="1565.3" cy="910.4" r="14"/>
<circle cx="1574.7" cy="911.4" r="14"/>
<circle cx="1542.0" cy="912.3" r="14"/>
<circle cx="1568.9" cy="912.7" r="14"/>
<circle cx="1541.3" cy="911.6" r="14"/>
<circle cx="1526.4" cy="915.8" r="14"/>
<circle cx="1548.4" cy="912.7" r="14"/>
<circle cx="1568.0" cy="917.1" r="14"/>
<circle cx="1550.5" cy="916.1" r="14"/>
<circle cx="1519.6" cy="917.3" r="14"/>
<circle cx="1537.1" cy="917.9" r="14"/>
<circle cx="1512.1" cy="918.9" r="14"/>
<circle cx="1513.7" cy="920.0" r="14"/>
<circle cx="1513.3" cy="920.6" r="14"/>
<circle cx="1467.8" cy="920.8" r="14"/>
<circle cx="1506.5" cy="923.3" r="14"/>
<circle cx="1480.2" cy="923.0" r="14"/>
<circle cx="1481.9" cy="925.3" r="14"/>
<circle cx="1463.6" cy="925.0" r="14"/>
<circle cx="1458.6" cy="925.4" r="14"/>
<circle cx="1464.6" cy="927.1" r="14"/>
<circle cx="1492.1" cy="928.2" r="14"/>
<circle cx="1503.0" cy="927.8" r="14"/>
<circle cx="1468.2" cy="929.0" r="14"/>
<circle cx="1484.0" cy="930.9" r="14"/>
<circle cx="1455.3" cy="930.2" r="14"/>
<circle cx="1421.4" cy="931.1" r="14"/>
<circle cx="1454.2" cy="932.5" r="14"/>
<circle cx="1455.2" cy="932.5" r="14"/>
<circle cx="1435.2" cy="932.8" r="14"/>
<circle cx="1444.0" cy="933.9" r="14"/>
<circle cx="1444.6" cy="935.8" r="14"/>
<circle cx="1414.4" cy="936.7" r="14"/>
<circle cx="1399.1" cy="937.5" r="14"/>
<circle cx="1417.4" cy="938.1" r="14"/>
<circle cx="1413.3" cy="938.1" r="14"/>
<circle cx="1406.4" cy="939.8" r="14"/>
<circle cx="1426.3" cy="940.8" r="14"/>
<circle cx="1435.2" cy="940.7" r="14"/>
<circle cx="1392.4" cy="942.2" r="14"/>
<circle cx="1408.2" cy="942.4" r="14"/>
<circle cx="1408.2" cy="943.4" r="14"/>
<circle cx="1399.8" cy="944.2" r="14"/>
<circle cx="1401.5" cy="944.3" r="14"/>
<circle cx="1371.4" cy="946.2" r="14"/>
<circle cx="1387.4" cy="946.1" r="14"/>
<circle cx="1406.2" cy="947.2" r="14"/>
<circle cx="1379.9" cy="947.8" r="14"/>
<circle cx="1350.1" cy="948.9" r="14"/>
<circle cx="1367.8" cy="949.7" r="14"/>
<circle cx="1375.2" cy="950.3" r="14"/>
<circle cx="1354.9" cy="951.5" r="14"/>
<circle cx="1333.9" cy="951.9" r="14"/>
<circle cx="1367.2" cy="952.5" r="14"/>
<circle cx="1313.1" cy="952.7" r="14"/>
<circle cx="1340.0" cy="954.1" r="14"/>
<circle cx="1326.5" cy="954.8" r="14"/>
<circle cx="1301.3" cy="955.4" r="14"/>
<circle cx="1339.8" cy="956.2" r="14"/>
<circle cx="1320.0" cy="957.3" r="14"/>
<circle cx="1289.0" cy="958.2" r="14"/>
<circle cx="1315.9" cy="959.2" r="14"/>
<circle cx="1293.4" cy="959.7" r="14"/>
<circle cx="1263.3" cy="959.9" r="14"/>
<circle cx="1280.3" cy="960.9" r="14"/>
<circle cx="1292.7" cy="961.1" r="14"/>
<circle cx="1294.9" cy="962.5" r="14"/>
<circle cx="1282.4" cy="963.1" r="14"/>
<circle cx="1276.0" cy="963.5" r="14"/>
<circle cx="1279.0" cy="964.3" r="14"/>
<circle cx="1262.9" cy="964.9" r="14"/>
<circle cx="1282.5" cy="965.5" r="14"/>
<circle cx="1260.5" cy="966.7" r="14"/>
<circle cx="1258.7" cy="967.6" r="14"/>
<circle cx="1258.6" cy="967.9" r="14"/>
<circle cx="1227.1" cy="968.6" r="14"/>
<circle cx="1228.7" cy="968.9" r="14"/>
<circle cx="1262.3" cy="969.4" r="14"/>
<circle cx="1237.8" cy="970.7" r="14"/>
<circle cx="1223.1" cy="970.5" r="14"/>
<circle cx="1229.3" cy="971.3" r="14"/>
<circle cx="1211.2" cy="971.7" r="14"/>
<circle cx="1219.6" cy="972.5" r="14"/>
<circle cx="1199.7" cy="972.8" r="14"/>
<circle cx="1210.9" cy="973.6" r="14"/>
<circle cx="1176.2" cy="973.5" r="14"/>
<circle cx="1219.6" cy="974.4" r="14"/>
<circle cx="1185.1" cy="975.4" r="14"/>
<circle cx="1163.5" cy="975.2" r="14"/>
<circle cx="1181.3" cy="975.8" r="14"/>
<circle cx="1174.6" cy="976.9" r="14"/>
<circle cx="1178.7" cy="977.1" r="14"/>
<circle cx="1153.7" cy="977.8" r="14"/>
<circle cx="1174.0" cy="977.3" r="14"/>
<circle cx="1198.2" cy="978.4" r="14"/>
<circle cx="1139.0" cy="978.5" r="14"/>
<circle cx="1160.1" cy="978.9" r="14"/>
<circle cx="1145.6" cy="979.9" r="14"/>
<circle cx="1149.2" cy="980.6" r="14"/>
<circle cx="1113.9" cy="980.3" r="14"/>
<circle cx="1119.9" cy="980.9" r="14"/>
<circle cx="1140.3" cy="981.5" r="14"/>
<circle cx="1128.4" cy="982.1" r="14"/>
<circle cx="1149.4" cy="982.2" r="14"/>
<circle cx="1109.8" cy="983.7" r="14"/>
<circle cx="1118.7" cy="983.7" r="14"/>
<circle cx="1144.5" cy="983.9" r="14"/>
<circle cx="1096.2" cy="984.3" r="14"/>
<circle cx="1089.9" cy="985.6" r="14"/>
<circle cx="1098.4" cy="986.1" r="14"/>
<circle cx="1093.9" cy="985.7" r="14"/>
<circle cx="1102.4" cy="986.5" r="14"/>
<circle cx="1087.8" cy="987.2" r="14"/>
<circle cx="1070.9" cy="986.9" r="14"/>
<circle cx="1080.4" cy="987.6" r="14"/>
<circle cx="1104.0" cy="988.6" r="14"/>
<circle cx="1086.5" cy="988.5" r="14"/>
<circle cx="1034.0" cy="989.0" r="14"/>
<circle cx="1058.2" cy="989.2" r="14"/>
<circle cx="1043.9" cy="989.9" r="14"/>
<circle cx="1060.0" cy="990.8" r="14"/>
<circle cx="1044.9" cy="990.8" r="14"/>
<circle cx="1068.9" cy="991.1" r="14"/>
<circle cx="1051.1" cy="991.7" r="14"/>
<circle cx="1046.1" cy="992.9" r="14"/>
<circle cx="1032.5" cy="992.9" r="14"/>
<circle cx="1025.3" cy="993.1" r="14"/>
<circle cx="1025.9" cy="993.7" r="14"/>
<circle cx="1033.8" cy="994.2" r="14"/>
<circle cx="1019.7" cy="994.6" r="14"/>
<circle cx="1004.2" cy="994.4" r="14"/>
<circle cx="1020.2" cy="995.4" r="14"/>
<circle cx="1002.4" cy="995.7" r="14"/>
<circle cx="994.7" cy="996.4" r="14"/>
<circle cx="981.7" cy="996.1" r="14"/>
<circle cx="980.2" cy="997.2" r="14"/>
<circle cx="975.1" cy="997.1" r="14"/>
<circle cx="952.3" cy="997.2" r="14"/>
<circle cx="986.2" cy="998.4" r="14"/>
<circle cx="976.5" cy="998.2" r="14"/>
<circle cx="963.1" cy="998.9" r="14"/>
<circle cx="973.3" cy="999.1" r="14"/>
<circle cx="962.0" cy="999.8" r="14"/>
<circle cx="956.9" cy="1000.1" r="14"/>
<circle cx="923.8" cy="1000.5" r="14"/>
<circle cx="941.5" cy="1000.7" r="14"/>
<circle cx="945.6" cy="1000.3" r="14"/>
<circle cx="952.9" cy="1000.7" r="14"/>
<circle cx="950.9" cy="1001.6" r="14"/>
<circle cx="942.0" cy="1001.5" r="14"/>
<circle cx="910.4" cy="1002.3" r="14"/>
<circle cx="895.4" cy="1002.5" r="14"/>
<circle cx="919.9" cy="1002.4" r="14"/>
<circle cx="910.0" cy="1002.8" r="14"/>
<circle cx="915.1" cy="1003.1" r="14"/>
<circle cx="899.8" cy="1003.5" r="14"/>
<circle cx="899.0" cy="1004.0" r="14"/>
<circle cx="877.8" cy="1004.6" r="14"/>
<circle cx="892.5" cy="1005.1" r="14"/>
<circle cx="879.6" cy="1004.7" r="14"/>
<circle cx="882.9" cy="1005.1" r="14"/>
<circle cx="879.6" cy="1006.1" r="14"/>
<circle cx="869.9" cy="1006.2" r="14"/>
<circle cx="869.6" cy="1006.3" r="14"/>
<circle cx="862.3" cy="1005.9" r="14"/>
<circle cx="864.8" cy="1006.5" r="14"/>
<circle cx="858.2" cy="1007.2" r="14"/>
<circle cx="844.7" cy="1007.3" r="14"/>
<circle cx="840.1" cy="1008.3" r="14"/>
<circle cx="855.7" cy="1008.1" r="14"/>
<circle cx="835.7" cy="1008.5" r="14"/>
<circle cx="840.5" cy="1008.3" r="14"/>
<circle cx="831.2" cy="1008.7" r="14"/>
<circle cx="819.1" cy="1009.1" r="14"/>
<circle cx="813.4" cy="1009.4" r="14"/>
<circle cx="816.0" cy="1009.9" r="14"/>
<circle cx="812.8" cy="1010.4" r="14"/>
<circle cx="811.2" cy="1010.7" r="14"/>
<circle cx="792.7" cy="1011.2" r="14"/>
<circle cx="793.5" cy="1010.8" r="14"/>
<circle cx="792.9" cy="1011.7" r="14"/>
<circle cx="800.8" cy="1012.0" r="14"/>
<circle cx="769.4" cy="1012.8" r="14"/>
<circle cx="783.7" cy="1012.5" r="14"/>
<circle cx="772.7" cy="1013.1" r="14"/>
<circle cx="775.0" cy="1013.1" r="14"/>
<circle cx="764.5" cy="1013.8" r="14"/>
<circle cx="765.9" cy="1014.2" r="14"/>
<circle cx="769.3" cy="1014.2" r="14"/>
<circle cx="757.1" cy="1014.6" r="14"/>
<circle cx="753.3" cy="1015.1" r="14"/>
<circle cx="748.6" cy="1015.7" r="14"/>
<circle cx="737.5" cy="1015.6" r="14"/>
<circle cx="740.9" cy="1016.6" r="14"/>
<circle cx="732.2" cy="1016.6" r="14"/>
<circle cx="724.4" cy="1017.7" r="14"/>
<circle cx="724.6" cy="1018.0" r="14"/>
<circle cx="719.2" cy="1017.8" r="14"/>
<circle cx="720.3" cy="1018.2" r="14"/>
<circle cx="711.7" cy="1019.5" r="14"/>
<circle cx="704.8" cy="1019.4" r="14"/>
<circle cx="710.7" cy="1019.9" r="14"/>
<circle cx="703.9" cy="1020.0" r="14"/>
<circle cx="700.9" cy="1020.6" r="14"/>
<circle cx="693.3" cy="1021.4" r="14"/>
<circle cx="685.6" cy="1021.9" r="14"/>
<circle cx="679.8" cy="1022.0" r="14"/>
<circle cx="676.2" cy="1023.2" r="14"/>
<circle cx="677.4" cy="1023.5" r="14"/>
<circle cx="669.4" cy="1023.7" r="14"/>
<circle cx="658.3" cy="1024.9" r="14"/>
<circle cx="660.1" cy="1025.2" r="14"/>
<circle cx="650.2" cy="1026.1" r="14"/>
<circle cx="652.3" cy="1026.3" r="14"/>
<circle cx="642.7" cy="1027.3" r="14"/>
<circle cx="638.3" cy="1027.3" r="14"/>
<circle cx="639.2" cy="1028.6" r="14"/>
<circle cx="634.2" cy="1028.6" r="14"/>
<circle cx="624.3" cy="1029.8" r="14"/>
<circle cx="628.4" cy="1029.7" r="14"/>
<circle cx="628.8" cy="1030.9" r="14"/>
<circle cx="612.5" cy="1031.8" r="14"/>
<circle cx="618.8" cy="1032.3" r="14"/>
<circle cx="606.6" cy="1033.0" r="14"/>
<circle cx="602.9" cy="1032.9" r="14"/>
<circle cx="599.6" cy="1034.2" r="14"/>
<circle cx="591.7" cy="1034.7" r="14"/>
<circle cx="595.1" cy="1034.3" r="14"/>
<circle cx="588.5" cy="1034.9" r="14"/>
<circle cx="580.9" cy="1035.4" r="14"/>
<circle cx="577.9" cy="1036.1" r="14"/>
<circle cx="570.6" cy="1036.6" r="14"/>
<circle cx="569.2" cy="1036.4" r="14"/>
<circle cx="567.8" cy="1037.7" r="14"/>
<circle cx="557.6" cy="1037.9" r="14"/>
<circle cx="556.1" cy="1038.1" r="14"/>
<circle cx="553.1" cy="1039.2" r="14"/>
<circle cx="550.6" cy="1039.3" r="14"/>
<circle cx="546.8" cy="1040.2" r="14"/>
<circle cx="539.0" cy="1040.4" r="14"/>
<circle cx="534.3" cy="1040.6" r="14"/>
<circle cx="532.1" cy="1041.5" r="14"/>
<circle cx="526.4" cy="1041.9" r="14"/>
<circle cx="522.2" cy="1041.9" r="14"/>
<circle cx="520.0" cy="1042.0" r="14"/>
<circle cx="516.5" cy="1042.8" r="14"/>
<circle cx="510.2" cy="1043.6" r="14"/>
<circle cx="505.2" cy="1043.8" r="14"/>
<circle cx="501.9" cy="1044.8" r="14"/>
<circle cx="494.6" cy="1044.8" r="14"/>
<circle cx="492.6" cy="1045.2" r="14"/>
<circle cx="487.1" cy="1045.7" r="14"/>
<circle cx="486.3" cy="1045.7" r="14"/>
<circle cx="480.4" cy="1046.4" r="14"/>
<circle cx="475.5" cy="1046.6" r="14"/>
<circle cx="470.9" cy="1046.6" r="14"/>
<circle cx="464.9" cy="1047.1" r="14"/>
<circle cx="463.0" cy="1048.3" r="14"/>
<circle cx="459.4" cy="1048.3" r="14"/>
<circle cx="453.4" cy="1048.8" r="14"/>
<circle cx="450.0" cy="1048.8" r="14"/>
<circle cx="445.7" cy="1049.4" r="14"/>
<circle cx="440.1" cy="1050.2" r="14"/>
<circle cx="437.2" cy="1050.4" r="14"/>
<circle cx="433.0" cy="1050.6" r="14"/>
<circle cx="428.2" cy="1051.6" r="14"/>
<circle cx="423.8" cy="1051.5" r="14"/>
<circle cx="419.8" cy="1051.7" r="14"/>
<circle cx="414.6" cy="1052.5" r="14"/>
<circle cx="410.9" cy="1052.0" r="14"/>
<circle cx="406.9" cy="1053.1" r="14"/>
<circle cx="402.0" cy="1052.9" r="14"/>
<circle cx="398.2" cy="1053.3" r="14"/>
<circle cx="393.6" cy="1053.7" r="14"/>
<circle cx="389.0" cy="1054.3" r="14"/>
<circle cx="385.1" cy="1054.6" r="14"/>
<circle cx="380.7" cy="1055.0" r="14"/>
<circle cx="376.5" cy="1055.2" r="14"/>
<circle cx="372.1" cy="1055.9" r="14"/>
<circle cx="368.0" cy="1056.3" r="14"/>
<circle cx="363.5" cy="1056.3" r="14"/>
<circle cx="359.3" cy="1056.6" r="14"/>
<circle cx="355.0" cy="1056.5" r="14"/>
<circle cx="350.7" cy="1056.6" r="14"/>
<circle cx="346.4" cy="1057.4" r="14"/>
<circle cx="342.1" cy="1057.5" r="14"/>
<circle cx="338.3" cy="1057.7" r="14"/>
</g>
<polyline points="2466.9,761.9 2486.5,784.7 2479.7,767.5 2444.2,775.9 2443.7,782.3 2435.3,771.0 2450.7,776.7 2435.2,770.3 2445.3,774.7 2394.3,773.4 2451.5,785.6 2417.2,788.0 2426.9,786.0 2407.9,795.8 2399.3,797.8 2410.1,791.7 2412.3,791.9 2389.5,792.9 2386.1,793.3 2396.9,804.0 2364.6,799.6 2348.7,797.9 2378.8,799.8 2355.3,805.3 2328.5,801.6 2344.1,806.7 2346.1,806.2 2328.7,815.0 2319.0,815.3 2342.2,803.0 2353.4,811.1 2328.8,817.1 2315.3,812.3 2331.3,820.4 2333.0,819.3 2310.4,822.1 2321.3,820.0 2326.0,823.4 2299.2,826.0 2283.9,816.8 2300.5,821.1 2294.4,822.0 2305.5,837.9 2258.3,831.9 2265.2,833.8 2257.7,834.1 2237.3,831.9 2266.5,832.2 2269.4,842.1 2242.3,837.0 2276.2,848.8 2261.8,843.0 2254.0,843.9 2245.6,843.7 2251.3,845.9 2205.8,847.9 2236.5,857.2 2232.0,862.1 2185.1,846.1 2218.8,854.9 2203.8,858.7 2218.0,851.8 2191.8,854.6 2195.1,857.0 2197.3,849.5 2171.0,865.6 2193.3,863.4 2176.3,864.6 2182.7,867.0 2160.2,869.2 2184.8,880.5 2171.9,871.8 2153.5,876.5 2163.8,871.1 2170.8,876.9 2176.0,874.9 2111.2,877.2 2151.1,874.8 2139.3,876.7 2124.9,884.3 2104.2,887.1 2140.6,887.1 2091.0,883.0 2119.6,889.1 2128.5,878.4 2072.0,894.8 2091.0,891.5 2068.6,894.3 2092.3,899.8 2110.8,893.7 2115.7,901.5 2043.0,896.3 2060.3,902.1 2079.0,899.0 2090.5,903.6 2065.4,910.1 2040.0,901.8 2054.5,903.3 2044.6,905.8 2036.9,909.8 2023.1,919.3 2039.0,908.4 2033.2,903.2 2021.7,910.5 2015.1,907.7 1991.7,913.3 2001.7,917.0 2027.9,914.0 1998.4,916.3 1971.7,912.5 2017.3,922.2 1998.5,919.5 2022.6,928.1 1981.5,929.0 1967.8,922.3 1945.7,925.4 1991.3,928.1 2002.8,931.9 1944.1,923.4 1942.9,930.7 1961.0,939.1 1931.0,932.6 1936.8,934.7 1931.1,934.8 1936.5,931.3 1948.5,940.2 1924.9,938.5 1936.7,939.0 1908.3,941.9 1917.5,942.9 1868.8,934.2 1876.9,943.5 1913.0,940.5 1883.8,943.9 1900.5,941.7 1895.5,942.0 1905.3,948.9 1891.8,946.4 1891.2,946.2 1866.6,946.9 1851.7,948.9 1846.8,949.3 1846.9,942.9 1831.0,948.0 1837.2,950.7 1841.1,954.4 1843.0,956.9 1828.1,950.6 1795.3,959.9 1824.3,955.0 1825.3,956.8 1836.5,954.5 1823.1,955.0 1796.8,961.3 1791.1,957.3 1836.0,958.3 1809.1,962.3 1824.1,964.4 1825.2,956.4 1767.9,960.5 1785.2,961.5 1782.2,966.7 1779.8,968.0 1775.1,963.1 1764.7,964.8 1759.9,966.5 1725.4,967.7 1745.2,964.8 1730.4,968.1 1741.8,965.0 1726.9,962.0 1742.1,964.6 1741.4,968.7 1727.9,970.5 1723.8,964.5 1715.5,966.0 1701.4,970.3 1702.2,966.2 1692.0,972.5 1703.6,974.0 1692.5,968.0 1698.4,974.4 1659.8,973.1 1695.4,976.6 1661.4,975.0 1657.6,974.6 1662.9,975.7 1652.0,977.7 1663.1,976.9 1643.2,977.1 1630.0,975.2 1629.8,978.8 1664.3,978.6 1637.2,981.9 1611.1,979.6 1627.9,980.0 1595.5,979.7 1651.4,982.1 1587.4,981.3 1619.2,981.2 1616.1,984.8 1575.9,985.5 1603.1,983.1 1611.3,982.9 1597.5,986.1 1589.5,984.2 1597.6,988.2 1579.1,986.1 1577.9,987.9 1565.3,985.9 1574.7,987.8 1542.0,989.6 1568.9,989.4 1541.3,988.9 1526.4,992.1 1548.4,991.3 1568.0,990.9 1550.5,991.2 1519.6,992.0 1537.1,994.0 1512.1,992.8 1513.7,994.0 1513.3,993.9 1467.8,996.2 1506.5,995.6 1480.2,997.0 1481.9,997.4 1463.6,997.2 1458.6,998.7 1464.6,999.4 1492.1,998.6 1503.0,1000.5 1468.2,1001.9 1484.0,1001.1 1455.3,1002.3 1421.4,1001.7 1454.2,1003.4 1455.2,1003.4 1435.2,1004.8 1444.0,1005.0 1444.6,1005.0 1414.4,1006.8 1399.1,1006.7 1417.4,1007.0 1413.3,1008.1 1406.4,1008.2 1426.3,1009.5 1435.2,1009.9 1392.4,1010.3 1408.2,1011.4 1408.2,1011.2 1399.8,1012.7 1401.5,1012.1 1371.4,1014.1 1387.4,1014.2 1406.2,1014.6 1379.9,1015.1 1350.1,1016.1 1367.8,1016.5 1375.2,1017.1 1354.9,1018.1 1333.9,1018.2 1367.2,1018.9 1313.1,1019.7 1340.0,1020.5 1326.5,1020.7 1301.3,1021.4 1339.8,1021.9 1320.0,1022.8 1289.0,1023.6 1315.9,1023.4 1293.4,1024.3 1263.3,1024.9 1280.3,1025.6 1292.7,1026.5 1294.9,1026.6 1282.4,1027.3 1276.0,1028.1 1279.0,1028.0 1262.9,1028.7 1282.5,1029.3 1260.5,1030.0 1258.7,1030.6 1258.6,1030.9 1227.1,1032.2 1228.7,1032.0 1262.3,1032.6 1237.8,1033.5 1223.1,1034.0 1229.3,1034.2 1211.2,1034.9 1219.6,1035.5 1199.7,1035.8 1210.9,1036.5 1176.2,1036.5 1219.6,1037.3 1185.1,1037.2 1163.5,1037.9 1181.3,1038.4 1174.6,1039.6 1178.7,1039.5 1153.7,1040.2 1174.0,1040.3 1198.2,1041.0 1139.0,1041.4 1160.1,1041.7 1145.6,1042.7 1149.2,1042.4 1113.9,1043.6 1119.9,1044.4 1140.3,1044.0 1128.4,1044.7 1149.4,1044.7 1109.8,1045.6 1118.7,1045.5 1144.5,1046.7 1096.2,1046.8 1089.9,1046.9 1098.4,1047.5 1093.9,1047.8 1102.4,1048.7 1087.8,1049.4 1070.9,1049.5 1080.4,1049.7 1104.0,1050.2 1086.5,1050.9 1034.0,1050.6 1058.2,1051.9 1043.9,1052.3 1060.0,1051.9 1044.9,1053.3 1068.9,1052.9 1051.1,1053.8 1046.1,1054.6 1032.5,1054.2 1025.3,1054.5 1025.9,1055.2 1033.8,1055.6 1019.7,1056.3 1004.2,1056.7 1020.2,1057.1 1002.4,1057.6 994.7,1058.1 981.7,1058.3 980.2,1059.2 975.1,1059.5 952.3,1059.7 986.2,1061.0 976.5,1060.6 963.1,1061.7 973.3,1061.7 962.0,1062.5 956.9,1063.1 923.8,1063.6 941.5,1064.3 945.6,1064.1 952.9,1065.5 950.9,1065.5 942.0,1065.6 910.4,1066.0 895.4,1067.5 919.9,1067.9 910.0,1067.9 915.1,1068.6 899.8,1069.3 899.0,1069.5 877.8,1069.8 892.5,1070.4 879.6,1071.2 882.9,1071.5 879.6,1071.6 869.9,1072.7 869.6,1072.4 862.3,1073.2 864.8,1074.4 858.2,1074.5 844.7,1075.0 840.1,1075.5 855.7,1076.3 835.7,1076.4 840.5,1076.3 831.2,1077.5 819.1,1077.2 813.4,1077.7 816.0,1079.3 812.8,1079.6 811.2,1079.6 792.7,1080.2 793.5,1080.7 792.9,1081.4 800.8,1081.3 769.4,1081.7 783.7,1082.2 772.7,1082.9 775.0,1083.4 764.5,1083.6 765.9,1084.3 769.3,1084.2 757.1,1084.9 753.3,1085.1 748.6,1085.4 737.5,1086.5 740.9,1086.4 732.2,1086.6 724.4,1087.3 724.6,1087.4 719.2,1088.2 720.3,1088.7 711.7,1089.2 704.8,1088.9 710.7,1089.6 703.9,1090.6 700.9,1090.3 693.3,1091.2 685.6,1091.6 679.8,1091.1 676.2,1092.3 677.4,1092.5 669.4,1092.9 658.3,1093.6 660.1,1093.6 650.2,1093.8 652.3,1094.4 642.7,1094.4 638.3,1095.1 639.2,1094.7 634.2,1096.2 624.3,1095.9 628.4,1096.6 628.8,1096.8 612.5,1097.1 618.8,1097.5 606.6,1097.9 602.9,1097.7 599.6,1098.4 591.7,1099.3 595.1,1099.0 588.5,1099.3 580.9,1100.6 577.9,1100.7 570.6,1101.2 569.2,1101.0 567.8,1101.5 557.6,1101.9 556.1,1102.2 553.1,1102.4 550.6,1102.3 546.8,1102.9 539.0,1103.0 534.3,1104.2 532.1,1104.0 526.4,1104.4 522.2,1104.8 520.0,1105.1 516.5,1105.6 510.2,1105.5 505.2,1105.6 501.9,1106.9 494.6,1106.5 492.6,1106.9 487.1,1107.1 486.3,1107.5 480.4,1108.0 475.5,1108.5 470.9,1108.2 464.9,1109.0 463.0,1109.0 459.4,1109.8 453.4,1109.4 450.0,1110.1 445.7,1110.6 440.1,1110.3 437.2,1111.0 433.0,1111.3 428.2,1111.3 423.8,1111.8 419.8,1112.4 414.6,1112.5 410.9,1112.6 406.9,1112.9 402.0,1113.4 398.2,1113.9 393.6,1114.0 389.0,1114.3 385.1,1114.8 380.7,1114.1 376.5,1114.4 372.1,1114.4 368.0,1115.6 363.5,1115.0 359.3,1115.9 355.0,1116.4 350.7,1116.0 346.4,1116.4 342.1,1116.8 338.3,1117.1" fill="none" stroke="#ff0000" stroke-width="5" stroke-linejoin="round"/>
<g fill="#fff" stroke="#ff0000" stroke-width="5">
<circle cx="2466.9" cy="761.9" r="14"/>
<circle cx="2486.5" cy="784.7" r="14"/>
<circle cx="2479.7" cy="767.5" r="14"/>
<circle cx="2444.2" cy="775.9" r="14"/>
<circle cx="2443.7" cy="782.3" r="14"/>
<circle cx="2435.3" cy="771.0" r="14"/>
<circle cx="2450.7" cy="776.7" r="14"/>
<circle cx="2435.2" cy="770.3" r="14"/>
<circle cx="2445.3" cy="774.7" r="14"/>
<circle cx="2394.3" cy="773.4" r="14"/>
<circle cx="2451.5" cy="785.6" r="14"/>
<circle cx="2417.2" cy="788.0" r="14"/>
<circle cx="2426.9" cy="786.0" r="14"/>
<circle cx="2407.9" cy="795.8" r="14"/>
<circle cx="2399.3" cy="797.8" r="14"/>
<circle cx="2410.1" cy="791.7" r="14"/>
<circle cx="2412.3" cy="791.9" r="14"/>
<circle cx="2389.5" cy="792.9" r="14"/>
<circle cx="2386.1" cy="793.3" r="14"/>
<circle cx="2396.9" cy="804.0" r="14"/>
<circle cx="2364.6" cy="799.6" r="14"/>
<circle cx="2348.7" cy="797.9" r="14"/>
<circle cx="2378.8" cy="799.8" r="14"/>
<circle cx="2355.3" cy="805.3" r="14"/>
<circle cx="2328.5" cy="801.6" r="14"/>
<circle cx="2344.1" cy="806.7" r="14"/>
<circle cx="2346.1" cy="806.2" r="14"/>
<circle cx="2328.7" cy="815.0" r="14"/>
<circle cx="2319.0" cy="815.3" r="14"/>
<circle cx="2342.2" cy="803.0" r="14"/>
<circle cx="2353.4" cy="811.1" r="14"/>
<circle cx="2328.8" cy="817.1" r="14"/>
<circle cx="2315.3" cy="812.3" r="14"/>
<circle cx="2331.3" cy="820.4" r="14"/>
<circle cx="2333.0" cy="819.3" r="14"/>
<circle cx="2310.4" cy="822.1" r="14"/>
<circle cx="2321.3" cy="820.0" r="14"/>
<circle cx="2326.0" cy="823.4" r="14"/>
<circle cx="2299.2" cy="826.0" r="14"/>
<circle cx="2283.9" cy="816.8" r="14"/>
<circle cx="2300.5" cy="821.1" r="14"/>
<circle cx="2294.4" cy="822.0" r="14"/>
<circle cx="2305.5" cy="837.9" r="14"/>
<circle cx="2258.3" cy="831.9" r="14"/>
<circle cx="2265.2" cy="833.8" r="14"/>
<circle cx="2257.7" cy="834.1" r="14"/>
<circle cx="2237.3" cy="831.9" r="14"/>
<circle cx="2266.5" cy="832.2" r="14"/>
<circle cx="2269.4" cy="842.1" r="14"/>
<circle cx="2242.3" cy="837.0" r="14"/>
<circle cx="2276.2" cy="848.8" r="14"/>
<circle cx="2261.8" cy="843.0" r="14"/>
<circle cx="2254.0" cy="843.9" r="14"/>
<circle cx="2245.6" cy="843.7" r="14"/>
<circle cx="2251.3" cy="845.9" r="14"/>
<circle cx="2205.8" cy="847.9" r="14"/>
<circle cx="2236.5" cy="857.2" r="14"/>
<circle cx="2232.0" cy="862.1" r="14"/>
<circle cx="2185.1" cy="846.1" r="14"/>
<circle cx="2218.8" cy="854.9" r="14"/>
<circle cx="2203.8" cy="858.7" r="14"/>
<circle cx="2218.0" cy="851.8" r="14"/>
<circle cx="2191.8" cy="854.6" r="14"/>
<circle cx="2195.1" cy="857.0" r="14"/>
<circle cx="2197.3" cy="849.5" r="14"/>
<circle cx="2171.0" cy="865.6" r="14"/>
<circle cx="2193.3" cy="863.4" r="14"/>
<circle cx="2176.3" cy="864.6" r="14"/>
<circle cx="2182.7" cy="867.0" r="14"/>
<circle cx="2160.2" cy="869.2" r="14"/>
<circle cx="2184.8" cy="880.5" r="14"/>
<circle cx="2171.9" cy="871.8" r="14"/>
<circle cx="2153.5" cy="876.5" r="14"/>
<circle cx="2163.8" cy="871.1" r="14"/>
<circle cx="2170.8" cy="876.9" r="14"/>
<circle cx="2176.0" cy="874.9" r="14"/>
<circle cx="2111.2" cy="877.2" r="14"/>
<circle cx="2151.1" cy="874.8" r="14"/>
<circle cx="2139.3" cy="876.7" r="14"/>
<circle cx="2124.9" cy="884.3" r="14"/>
<circle cx="2104.2" cy="887.1" r="14"/>
<circle cx="2140.6" cy="887.1" r="14"/>
<circle cx="2091.0" cy="883.0" r="14"/>
<circle cx="2119.6" cy="889.1" r="14"/>
<circle cx="2128.5" cy="878.4" r="14"/>
<circle cx="2072.0" cy="894.8" r="14"/>
<circle cx="2091.0" cy="891.5" r="14"/>
<circle cx="2068.6" cy="894.3" r="14"/>
<circle cx="2092.3" cy="899.8" r="14"/>
<circle cx="2110.8" cy="893.7" r="14"/>
<circle cx="2115.7" cy="901.5" r="14"/>
<circle cx="2043.0" cy="896.3" r="14"/>
<circle cx="2060.3" cy="902.1" r="14"/>
<circle cx="2079.0" cy="899.0" r="14"/>
<circle cx="2090.5" cy="903.6" r="14"/>
<circle cx="2065.4" cy="910.1" r="14"/>
<circle cx="2040.0" cy="901.8" r="14"/>
<circle cx="2054.5" cy="903.3" r="14"/>
<circle cx="2044.6" cy="905.8" r="14"/>
<circle cx="2036.9" cy="909.8" r="14"/>
<circle cx="2023.1" cy="919.3" r="14"/>
<circle cx="2039.0" cy="908.4" r="14"/>
<circle cx="2033.2" cy="903.2" r="14"/>
<circle cx="2021.7" cy="910.5" r="14"/>
<circle cx="2015.1" cy="907.7" r="14"/>
<circle cx="1991.7" cy="913.3" r="14"/>
<circle cx="2001.7" cy="917.0" r="14"/>
<circle cx="2027.9" cy="914.0" r="14"/>
<circle cx="1998.4" cy="916.3" r="14"/>
<circle cx="1971.7" cy="912.5" r="14"/>
<circle cx="2017.3" cy="922.2" r="14"/>
<circle cx="1998.5" cy="919.5" r="14"/>
<circle cx="2022.6" cy="928.1" r="14"/>
<circle cx="1981.5" cy="929.0" r="14"/>
<circle cx="1967.8" cy="922.3" r="14"/>
<circle cx="1945.7" cy="925.4" r="14"/>
<circle cx="1991.3" cy="928.1" r="14"/>
<circle cx="2002.8" cy="931.9" r="14"/>
<circle cx="1944.1" cy="923.4" r="14"/>
<circle cx="1942.9" cy="930.7" r="14"/>
<circle cx="1961.0" cy="939.1" r="14"/>
<circle cx="1931.0" cy="932.6" r="14"/>
<circle cx="1936.8" cy="934.7" r="14"/>
<circle cx="1931.1" cy="934.8" r="14"/>
<circle cx="1936.5" cy="931.3" r="14"/>
<circle cx="1948.5" cy="940.2" r="14"/>
<circle cx="1924.9" cy="938.5" r="14"/>
<circle cx="1936.7" cy="939.0" r="14"/>
<circle cx="1908.3" cy="941.9" r="14"/>
<circle cx="1917.5" cy="942.9" r="14"/>
<circle cx="1868.8" cy="934.2" r="14"/>
<circle cx="1876.9" cy="943.5" r="14"/>
<circle cx="1913.0" cy="940.5" r="14"/>
<circle cx="1883.8" cy="943.9" r="14"/>
<circle cx="1900.5" cy="941.7" r="14"/>
<circle cx="1895.5" cy="942.0" r="14"/>
<circle cx="1905.3" cy="948.9" r="14"/>
<circle cx="1891.8" cy="946.4" r="14"/>
<circle cx="1891.2" cy="946.2" r="14"/>
<circle cx="1866.6" cy="946.9" r="14"/>
<circle cx="1851.7" cy="948.9" r="14"/>
<circle cx="1846.8" cy="949.3" r="14"/>
<circle cx="1846.9" cy="942.9" r="14"/>
<circle cx="1831.0" cy="948.0" r="14"/>
<circle cx="1837.2" cy="950.7" r="14"/>
<circle cx="1841.1" cy="954.4" r="14"/>
<circle cx="1843.0" cy="956.9" r="14"/>
<circle cx="1828.1" cy="950.6" r="14"/>
<circle cx="1795.3" cy="959.9" r="14"/>
<circle cx="1824.3" cy="955.0" r="14"/>
<circle cx="1825.3" cy="956.8" r="14"/>
<circle cx="1836.5" cy="954.5" r="14"/>
<circle cx="1823.1" cy="955.0" r="14"/>
<circle cx="1796.8" cy="961.3" r="14"/>
<circle cx="1791.1" cy="957.3" r="14"/>
<circle cx="1836.0" cy="958.3" r="14"/>
<circle cx="1809.1" cy="962.3" r="14"/>
<circle cx="1824.1" cy="964.4" r="14"/>
<circle cx="1825.2" cy="956.4" r="14"/>
<circle cx="1767.9" cy="960.5" r="14"/>
<circle cx="1785.2" cy="961.5" r="14"/>
<circle cx="1782.2" cy="966.7" r="14"/>
<circle cx="1779.8" cy="968.0" r="14"/>
<circle cx="1775.1" cy="963.1" r="14"/>
<circle cx="1764.7" cy="964.8" r="14"/>
<circle cx="1759.9" cy="966.5" r="14"/>
<circle cx="1725.4" cy="967.7" r="14"/>
<circle cx="1745.2" cy="964.8" r="14"/>
<circle cx="1730.4" cy="968.1" r="14"/>
<circle cx="1741.8" cy="965.0" r="14"/>
<circle cx="1726.9" cy="962.0" r="14"/>
<circle cx="1742.1" cy="964.6" r="14"/>
<circle cx="1741.4" cy="968.7" r="14"/>
<circle cx="1727.9" cy="970.5" r="14"/>
<circle cx="1723.8" cy="964.5" r="14"/>
<circle cx="1715.5" cy="966.0" r="14"/>
<circle cx="1701.4" cy="970.3" r="14"/>
<circle cx="1702.2" cy="966.2" r="14"/>
<circle cx="1692.0" cy="972.5" r="14"/>
<circle cx="1703.6" cy="974.0" r="14"/>
<circle cx="1692.5" cy="968.0" r="14"/>
<circle cx="1698.4" cy="974.4" r="14"/>
<circle cx="1659.8" cy="973.1" r="14"/>
<circle cx="1695.4" cy="976.6" r="14"/>
<circle cx="1661.4" cy="975.0" r="14"/>
<circle cx="1657.6" cy="974.6" r="14"/>
<circle cx="1662.9" cy="975.7" r="14"/>
<circle cx="1652.0" cy="977.7" r="14"/>
<circle cx="1663.1" cy="976.9" r="14"/>
<circle cx="1643.2" cy="977.1" r="14"/>
<circle cx="1630.0" cy="975.2" r="14"/>
<circle cx="1629.8" cy="978.8" r="14"/>
<circle cx="1664.3" cy="978.6" r="14"/>
<circle cx="1637.2" cy="981.9" r="14"/>
<circle cx="1611.1" cy="979.6" r="14"/>
<circle cx="1627.9" cy="980.0" r="14"/>
<circle cx="1595.5" cy="979.7" r="14"/>
<circle cx="1651.4" cy="982.1" r="14"/>
<circle cx="1587.4" cy="981.3" r="14"/>
<circle cx="1619.2" cy="981.2" r="14"/>
<circle cx="1616.1" cy="984.8" r="14"/>
<circle cx="1575.9" cy="985.5" r="14"/>
<circle cx="1603.1" cy="983.1" r="14"/>
<circle cx="1611.3" cy="982.9" r="14"/>
<circle cx="1597.5" cy="986.1" r="14"/>
<circle cx="1589.5" cy="984.2" r="14"/>
<circle cx="1597.6" cy="988.2" r="14"/>
<circle cx="1579.1" cy="986.1" r="14"/>
<circle cx="1577.9" cy="987.9" r="14"/>
<circle cx="1565.3" cy="985.9" r="14"/>
<circle cx="1574.7" cy="987.8" r="14"/>
<circle cx="1542.0" cy="989.6" r="14"/>
<circle cx="1568.9" cy="989.4" r="14"/>
<circle cx="1541.3" cy="988.9" r="14"/>
<circle cx="1526.4" cy="992.1" r="14"/>
<circle cx="1548.4" cy="991.3" r="14"/>
<circle cx="1568.0" cy="990.9" r="14"/>
<circle cx="1550.5" cy="991.2" r="14"/>
<circle cx="1519.6" cy="992.0" r="14"/>
<circle cx="1537.1" cy="994.0" r="14"/>
<circle cx="1512.1" cy="992.8" r="14"/>
<circle cx="1513.7" cy="994.0" r="14"/>
<circle cx="1513.3" cy="993.9" r="14"/>
<circle cx="1467.8" cy="996.2" r="14"/>
<circle cx="1506.5" cy="995.6" r="14"/>
<circle cx="1480.2" cy="997.0" r="14"/>
<circle cx="1481.9" cy="997.4" r="14"/>
<circle cx="1463.6" cy="997.2" r="14"/>
<circle cx="1458.6" cy="998.7" r="14"/>
<circle cx="1464.6" cy="999.4" r="14"/>
<circle cx="1492.1" cy="998.6" r="14"/>
<circle cx="1503.0" cy="1000.5" r="14"/>
<circle cx="1468.2" cy="1001.9" r="14"/>
<circle cx="1484.0" cy="1001.1" r="14"/>
<circle cx="1455.3" cy="1002.3" r="14"/>
<circle cx="1421.4" cy="1001.7" r="14"/>
<circle cx="1454.2" cy="1003.4" r="14"/>
<circle cx="1455.2" cy="1003.4" r="14"/>
<circle cx="1435.2" cy="1004.8" r="14"/>
<circle cx="1444.0" cy="1005.0" r="14"/>
<circle cx="1444.6" cy="1005.0" r="14"/>
<circle cx="1414.4" cy="1006.8" r="14"/>
<circle cx="1399.1" cy="1006.7" r="14"/>
<circle cx="1417.4" cy="1007.0" r="14"/>
<circle cx="1413.3" cy="1008.1" r="14"/>
<circle cx="1406.4" cy="1008.2" r="14"/>
<circle cx="1426.3" cy="1009.5" r="14"/>
<circle cx="1435.2" cy="1009.9" r="14"/>
<circle cx="1392.4" cy="1010.3" r="14"/>
<circle cx="1408.2" cy="1011.4" r="14"/>
<circle cx="1408.2" cy="1011.2" r="14"/>
<circle cx="1399.8" cy="1012.7" r="14"/>
<circle cx="1401.5" cy="1012.1" r="14"/>
<circle cx="1371.4" cy="1014.1" r="14"/>
<circle cx="1387.4" cy="1014.2" r="14"/>
<circle cx="1406.2" cy="1014.6" r="14"/>
<circle cx="1379.9" cy="1015.1" r="14"/>
<circle cx="1350.1" cy="1016.1" r="14"/>
<circle cx="1367.8" cy="1016.5" r="14"/>
<circle cx="1375.2" cy="1017.1" r="14"/>
<circle cx="1354.9" cy="1018.1" r="14"/>
<circle cx="1333.9" cy="1018.2" r="14"/>
<circle cx="1367.2" cy="1018.9" r="14"/>
<circle cx="1313.1" cy="1019.7" r="14"/>
<circle cx="1340.0" cy="1020.5" r="14"/>
<circle cx="1326.5" cy="1020.7" r="14"/>
<circle cx="1301.3" cy="1021.4" r="14"/>
<circle cx="1339.8" cy="1021.9" r="14"/>
<circle cx="1320.0" cy="1022.8" r="14"/>
<circle cx="1289.0" cy="1023.6" r="14"/>
<circle cx="1315.9" cy="1023.4" r="14"/>
<circle cx="1293.4" cy="1024.3" r="14"/>
<circle cx="1263.3" cy="1024.9" r="14"/>
<circle cx="1280.3" cy="1025.6" r="14"/>
<circle cx="1292.7" cy="1026.5" r="14"/>
<circle cx="1294.9" cy="1026.6" r="14"/>
<circle cx="1282.4" cy="1027.3" r="14"/>
<circle cx="1276.0" cy="1028.1" r="14"/>
<circle cx="1279.0" cy="1028.0" r="14"/>
<circle cx="1262.9" cy="1028.7" r="14"/>
<circle cx="1282.5" cy="1029.3" r="14"/>
<circle cx="1260.5" cy="1030.0" r="14"/>
<circle cx="1258.7" cy="1030.6" r="14"/>
<circle cx="1258.6" cy="1030.9" r="14"/>
<circle cx="1227.1" cy="1032.2" r="14"/>
<circle cx="1228.7" cy="1032.0" r="14"/>
<circle cx="1262.3" cy="1032.6" r="14"/>
<circle cx="1237.8" cy="1033.5" r="14"/>
<circle cx="1223.1" cy="1034.0" r="14"/>
<circle cx="1229.3" cy="1034.2" r="14"/>
<circle cx="1211.2" cy="1034.9" r="14"/>
<circle cx="1219.6" cy="1035.5" r="14"/>
<circle cx="1199.7" cy="1035.8" r="14"/>
<circle cx="1210.9" cy="1036.5" r="14"/>
<circle cx="1176.2" cy="1036.5" r="14"/>
<circle cx="1219.6" cy="1037.3" r="14"/>
<circle cx="1185.1" cy="1037.2" r="14"/>
<circle cx="1163.5" cy="1037.9" r="14"/>
<circle cx="1181.3" cy="1038.4" r="14"/>
<circle cx="1174.6" cy="1039.6" r="14"/>
<circle cx="1178.7" cy="1039.5" r="14"/>
<circle cx="1153.7" cy="1040.2" r="14"/>
<circle cx="1174.0" cy="1040.3" r="14"/>
<circle cx="1198.2" cy="1041.0" r="14"/>
<circle cx="1139.0" cy="1041.4" r="14"/>
<circle cx="1160.1" cy="1041.7" r="14"/>
<circle cx="1145.6" cy="1042.7" r="14"/>
<circle cx="1149.2" cy="1042.4" r="14"/>
<circle cx="1113.9" cy="1043.6" r="14"/>
<circle cx="1119.9" cy="1044.4" r="14"/>
<circle cx="1140.3" cy="1044.0" r="14"/>
<circle cx="1128.4" cy="1044.7" r="14"/>
<circle cx="1149.4" cy="1044.7" r="14"/>
<circle cx="1109.8" cy="1045.6" r="14"/>
<circle cx="1118.7" cy="1045.5" r="14"/>
<circle cx="1144.5" cy="1046.7" r="14"/>
<circle cx="1096.2" cy="1046.8" r="14"/>
<circle cx="1089.9" cy="1046.9" r="14"/>
<circle cx="1098.4" cy="1047.5" r="14"/>
<circle cx="1093.9" cy="1047.8" r="14"/>
<circle cx="1102.4" cy="1048.7" r="14"/>
<circle cx="1087.8" cy="1049.4" r="14"/>
<circle cx="1070.9" cy="1049.5" r="14"/>
<circle cx="1080.4" cy="1049.7" r="14"/>
<circle cx="1104.0" cy="1050.2" r="14"/>
<circle cx="1086.5" cy="1050.9" r="14"/>
<circle cx="1034.0" cy="1050.6" r="14"/>
<circle cx="1058.2" cy="1051.9" r="14"/>
<circle cx="1043.9" cy="1052.3" r="14"/>
<circle cx="1060.0" cy="1051.9" r="14"/>
<circle cx="1044.9" cy="1053.3" r="14"/>
<circle cx="1068.9" cy="1052.9" r="14"/>
<circle cx="1051.1" cy="1053.8" r="14"/>
<circle cx="1046.1" cy="1054.6" r="14"/>
<circle cx="1032.5" cy="1054.2" r="14"/>
<circle cx="1025.3" cy="1054.5" r="14"/>
<circle cx="1025.9" cy="1055.2" r="14"/>
<circle cx="1033.8" cy="1055.6" r="14"/>
<circle cx="1019.7" cy="1056.3" r="14"/>
<circle cx="1004.2" cy="1056.7" r="14"/>
<circle cx="1020.2" cy="1057.1" r="14"/>
<circle cx="1002.4" cy="1057.6" r="14"/>
<circle cx="994.7" cy="1058.1" r="14"/>
<circle cx="981.7" cy="1058.3" r="14"/>
<circle cx="980.2" cy="1059.2" r="14"/>
<circle cx="975.1" cy="1059.5" r="14"/>
<circle cx="952.3" cy="1059.7" r="14"/>
<circle cx="986.2" cy="1061.0" r="14"/>
<circle cx="976.5" cy="1060.6" r="14"/>
<circle cx="963.1" cy="1061.7" r="14"/>
<circle cx="973.3" cy="1061.7" r="14"/>
<circle cx="962.0" cy="1062.5" r="14"/>
<circle cx="956.9" cy="1063.1" r="14"/>
<circle cx="923.8" cy="1063.6" r="14"/>
<circle cx="941.5" cy="1064.3" r="14"/>
<circle cx="945.6" cy="1064.1" r="14"/>
<circle cx="952.9" cy="1065.5" r="14"/>
<circle cx="950.9" cy="1065.5" r="14"/>
<circle cx="942.0" cy="1065.6" r="14"/>
<circle cx="910.4" cy="1066.0" r="14"/>
<circle cx="895.4" cy="1067.5" r="14"/>
<circle cx="919.9" cy="1067.9" r="14"/>
<circle cx="910.0" cy="1067.9" r="14"/>
<circle cx="915.1" cy="1068.6" r="14"/>
<circle cx="899.8" cy="1069.3" r="14"/>
<circle cx="899.0" cy="1069.5" r="14"/>
<circle cx="877.8" cy="1069.8" r="14"/>
<circle cx="892.5" cy="1070.4" r="14"/>
<circle cx="879.6" cy="1071.2" r="14"/>
<circle cx="882.9" cy="1071.5" r="14"/>
<circle cx="879.6" cy="1071.6" r="14"/>
<circle cx="869.9" cy="1072.7" r="14"/>
<circle cx="869.6" cy="1072.4" r="14"/>
<circle cx="862.3" cy="1073.2" r="14"/>
<circle cx="864.8" cy="1074.4" r="14"/>
<circle cx="858.2" cy="1074.5" r="14"/>
<circle cx="844.7" cy="1075.0" r="14"/>
<circle cx="840.1" cy="1075.5" r="14"/>
<circle cx="855.7" cy="1076.3" r="14"/>
<circle cx="835.7" cy="1076.4" r="14"/>
<circle cx="840.5" cy="1076.3" r="14"/>
<circle cx="831.2" cy="1077.5" r="14"/>
<circle cx="819.1" cy="1077.2" r="14"/>
<circle cx="813.4" cy="1077.7" r="14"/>
<circle cx="816.0" cy="1079.3" r="14"/>
<circle cx="812.8" cy="1079.6" r="14"/>
<circle cx="811.2" cy="1079.6" r="14"/>
<circle cx="792.7" cy="1080.2" r="14"/>
<circle cx="793.5" cy="1080.7" r="14"/>
<circle cx="792.9" cy="1081.4" r="14"/>
<circle cx="800.8" cy="1081.3" r="14"/>
<circle cx="769.4" cy="1081.7" r="14"/>
<circle cx="783.7" cy="1082.2" r="14"/>
<circle cx="772.7" cy="1082.9" r="14"/>
<circle cx="775.0" cy="1083.4" r="14"/>
<circle cx="764.5" cy="1083.6" r="14"/>
<circle cx="765.9" cy="1084.3" r="14"/>
<circle cx="769.3" cy="1084.2" r="14"/>
<circle cx="757.1" cy="1084.9" r="14"/>
<circle cx="753.3" cy="1085.1" r="14"/>
<circle cx="748.6" cy="1085.4" r="14"/>
<circle cx="737.5" cy="1086.5" r="14"/>
<circle cx="740.9" cy="1086.4" r="14"/>
<circle cx="732.2" cy="1086.6" r="14"/>
<circle cx="724.4" cy="1087.3" r="14"/>
<circle cx="724.6" cy="1087.4" r="14"/>
<circle cx="719.2" cy="1088.2" r="14"/>
<circle cx="720.3" cy="1088.7" r="14"/>
<circle cx="711.7" cy="1089.2" r="14"/>
<circle cx="704.8" cy="1088.9" r="14"/>
<circle cx="710.7" cy="1089.6" r="14"/>
<circle cx="703.9" cy="1090.6" r="14"/>
<circle cx="700.9" cy="1090.3" r="14"/>
<circle cx="693.3" cy="1091.2" r="14"/>
<circle cx="685.6" cy="1091.6" r="14"/>
<circle cx="679.8" cy="1091.1" r="14"/>
<circle cx="676.2" cy="1092.3" r="14"/>
<circle cx="677.4" cy="1092.5" r="14"/>
<circle cx="669.4" cy="1092.9" r="14"/>
<circle cx="658.3" cy="1093.6" r="14"/>
<circle cx="660.1" cy="1093.6" r="14"/>
<circle cx="650.2" cy="1093.8" r="14"/>
<circle cx="652.3" cy="1094.4" r="14"/>
<circle cx="642.7" cy="1094.4" r="14"/>
<circle cx="638.3" cy="1095.1" r="14"/>
<circle cx="639.2" cy="1094.7" r="14"/>
<circle cx="634.2" cy="1096.2" r="14"/>
<circle cx="624.3" cy="1095.9" r="14"/>
<circle cx="628.4" cy="1096.6" r="14"/>
<circle cx="628.8" cy="1096.8" r="14"/>
<circle cx="612.5" cy="1097.1" r="14"/>
<circle cx="618.8" cy="1097.5" r="14"/>
<circle cx="606.6" cy="1097.9" r="14"/>
<circle cx="602.9" cy="1097.7" r="14"/>
<circle cx="599.6" cy="1098.4" r="14"/>
<circle cx="591.7" cy="1099.3" r="14"/>
<circle cx="595.1" cy="1099.0" r="14"/>
<circle cx="588.5" cy="1099.3" r="14"/>
<circle cx="580.9" cy="1100.6" r="14"/>
<circle cx="577.9" cy="1100.7" r="14"/>
<circle cx="570.6" cy="1101.2" r="14"/>
<circle cx="569.2" cy="1101.0" r="14"/>
<circle cx="567.8" cy="1101.5" r="14"/>
<circle cx="557.6" cy="1101.9" r="14"/>
<circle cx="556.1" cy="1102.2" r="14"/>
<circle cx="553.1" cy="1102.4" r="14"/>
<circle cx="550.6" cy="1102.3" r="14"/>
<circle cx="546.8" cy="1102.9" r="14"/>
<circle cx="539.0" cy="1103.0" r="14"/>
<circle cx="534.3" cy="1104.2" r="14"/>
<circle cx="532.1" cy="1104.0" r="14"/>
<circle cx="526.4" cy="1104.4" r="14"/>
<circle cx="522.2" cy="1104.8" r="14"/>
<circle cx="520.0" cy="1105.1" r="14"/>
<circle cx="516.5" cy="1105.6" r="14"/>
<circle cx="510.2" cy="1105.5" r="14"/>
<circle cx="505.2" cy="1105.6" r="14"/>
<circle cx="501.9" cy="1106.9" r="14"/>
<circle cx="494.6" cy="1106.5" r="14"/>
<circle cx="492.6" cy="1106.9" r="14"/>
<circle cx="487.1" cy="1107.1" r="14"/>
<circle cx="486.3" cy="1107.5" r="14"/>
<circle cx="480.4" cy="1108.0" r="14"/>
<circle cx="475.5" cy="1108.5" r="14"/>
<circle cx="470.9" cy="1108.2" r="14"/>
<circle cx="464.9" cy="1109.0" r="14"/>
<circle cx="463.0" cy="1109.0" r="14"/>
<circle cx="459.4" cy="1109.8" r="14"/>
<circle cx="453.4" cy="1109.4" r="14"/>
<circle cx="450.0" cy="1110.1" r="14"/>
<circle cx="445.7" cy="1110.6" r="14"/>
<circle cx="440.1" cy="1110.3" r="14"/>
<circle cx="437.2" cy="1111.0" r="14"/>
<circle cx="433.0" cy="1111.3" r="14"/>
<circle cx="428.2" cy="1111.3" r="14"/>
<circle cx="423.8" cy="1111.8" r="14"/>
<circle cx="419.8" cy="1112.4" r="14"/>
<circle cx="414.6" cy="1112.5" r="14"/>
<circle cx="410.9" cy="1112.6" r="14"/>
<circle cx="406.9" cy="1112.9" r="14"/>
<circle cx="402.0" cy="1113.4" r="14"/>
<circle cx="398.2" cy="1113.9" r="14"/>
<circle cx="393.6" cy="1114.0" r="14"/>
<circle cx="389.0" cy="1114.3" r="14"/>
<circle cx="385.1" cy="1114.8" r="14"/>
<circle cx="380.7" cy="1114.1" r="14"/>
<circle cx="376.5" cy="1114.4" r="14"/>
<circle cx="372.1" cy="1114.4" r="14"/>
<circle cx="368.0" cy="1115.6" r="14"/>
<circle cx="363.5" cy="1115.0" r="14"/>
<circle cx="359.3" cy="1115.9" r="14"/>
<circle cx="355.0" cy="1116.4" r="14"/>
<circle cx="350.7" cy="1116.0" r="14"/>
<circle cx="346.4" cy="1116.4" r="14"/>
<circle cx="342.1" cy="1116.8" r="14"/>
<circle cx="338.3" cy="1117.1" r="14"/>
</g>
<g fill="#000" stroke="none" shape-rendering="geometricPrecision">
<rect x="1599.8" y="1070" width="10.3" height="47.7"/>
<path d="M1600 1024 L1610 1024 L1621 1072 Q1621 1076.5 1617 1076.5 L1593 1076.5 Q1589 1076.5 1589 1072 Z"/>
</g>
<g stroke="#000" stroke-width="16.5" fill="none" shape-rendering="geometricPrecision">
<line x1="330" y1="1111.5" x2="1968.5" y2="991.6"/>
<line x1="1450" y1="1065.3" x2="2370.6" y2="798.4"/>
</g>
</g>
<text transform="translate(1558.5,1171) skewX(-6)" font-size="72" font-weight="bold" font-style="italic">T</text>
<text x="1604.5" y="1193" font-size="63" font-weight="bold">g</text>
<g font-size="82" font-weight="bold" fill="#000">
<text x="279" y="1170.0" text-anchor="end" font-size="81.5">4000</text>
<text x="279" y="997.5" text-anchor="end" font-size="81.5">4500</text>
<text x="279" y="825.0" text-anchor="end" font-size="81.5">5000</text>
<text x="279" y="652.5" text-anchor="end" font-size="81.5">5500</text>
<text x="279" y="480.0" text-anchor="end" font-size="81.5">6000</text>
<text x="279" y="307.5" text-anchor="end" font-size="81.5">6500</text>
<text x="279" y="135.0" text-anchor="end" font-size="81.5">7000</text>
<text x="340.0" y="1336" text-anchor="middle">0.0</text>
<text x="669.1" y="1336" text-anchor="middle">0.4</text>
<text x="998.2" y="1336" text-anchor="middle">0.8</text>
<text x="1327.4" y="1336" text-anchor="middle">1.2</text>
<text x="1656.5" y="1336" text-anchor="middle">1.6</text>
<text x="1985.6" y="1336" text-anchor="middle">2.0</text>
<text x="2314.7" y="1336" text-anchor="middle">2.4</text>
</g>
<text transform="translate(1276.5,1450) skewX(-6)" font-size="110" font-weight="bold" font-style="italic">T</text>
<text transform="translate(107,634.5) rotate(-90) skewX(-13.5)" font-size="110" font-weight="bold" font-style="italic">V</text>
<text x="2242.5" y="148.5" font-size="88" text-anchor="middle">(a)</text>
<rect x="390" y="147.0" width="186" height="6" fill="#800080"/>
<g fill="#fff" stroke="#800080" stroke-width="5" shape-rendering="geometricPrecision"><rect x="470.1" y="137.6" width="24.8" height="24.8"/></g>
<g font-style="italic" fill="#000"><text transform="translate(594,177.0) skewX(-5.7)" font-size="80">k</text><text transform="translate(637,203.0) scale(1.2,1)" font-size="86">θ</text><text transform="translate(684,184.5) skewX(-19) scale(1.08,1)" font-size="80">=</text><text transform="translate(760.5,177.0) skewX(-5.7)" font-size="80">1</text></g>
<rect x="390" y="277.0" width="186" height="6" fill="#8000ff"/>
<g fill="#8000ff"><rect x="467.5" y="265.0" width="30" height="30"/></g>
<g font-style="italic" fill="#000"><text transform="translate(594,307.0) skewX(-5.7)" font-size="80">k</text><text transform="translate(637,333.0) scale(1.2,1)" font-size="86">θ</text><text transform="translate(684,314.5) skewX(-19) scale(1.08,1)" font-size="80">=</text><text transform="translate(755.5,307.0) skewX(-5.7)" font-size="80">10</text></g>
<rect x="390" y="408.2" width="186" height="6" fill="#ff00ff"/>
<g fill="#fff" stroke="#ff00ff" stroke-width="5" shape-rendering="geometricPrecision"><path d="M482.5 394.0l17.2 17.2l-17.2 17.2l-17.2 -17.2z"/></g>
<g font-style="italic" fill="#000"><text transform="translate(594,438.2) skewX(-5.7)" font-size="80">k</text><text transform="translate(637,464.2) scale(1.2,1)" font-size="86">θ</text><text transform="translate(684,445.7) skewX(-19) scale(1.08,1)" font-size="80">=</text><text transform="translate(755.5,438.2) skewX(-5.7)" font-size="80">30</text></g>
<rect x="390" y="538.8" width="186" height="6" fill="#000000"/>
<g fill="#fff" stroke="#000000" stroke-width="5" shape-rendering="geometricPrecision"><circle cx="482.5" cy="541.8" r="14"/></g>
<g font-style="italic" fill="#000"><text transform="translate(594,568.8) skewX(-5.7)" font-size="80">k</text><text transform="translate(637,594.8) scale(1.2,1)" font-size="86">θ</text><text transform="translate(684,576.3) skewX(-19) scale(1.08,1)" font-size="80">=</text><text transform="translate(755.5,568.8) skewX(-5.7)" font-size="80">40</text></g>
<rect x="390" y="669.6" width="186" height="6" fill="#ff0000"/>
<g fill="#fff" stroke="#ff0000" stroke-width="5" shape-rendering="geometricPrecision"><circle cx="482.5" cy="672.6" r="14"/></g>
<g font-style="italic" fill="#000"><text transform="translate(594,699.6) skewX(-5.7)" font-size="80">k</text><text transform="translate(637,725.6) scale(1.2,1)" font-size="86">θ</text><text transform="translate(684,707.1) skewX(-19) scale(1.08,1)" font-size="80">=</text><text transform="translate(755.5,699.6) skewX(-5.7)" font-size="80">60</text></g>
<g fill="#000">
<rect x="330" y="2608.0" width="31" height="6"/>
<rect x="330" y="2521.8" width="15" height="6"/>
<rect x="330" y="2435.7" width="31" height="6"/>
<rect x="330" y="2349.5" width="15" height="6"/>
<rect x="330" y="2263.3" width="31" height="6"/>
<rect x="330" y="2177.2" width="15" height="6"/>
<rect x="330" y="2091.0" width="31" height="6"/>
<rect x="330" y="2004.8" width="15" height="6"/>
<rect x="330" y="1918.7" width="31" height="6"/>
<rect x="330" y="1832.5" width="15" height="6"/>
<rect x="330" y="1746.3" width="31" height="6"/>
<rect x="330" y="1660.2" width="15" height="6"/>
<rect x="330" y="1574.0" width="31" height="6"/>
<rect x="495.4" y="2679" width="6" height="15"/>
<rect x="666.8" y="2663" width="6" height="31"/>
<rect x="838.2" y="2679" width="6" height="15"/>
<rect x="1009.7" y="2663" width="6" height="31"/>
<rect x="1181.1" y="2679" width="6" height="15"/>
<rect x="1352.5" y="2663" width="6" height="31"/>
<rect x="1523.9" y="2679" width="6" height="15"/>
<rect x="1695.3" y="2663" width="6" height="31"/>
<rect x="1866.7" y="2679" width="6" height="15"/>
<rect x="2038.2" y="2663" width="6" height="31"/>
<rect x="2209.6" y="2679" width="6" height="15"/>
</g>
<rect x="327.0" y="1491.0" width="2057.0" height="1206.0" fill="none" stroke="#000" stroke-width="6"/>
<g clip-path="url(#cb)" shape-rendering="geometricPrecision">
<polyline fill="none" stroke="#0000ff" stroke-width="16" stroke-linejoin="round" stroke-linecap="round" points="361.3,2658.4 361.3,2658.4 361.3,2658.3 361.4,2658.2 361.5,2658.0 361.6,2657.6 361.9,2657.0 362.2,2656.2 362.7,2655.2 363.3,2653.8 364.1,2652.1 365.0,2650.0 366.1,2647.5 367.4,2644.6 368.9,2641.1 370.7,2637.1 372.7,2632.6 375.0,2627.5 377.5,2621.8 380.3,2615.6 383.2,2608.9 386.4,2601.8 389.8,2594.3 393.3,2586.4 397.0,2578.3 400.8,2569.9 404.7,2561.3 408.8,2552.5 412.9,2543.6 417.1,2534.7 421.3,2525.6 425.6,2516.6 429.8,2507.7 434.1,2498.8 438.4,2490.1 442.7,2481.5 446.9,2473.0 451.1,2464.8 455.3,2456.7 459.4,2448.8 463.4,2441.2 467.4,2433.9 471.3,2426.9 475.1,2420.1 478.9,2413.7 482.5,2407.6 486.0,2401.9 489.4,2396.6 492.7,2391.8 495.9,2387.3 498.9,2383.2 501.8,2379.5 504.7,2376.1 507.4,2372.9 510.2,2369.9 512.9,2367.1 515.6,2364.4 518.2,2361.8 520.9,2359.2 523.7,2356.5 526.5,2353.8 529.3,2351.0 532.2,2348.0 535.3,2344.8 538.4,2341.3 541.7,2337.5 545.1,2333.5 548.6,2329.2 552.3,2324.7 556.0,2319.9 559.8,2315.0 563.7,2309.8 567.7,2304.6 571.7,2299.1 575.9,2293.6 580.0,2288.0 584.2,2282.3 588.4,2276.6 592.7,2270.8 597.0,2265.1 601.3,2259.3 605.6,2253.6 609.9,2247.9 614.2,2242.2 618.7,2236.4 623.2,2230.5 627.9,2224.5 632.7,2218.4 637.7,2212.0 642.9,2205.5 648.3,2198.7 654.0,2191.6 659.9,2184.2 666.2,2176.5 672.7,2168.4 679.7,2159.9 687.0,2151.0 694.7,2141.6 702.7,2131.7 711.2,2121.5 719.9,2110.9 729.0,2100.0 738.3,2088.9 747.9,2077.5 757.7,2065.9 767.7,2054.1 777.9,2042.2 788.2,2030.2 798.7,2018.2 809.2,2006.2 819.9,1994.2 830.5,1982.3 841.2,1970.5 852.0,1958.8 862.7,1947.3 873.6,1935.9 884.6,1924.8 895.7,1913.8 907.0,1903.0 918.6,1892.4 930.5,1882.1 942.8,1871.9 955.4,1862.0 968.4,1852.4 981.9,1843.0 995.8,1833.9 1010.4,1825.1 1025.5,1816.6 1041.2,1808.3 1057.6,1800.4 1074.7,1792.8 1092.3,1785.5 1110.4,1778.4 1129.1,1771.6 1148.2,1765.1 1167.7,1758.8 1187.7,1752.8 1207.9,1747.0 1228.4,1741.4 1249.2,1736.0 1270.2,1730.8 1291.4,1725.8 1312.7,1720.9 1334.1,1716.2 1355.5,1711.7 1376.9,1707.3 1398.4,1703.0 1419.8,1698.9 1441.2,1694.9 1462.6,1691.1 1484.1,1687.4 1505.5,1683.8 1526.9,1680.4 1548.3,1677.1 1569.8,1674.0 1591.2,1671.0 1612.6,1668.2 1634.1,1665.5 1655.5,1662.9 1676.9,1660.5 1698.3,1658.3 1719.8,1656.2 1741.2,1654.2 1762.6,1652.3 1784.0,1650.6 1805.5,1649.0 1826.9,1647.4 1848.3,1645.9 1869.7,1644.5 1891.2,1643.2 1912.6,1641.9 1934.0,1640.6 1955.5,1639.4 1976.9,1638.1 1998.3,1636.9 2019.7,1635.7 2041.2,1634.4 2062.6,1633.1 2083.9,1631.7 2105.1,1630.4 2126.0,1629.0 2146.6,1627.6 2166.7,1626.3 2186.4,1624.9 2205.4,1623.6 2223.8,1622.3 2241.5,1621.1 2258.3,1619.8 2274.2,1618.7 2289.1,1617.6 2302.9,1616.6 2315.5,1615.7 2326.9,1614.8 2336.9,1614.1 2345.7,1613.4 2353.4,1612.9 2359.9,1612.4 2365.4,1612.0 2370.0,1611.6 2373.8,1611.4 2376.9,1611.1 2379.2,1611.0 2381.0,1610.8 2382.3,1610.7 2383.1,1610.7 2383.6,1610.6 2383.9,1610.6 2384.0,1610.6 2384.0,1610.6"/>
<g stroke="#0000ff" stroke-width="2.3" fill="none" shape-rendering="crispEdges">
<path d="M429.8 2481.0V2526.2M417.3 2481.0h25M417.3 2526.2h25"/>
<path d="M498.4 2344.1V2402.3M485.9 2344.1h25M485.9 2402.3h25"/>
<path d="M532.7 2324.2V2384.3M520.2 2324.2h25M520.2 2384.3h25"/>
<path d="M601.3 2222.8V2292.6M588.8 2222.8h25M588.8 2292.6h25"/>
<path d="M669.8 2131.7V2210.2M657.3 2131.7h25M657.3 2210.2h25"/>
<path d="M841.2 1914.7V2013.8M828.7 1914.7h25M828.7 2013.8h25"/>
<path d="M1012.7 1737.0V1853.0M1000.2 1737.0h25M1000.2 1853.0h25"/>
<path d="M1355.5 1643.3V1768.3M1343.0 1643.3h25M1343.0 1768.3h25"/>
<path d="M1698.3 1586.8V1717.1M1685.8 1586.8h25M1685.8 1717.1h25"/>
<path d="M2041.2 1569.9V1701.9M2028.7 1569.9h25M2028.7 1701.9h25"/>
<path d="M2384.0 1543.3V1677.9M2371.5 1543.3h25M2371.5 1677.9h25"/>
</g>
<g fill="#0000ff">
<circle cx="361.3" cy="2658.4" r="19.2"/>
<circle cx="429.8" cy="2503.6" r="19.2"/>
<circle cx="498.4" cy="2373.2" r="19.2"/>
<circle cx="532.7" cy="2354.2" r="19.2"/>
<circle cx="601.3" cy="2257.7" r="19.2"/>
<circle cx="669.8" cy="2170.9" r="19.2"/>
<circle cx="841.2" cy="1964.2" r="19.2"/>
<circle cx="1012.7" cy="1795.0" r="19.2"/>
<circle cx="1355.5" cy="1705.8" r="19.2"/>
<circle cx="1698.3" cy="1652.0" r="19.2"/>
<circle cx="2041.2" cy="1635.9" r="19.2"/>
<circle cx="2384.0" cy="1610.6" r="19.2"/>
</g>
</g>
<text x="2234.5" y="1597" font-size="88" text-anchor="middle">(b)</text>
<g font-size="82" font-weight="bold" fill="#000">
<text x="311" y="2639.5" text-anchor="end">0.4</text>
<text x="311" y="2467.2" text-anchor="end">0.6</text>
<text x="311" y="2294.8" text-anchor="end">0.8</text>
<text x="311" y="2122.5" text-anchor="end">1.0</text>
<text x="311" y="1950.2" text-anchor="end">1.2</text>
<text x="311" y="1777.8" text-anchor="end">1.4</text>
<text x="311" y="1605.5" text-anchor="end">1.6</text>
<text x="327.0" y="2785" text-anchor="middle">0</text>
<text x="669.8" y="2785" text-anchor="middle">10</text>
<text x="1012.7" y="2785" text-anchor="middle">20</text>
<text x="1355.5" y="2785" text-anchor="middle">30</text>
<text x="1698.3" y="2785" text-anchor="middle">40</text>
<text x="2041.2" y="2785" text-anchor="middle">50</text>
<text x="2384.0" y="2785" text-anchor="middle">60</text>
</g>
<text transform="translate(1232,2889) skewX(-5)" font-size="117" font-weight="bold" font-style="italic">k</text>
<text transform="translate(1291,2926) scale(1.14,1)" font-size="98">θ</text>
<g transform="translate(129,2042) rotate(-90)"><text transform="translate(-41.6,0) skewX(-6)" font-size="106" font-weight="bold" font-style="italic">T</text><text x="25" y="31" font-size="70" font-weight="bold">g</text></g>
</svg>
</body>
</html>
